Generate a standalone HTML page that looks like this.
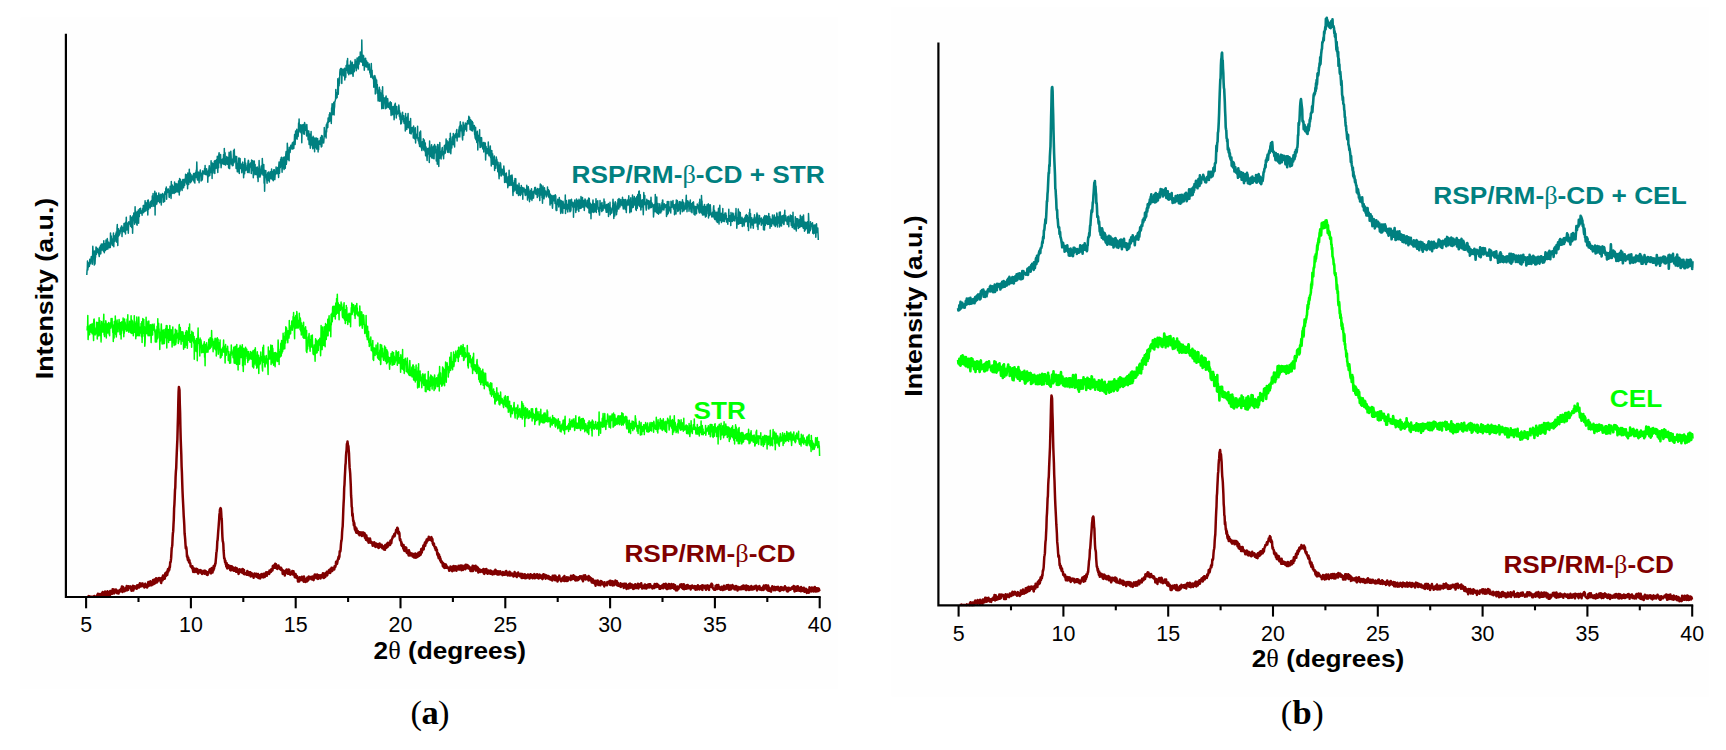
<!DOCTYPE html>
<html lang="en"><head><meta charset="utf-8"><title>XRD patterns</title>
<style>
html,body{margin:0;padding:0;background:#fff;}
body{width:1726px;height:750px;overflow:hidden;}
svg{display:block;}
text{font-family:"Liberation Sans",sans-serif;}
.tk{font-size:21.4px;fill:#000;}
.al{font-size:24.5px;font-weight:bold;fill:#000;}
.cl{font-size:24.6px;font-weight:bold;}
.sym{font-family:"Liberation Serif",serif;font-weight:normal;}
.cap{font-family:"Liberation Serif","DejaVu Serif",serif;font-size:34.5px;fill:#000;}
</style></head><body>
<svg width="1726" height="750" viewBox="0 0 1726 750">
<rect width="1726" height="750" fill="#fff"/>
<rect x="20.3" y="17.3" width="818.1" height="671.6" fill="#fefefe"/>
<rect x="891.3" y="6.7" width="818.1" height="690" fill="#fefefe"/>
<path d="M86.8,275.0 87.0,271.0 87.3,268.4 87.5,260.9 87.8,269.9 88.0,267.5 88.3,262.8 88.5,267.1 88.8,265.7 89.0,265.0 89.3,266.3 89.5,265.2 89.8,259.2 90.0,261.3 90.3,259.5 90.5,263.7 90.8,260.9 91.0,259.1 91.3,256.6 91.5,258.5 91.8,259.3 92.0,257.7 92.3,264.2 92.5,262.6 92.8,246.3 93.0,249.5 93.3,256.5 93.5,255.1 93.8,257.5 94.0,257.3 94.3,265.1 94.5,250.9 94.8,253.8 95.0,263.9 95.3,257.6 95.5,257.4 95.8,252.1 96.0,246.9 96.3,254.5 96.5,254.0 96.8,247.9 97.0,250.0 97.3,252.4 97.5,248.4 97.8,251.8 98.0,252.4 98.3,251.9 98.5,249.4 98.8,253.9 99.0,255.0 99.3,256.5 99.5,247.2 99.8,253.7 100.0,248.2 100.3,253.9 100.5,245.4 100.8,253.7 101.0,249.5 101.3,244.1 101.5,247.9 101.8,249.3 102.0,250.1 102.3,244.6 102.5,243.9 102.8,249.3 103.0,246.3 103.3,249.2 103.5,251.3 103.8,240.8 104.0,248.8 104.3,252.8 104.5,246.1 104.8,243.7 105.0,250.3 105.3,248.0 105.5,250.6 105.8,245.1 106.0,240.0 106.3,245.8 106.5,244.2 106.8,249.2 107.0,246.6 107.3,238.5 107.5,240.2 107.8,249.0 108.0,247.9 108.3,242.0 108.5,244.6 108.8,246.3 109.0,246.2 109.3,247.7 109.5,244.8 109.8,243.1 110.0,242.1 110.3,247.5 110.5,233.1 110.8,241.9 111.0,242.4 111.3,235.9 111.5,243.2 111.8,238.7 112.0,244.9 112.3,240.4 112.5,243.5 112.8,245.6 113.0,241.7 113.3,236.0 113.5,233.0 113.8,246.8 114.0,238.5 114.3,235.7 114.5,239.0 114.8,237.2 115.0,241.4 115.3,237.6 115.5,237.3 115.8,233.8 116.0,238.6 116.3,231.9 116.5,238.9 116.8,242.3 117.0,228.9 117.3,224.6 117.5,237.5 117.8,245.6 118.0,230.0 118.3,228.7 118.5,236.3 118.8,229.9 119.0,231.1 119.3,231.5 119.5,235.0 119.8,230.8 120.0,233.4 120.3,231.2 120.5,228.1 120.8,230.1 121.0,227.2 121.3,231.1 121.5,226.0 121.8,225.9 122.0,236.6 122.3,229.9 122.5,229.6 122.8,231.8 123.0,227.6 123.3,228.2 123.5,230.8 123.8,229.9 124.0,223.5 124.3,231.9 124.5,225.5 124.8,223.3 125.0,223.7 125.3,225.7 125.5,234.1 125.8,221.9 126.0,227.4 126.3,217.3 126.5,226.3 126.8,229.9 127.0,224.8 127.3,222.9 127.5,226.4 127.8,228.2 128.1,227.8 128.3,233.2 128.6,225.4 128.8,221.7 129.1,223.5 129.3,223.5 129.6,224.0 129.8,223.2 130.1,223.9 130.3,215.7 130.6,226.2 130.8,219.8 131.1,217.2 131.3,224.7 131.6,227.4 131.8,223.6 132.1,222.0 132.3,217.0 132.6,233.2 132.8,224.4 133.1,215.4 133.3,216.7 133.6,220.2 133.8,212.9 134.1,220.1 134.3,217.2 134.6,224.2 134.8,222.8 135.1,206.8 135.3,218.4 135.6,211.0 135.8,222.5 136.1,218.2 136.3,219.6 136.6,212.4 136.8,224.6 137.1,225.2 137.3,211.7 137.6,217.7 137.8,212.9 138.1,215.5 138.3,209.9 138.6,223.2 138.8,210.7 139.1,213.4 139.3,216.6 139.6,208.7 139.8,212.9 140.1,211.3 140.3,212.9 140.6,208.2 140.8,213.3 141.1,211.9 141.3,211.2 141.6,212.6 141.8,210.9 142.1,215.2 142.3,210.3 142.6,210.9 142.8,208.4 143.1,208.8 143.3,205.4 143.6,212.8 143.8,205.5 144.1,207.0 144.3,211.5 144.6,211.5 144.8,207.8 145.1,200.7 145.3,210.9 145.6,210.0 145.8,202.6 146.1,210.7 146.3,205.3 146.6,203.3 146.8,208.3 147.1,206.9 147.3,208.4 147.6,200.4 147.8,214.9 148.1,204.3 148.3,200.1 148.6,209.2 148.8,204.8 149.1,207.5 149.3,204.4 149.6,205.4 149.8,206.6 150.1,202.1 150.3,208.0 150.6,202.9 150.8,201.3 151.1,204.9 151.3,206.3 151.6,203.2 151.8,200.3 152.1,206.4 152.3,196.0 152.6,199.0 152.8,203.4 153.1,193.6 153.3,203.0 153.6,202.4 153.8,206.3 154.1,198.3 154.3,199.4 154.6,203.3 154.8,191.2 155.1,214.9 155.3,198.4 155.6,198.0 155.8,204.7 156.1,200.6 156.3,193.0 156.6,203.2 156.8,204.0 157.1,198.2 157.3,198.7 157.6,201.8 157.8,195.7 158.1,201.3 158.3,200.1 158.6,196.2 158.8,192.9 159.1,197.8 159.3,194.8 159.6,202.7 159.8,198.8 160.1,201.4 160.3,198.5 160.6,198.9 160.8,194.2 161.1,200.3 161.3,204.9 161.6,195.7 161.8,194.4 162.1,196.1 162.3,194.5 162.6,193.4 162.8,196.9 163.1,194.9 163.3,202.2 163.6,195.9 163.8,197.1 164.1,199.7 164.3,194.1 164.6,201.4 164.8,192.4 165.1,191.5 165.3,193.3 165.6,194.2 165.8,188.5 166.1,194.2 166.3,187.1 166.6,199.3 166.8,193.6 167.1,191.1 167.3,189.8 167.6,191.9 167.8,192.4 168.1,188.8 168.3,189.2 168.6,192.2 168.8,190.6 169.1,196.7 169.3,197.4 169.6,192.5 169.8,194.3 170.1,186.3 170.3,194.7 170.6,191.7 170.8,193.7 171.1,198.4 171.3,181.5 171.6,192.3 171.8,186.3 172.1,193.4 172.3,185.1 172.6,188.4 172.8,191.3 173.1,192.9 173.3,190.4 173.6,186.5 173.8,187.4 174.1,193.4 174.3,191.2 174.6,182.0 174.8,192.7 175.1,190.7 175.3,192.5 175.6,187.1 175.8,191.9 176.1,183.6 176.3,190.4 176.6,185.7 176.8,190.5 177.1,191.8 177.3,184.1 177.6,186.9 177.8,187.1 178.1,191.9 178.3,189.6 178.6,181.1 178.8,188.2 179.1,189.2 179.3,195.0 179.6,178.4 179.8,183.2 180.1,191.0 180.3,179.3 180.6,179.8 180.8,187.0 181.1,188.9 181.3,181.5 181.6,186.5 181.8,184.5 182.1,190.4 182.3,183.7 182.6,187.8 182.8,179.4 183.1,182.4 183.3,182.6 183.6,187.7 183.8,185.1 184.1,179.2 184.3,185.2 184.6,185.4 184.8,181.5 185.1,180.7 185.3,180.8 185.6,174.2 185.8,182.1 186.1,182.2 186.3,180.8 186.6,184.0 186.8,174.7 187.1,178.1 187.3,178.3 187.6,188.7 187.8,173.1 188.1,182.2 188.3,183.7 188.6,181.1 188.8,184.4 189.1,174.8 189.3,169.2 189.6,182.1 189.8,173.5 190.1,177.1 190.3,173.2 190.6,182.7 190.8,181.7 191.1,174.7 191.3,181.5 191.6,178.0 191.8,176.7 192.1,177.4 192.3,176.2 192.6,179.5 192.8,178.1 193.1,175.1 193.3,180.7 193.6,173.6 193.8,177.4 194.1,177.8 194.3,182.2 194.6,173.5 194.8,183.1 195.1,176.2 195.3,174.5 195.6,172.3 195.8,177.6 196.1,175.1 196.3,170.0 196.6,169.8 196.8,161.9 197.1,171.5 197.3,179.0 197.6,180.1 197.8,177.9 198.1,175.6 198.3,172.1 198.6,174.1 198.8,177.6 199.1,182.8 199.3,177.5 199.6,172.3 199.8,173.6 200.1,171.3 200.3,169.9 200.6,172.4 200.8,174.0 201.1,181.0 201.3,173.2 201.6,178.8 201.8,180.5 202.1,173.1 202.3,179.7 202.6,175.8 202.8,170.8 203.1,173.7 203.3,172.6 203.6,171.4 203.8,171.5 204.1,172.9 204.3,174.1 204.6,168.4 204.8,172.1 205.1,165.5 205.3,173.1 205.6,174.6 205.8,172.6 206.1,173.1 206.3,174.3 206.6,168.8 206.8,170.6 207.1,173.7 207.3,175.8 207.6,173.1 207.8,182.3 208.1,170.9 208.3,175.5 208.6,176.5 208.8,170.4 209.1,167.4 209.3,165.7 209.6,171.4 209.8,175.4 210.1,171.7 210.3,171.1 210.6,168.6 210.8,172.5 211.1,160.8 211.3,170.8 211.6,169.8 211.8,163.6 212.1,178.6 212.3,163.0 212.6,164.1 212.8,163.4 213.1,173.1 213.3,164.2 213.6,170.6 213.8,170.0 214.1,168.3 214.3,161.3 214.6,164.0 214.8,173.5 215.1,160.4 215.3,162.1 215.6,164.7 215.8,168.5 216.1,165.8 216.3,167.6 216.6,159.5 216.8,167.9 217.1,166.0 217.3,156.3 217.6,169.5 217.8,172.5 218.1,159.0 218.3,162.3 218.6,167.8 218.8,155.1 219.1,152.7 219.3,155.4 219.6,158.3 219.8,158.1 220.1,162.9 220.3,161.3 220.6,154.6 220.8,162.2 221.1,167.7 221.3,164.6 221.6,163.6 221.8,159.4 222.1,163.4 222.3,160.9 222.6,162.3 222.8,158.7 223.1,163.9 223.3,161.1 223.6,154.4 223.8,159.7 224.1,164.4 224.3,148.4 224.6,156.8 224.8,155.9 225.1,152.8 225.3,163.4 225.6,165.0 225.8,162.8 226.1,160.5 226.3,159.3 226.6,160.6 226.8,156.5 227.1,163.6 227.3,164.3 227.6,163.9 227.8,157.7 228.1,160.4 228.3,159.4 228.6,167.9 228.8,161.1 229.1,152.3 229.3,162.2 229.6,168.6 229.8,163.6 230.1,164.5 230.3,161.0 230.6,152.5 230.8,151.3 231.1,155.8 231.3,160.7 231.6,162.7 231.8,164.4 232.1,160.1 232.3,165.8 232.6,160.5 232.8,158.8 233.1,165.6 233.3,158.1 233.6,150.4 233.8,157.7 234.1,162.7 234.3,149.2 234.6,161.0 234.8,161.2 235.1,156.6 235.3,156.4 235.6,160.9 235.8,160.6 236.1,168.5 236.3,164.7 236.6,156.4 236.8,159.6 237.1,166.4 237.3,171.7 237.6,165.3 237.8,165.0 238.1,171.8 238.3,163.8 238.6,162.6 238.8,158.0 239.1,162.0 239.3,173.6 239.6,158.3 239.8,164.5 240.1,158.5 240.3,165.2 240.6,168.6 240.8,163.8 241.1,168.1 241.3,168.2 241.6,167.1 241.8,172.7 242.1,168.7 242.3,164.2 242.6,162.7 242.8,162.1 243.1,167.9 243.3,164.5 243.6,177.8 243.8,174.0 244.1,166.7 244.3,164.9 244.6,173.7 244.8,158.4 245.1,164.7 245.3,170.8 245.6,162.9 245.8,164.9 246.1,165.6 246.3,170.0 246.6,167.9 246.8,169.1 247.1,170.0 247.3,167.7 247.6,172.5 247.8,164.6 248.1,161.7 248.3,160.3 248.6,161.1 248.8,165.8 249.1,172.7 249.3,169.1 249.6,165.9 249.8,164.0 250.1,166.4 250.3,167.0 250.6,166.5 250.8,162.8 251.1,167.0 251.3,173.6 251.6,159.9 251.8,168.4 252.1,160.4 252.3,170.4 252.6,165.5 252.8,160.8 253.1,170.3 253.3,177.8 253.6,170.5 253.8,175.2 254.1,170.0 254.3,161.1 254.6,172.6 254.8,168.8 255.1,164.4 255.3,174.2 255.6,172.1 255.8,168.7 256.1,174.8 256.3,167.5 256.6,174.1 256.8,167.4 257.1,173.8 257.3,166.9 257.6,178.1 257.8,172.9 258.1,181.6 258.3,168.5 258.6,170.0 258.8,175.8 259.1,160.5 259.3,167.8 259.6,176.9 259.8,174.6 260.1,176.9 260.3,171.4 260.6,175.3 260.8,169.8 261.1,167.2 261.3,165.9 261.6,170.9 261.8,171.1 262.1,174.0 262.3,158.4 262.6,165.2 262.8,171.6 263.1,175.2 263.3,171.6 263.6,170.5 263.8,164.5 264.1,183.2 264.3,169.9 264.6,191.2 264.8,181.6 265.1,176.2 265.3,172.7 265.6,175.8 265.8,170.4 266.1,176.6 266.3,175.6 266.6,178.0 266.8,179.9 267.1,183.3 267.3,174.3 267.6,180.5 267.8,172.7 268.1,172.4 268.3,173.6 268.6,172.1 268.8,180.6 269.1,180.4 269.3,182.0 269.6,176.4 269.8,177.8 270.1,174.1 270.3,171.7 270.6,178.5 270.8,177.8 271.1,171.8 271.3,179.0 271.6,169.0 271.8,175.6 272.1,173.6 272.3,173.9 272.6,171.4 272.8,180.0 273.1,178.2 273.3,180.7 273.6,176.0 273.8,169.7 274.1,173.4 274.3,169.7 274.6,176.6 274.8,179.6 275.1,175.5 275.3,171.3 275.6,172.0 275.8,174.2 276.1,166.9 276.3,173.5 276.6,173.4 276.8,169.9 277.1,170.2 277.3,172.4 277.6,167.8 277.8,167.5 278.1,174.1 278.3,171.4 278.6,177.4 278.8,165.6 279.1,161.9 279.3,173.3 279.6,173.1 279.8,165.5 280.1,162.0 280.3,167.8 280.6,159.4 280.8,166.0 281.1,157.7 281.3,165.8 281.6,157.3 281.8,165.1 282.1,172.3 282.3,164.2 282.6,168.3 282.8,161.9 283.1,160.4 283.3,157.4 283.6,167.9 283.8,162.8 284.1,169.6 284.3,157.1 284.6,160.8 284.8,162.5 285.1,166.9 285.3,168.2 285.6,157.1 285.8,154.6 286.1,151.5 286.3,164.3 286.6,161.5 286.8,154.8 287.1,156.8 287.3,143.3 287.6,148.7 287.8,159.6 288.1,156.8 288.3,159.0 288.6,149.8 288.8,156.1 289.1,160.7 289.3,147.3 289.6,152.1 289.8,149.6 290.1,152.4 290.3,150.3 290.6,149.1 290.8,145.3 291.1,148.5 291.3,145.3 291.6,146.7 291.8,146.4 292.1,148.9 292.3,143.0 292.6,143.5 292.8,148.9 293.1,142.7 293.3,141.9 293.6,146.1 293.8,148.5 294.1,141.6 294.3,141.5 294.6,134.6 294.8,141.4 295.1,144.5 295.3,140.7 295.6,131.0 295.8,138.3 296.1,132.5 296.3,134.8 296.6,135.6 296.8,129.2 297.1,139.3 297.3,132.5 297.6,135.5 297.8,134.1 298.1,136.4 298.3,134.2 298.6,123.0 298.8,128.9 299.1,119.0 299.3,125.7 299.6,130.3 299.8,130.8 300.1,132.1 300.3,124.8 300.6,127.7 300.8,126.8 301.1,131.8 301.3,133.2 301.6,124.9 301.8,142.8 302.1,126.6 302.3,125.1 302.6,129.4 302.8,130.2 303.1,129.4 303.3,124.4 303.6,133.7 303.8,127.8 304.1,134.3 304.3,133.9 304.6,122.6 304.8,124.1 305.1,124.2 305.3,129.8 305.6,129.2 305.8,130.3 306.1,125.9 306.3,131.5 306.6,135.9 306.8,124.4 307.1,129.5 307.3,131.8 307.6,130.6 307.8,130.8 308.1,139.8 308.3,138.3 308.6,137.1 308.8,130.9 309.1,144.5 309.3,137.2 309.6,133.9 309.8,135.8 310.1,135.9 310.3,148.2 310.6,140.4 310.8,140.5 311.1,131.6 311.3,144.7 311.6,137.5 311.8,137.7 312.1,145.7 312.3,143.2 312.6,147.3 312.8,148.7 313.1,136.3 313.3,143.4 313.6,137.2 313.8,143.7 314.1,147.9 314.3,138.1 314.6,151.7 314.8,138.5 315.1,138.9 315.3,143.4 315.6,147.4 315.8,138.0 316.1,144.0 316.3,138.1 316.6,149.1 316.8,144.6 317.1,142.1 317.3,148.4 317.6,138.4 317.8,142.3 318.1,151.9 318.3,141.0 318.6,149.8 318.8,144.8 319.1,140.9 319.3,142.9 319.6,144.3 319.8,142.2 320.1,140.4 320.3,140.6 320.6,137.6 320.8,144.4 321.1,145.5 321.3,146.9 321.6,135.6 321.8,146.5 322.1,142.5 322.3,136.0 322.6,142.0 322.8,142.4 323.1,142.6 323.3,142.8 323.6,143.0 323.8,141.9 324.1,137.1 324.3,127.5 324.6,132.3 324.8,136.2 325.1,131.7 325.3,135.7 325.6,135.3 325.8,131.1 326.1,138.0 326.3,124.8 326.6,132.1 326.8,125.1 327.1,122.9 327.3,128.0 327.6,121.9 327.8,127.5 328.1,118.0 328.3,122.4 328.6,117.9 328.8,119.8 329.1,118.5 329.3,114.6 329.6,121.5 329.8,112.7 330.1,113.1 330.3,120.4 330.6,120.1 330.8,118.1 331.1,116.0 331.3,123.6 331.6,107.9 331.8,109.2 332.1,103.7 332.3,114.8 332.6,111.5 332.8,114.3 333.1,112.9 333.3,107.0 333.6,103.7 333.8,102.2 334.1,115.1 334.3,109.0 334.6,106.6 334.8,101.7 335.1,101.5 335.3,100.0 335.6,99.2 335.8,89.4 336.1,98.4 336.3,96.0 336.6,97.7 336.8,96.1 337.1,97.6 337.3,92.5 337.6,94.6 337.8,78.8 338.1,83.6 338.3,94.3 338.6,80.2 338.8,82.9 339.1,85.7 339.3,77.6 339.6,83.2 339.8,72.7 340.1,69.5 340.3,70.9 340.6,68.6 340.8,74.7 341.1,72.7 341.3,74.9 341.6,68.5 341.8,83.6 342.1,72.1 342.3,72.2 342.6,74.2 342.8,71.1 343.1,69.3 343.3,72.3 343.6,75.8 343.8,74.6 344.1,75.7 344.3,69.2 344.6,68.2 344.8,80.1 345.1,70.4 345.3,73.4 345.6,74.5 345.8,77.4 346.1,65.4 346.3,69.1 346.6,69.3 346.8,69.8 347.1,60.7 347.3,70.6 347.6,58.5 347.8,72.2 348.1,73.2 348.3,73.4 348.6,65.6 348.8,74.8 349.1,66.9 349.3,65.3 349.6,66.3 349.8,66.8 350.1,71.1 350.3,73.8 350.6,61.1 350.8,67.7 351.1,73.8 351.3,70.6 351.6,71.8 351.8,63.0 352.1,73.3 352.3,62.3 352.6,69.6 352.8,74.4 353.1,76.3 353.3,70.1 353.6,71.4 353.8,64.7 354.1,65.0 354.3,71.7 354.6,66.4 354.8,65.5 355.1,59.6 355.3,66.0 355.6,67.8 355.8,61.2 356.1,62.1 356.3,70.7 356.6,64.4 356.8,62.0 357.1,58.0 357.3,59.9 357.6,61.2 357.8,67.8 358.1,59.0 358.3,69.0 358.6,57.0 358.8,59.2 359.1,64.1 359.3,59.2 359.6,56.4 359.8,59.2 360.1,61.5 360.3,52.0 360.6,58.2 360.8,58.7 361.1,57.3 361.3,62.1 361.6,56.4 361.8,40.0 362.1,59.0 362.3,62.0 362.6,57.9 362.8,65.5 363.1,55.2 363.3,64.8 363.6,55.7 363.8,58.9 364.1,61.4 364.3,70.3 364.6,64.2 364.8,58.9 365.1,66.6 365.3,60.4 365.6,58.3 365.8,64.0 366.1,62.8 366.3,66.9 366.6,60.9 366.8,65.3 367.1,66.9 367.3,65.8 367.6,64.9 367.8,62.5 368.1,69.9 368.3,67.1 368.6,69.1 368.8,66.0 369.1,68.0 369.3,64.0 369.6,69.3 369.8,72.7 370.1,70.3 370.3,74.1 370.6,72.3 370.8,77.3 371.1,71.1 371.3,63.5 371.6,74.9 371.8,73.0 372.1,70.2 372.3,77.8 372.6,76.9 372.8,78.4 373.1,75.9 373.3,78.9 373.6,80.0 373.8,87.3 374.1,77.6 374.3,81.3 374.6,83.8 374.8,75.6 375.1,77.0 375.3,94.0 375.6,77.9 375.8,88.7 376.1,83.4 376.3,84.5 376.6,80.0 376.8,85.3 377.1,93.3 377.3,84.6 377.6,93.7 377.8,93.0 378.1,100.9 378.3,90.6 378.6,98.5 378.8,97.4 379.1,92.7 379.3,87.2 379.6,101.3 379.8,89.3 380.1,93.5 380.3,99.7 380.6,101.1 380.8,93.0 381.1,96.9 381.3,96.3 381.6,102.8 381.8,108.8 382.1,90.5 382.3,102.6 382.6,86.7 382.8,99.4 383.1,94.9 383.3,108.5 383.6,101.0 383.8,97.4 384.1,98.7 384.3,98.6 384.6,102.2 384.8,98.2 385.1,104.8 385.3,108.8 385.6,105.5 385.8,97.5 386.1,96.0 386.3,100.0 386.6,108.0 386.8,102.3 387.1,101.1 387.3,104.8 387.6,98.4 387.8,99.8 388.1,107.1 388.3,103.9 388.6,107.4 388.8,107.0 389.1,103.3 389.3,103.1 389.6,104.3 389.8,109.1 390.1,106.9 390.3,101.7 390.6,105.8 390.8,110.0 391.1,115.5 391.3,102.7 391.6,109.2 391.8,106.8 392.1,111.7 392.3,110.2 392.6,114.8 392.8,110.9 393.1,106.5 393.3,106.7 393.6,110.9 393.8,109.8 394.1,119.8 394.3,116.8 394.6,104.8 394.8,111.5 395.1,104.4 395.3,103.2 395.6,113.7 395.8,113.0 396.1,106.4 396.3,118.1 396.6,107.0 396.8,106.4 397.1,114.4 397.3,112.8 397.6,111.3 397.8,111.9 398.1,113.4 398.3,112.1 398.6,112.2 398.8,105.0 399.1,107.6 399.3,116.2 399.6,110.8 399.8,116.4 400.1,119.6 400.3,113.1 400.6,116.1 400.8,124.0 401.1,118.3 401.3,123.5 401.6,122.5 401.8,119.4 402.1,115.9 402.3,113.1 402.6,112.2 402.8,119.3 403.1,119.5 403.3,117.1 403.6,121.8 403.8,115.8 404.1,123.5 404.3,119.2 404.6,119.1 404.8,119.6 405.1,119.4 405.3,130.9 405.6,113.5 405.8,121.5 406.1,126.4 406.3,124.5 406.6,120.4 406.8,129.5 407.1,117.7 407.3,117.0 407.6,125.4 407.8,117.0 408.1,113.4 408.3,127.7 408.6,127.5 408.8,127.7 409.1,122.8 409.3,126.0 409.6,121.4 409.8,133.3 410.1,129.6 410.3,129.7 410.6,118.4 410.8,130.6 411.1,133.9 411.3,133.0 411.6,131.5 411.8,128.5 412.1,127.4 412.3,131.8 412.6,131.2 412.8,131.0 413.1,129.0 413.3,137.9 413.6,126.0 413.8,131.3 414.1,129.3 414.3,136.7 414.6,138.8 414.8,138.3 415.1,136.6 415.3,127.8 415.6,143.1 415.8,136.8 416.1,134.5 416.3,135.5 416.6,134.3 416.8,138.0 417.1,137.9 417.3,135.4 417.6,126.3 417.8,137.5 418.1,140.1 418.3,140.7 418.6,138.1 418.8,141.1 419.1,144.0 419.3,137.9 419.6,146.5 419.8,132.2 420.1,135.5 420.3,137.4 420.6,131.1 420.8,137.6 421.1,147.6 421.3,147.9 421.6,143.3 421.8,150.6 422.1,144.6 422.3,141.7 422.6,145.3 422.8,144.0 423.1,148.1 423.3,138.8 423.6,150.0 423.8,144.1 424.1,150.1 424.3,140.1 424.6,145.3 424.8,147.8 425.1,151.7 425.3,142.9 425.6,155.7 425.8,150.9 426.1,146.9 426.3,154.7 426.6,150.2 426.8,155.1 427.1,160.4 427.3,153.9 427.6,148.6 427.8,149.3 428.1,153.9 428.3,150.3 428.6,148.2 428.8,149.1 429.1,155.0 429.3,162.4 429.6,141.1 429.8,155.7 430.1,151.8 430.3,156.1 430.6,156.5 430.8,153.0 431.1,148.4 431.3,146.8 431.6,144.7 431.8,158.1 432.1,151.9 432.3,150.5 432.6,151.6 432.8,147.0 433.1,154.1 433.3,158.5 433.6,157.7 433.8,146.1 434.1,158.7 434.3,149.5 434.6,144.6 434.8,147.5 435.1,148.6 435.3,152.7 435.6,148.3 435.8,146.3 436.1,151.6 436.3,161.0 436.6,149.7 436.8,154.7 437.1,153.1 437.3,164.2 437.6,144.6 437.8,157.4 438.1,147.2 438.3,150.2 438.6,152.3 438.8,166.4 439.1,149.4 439.3,144.6 439.6,158.2 439.8,142.5 440.1,151.6 440.3,152.5 440.6,153.0 440.8,151.8 441.1,159.0 441.3,154.1 441.6,156.0 441.8,150.5 442.1,149.0 442.3,147.5 442.6,154.5 442.8,151.6 443.1,154.1 443.3,153.9 443.6,158.7 443.8,152.1 444.1,154.3 444.3,145.7 444.6,146.1 444.8,149.2 445.1,145.1 445.3,153.1 445.6,144.2 445.8,150.0 446.1,138.9 446.3,144.5 446.6,147.5 446.8,147.6 447.1,140.8 447.3,148.7 447.6,152.2 447.8,150.5 448.1,144.6 448.3,144.7 448.6,141.9 448.8,149.4 449.1,152.6 449.3,143.9 449.6,138.6 449.8,149.1 450.1,148.4 450.3,133.3 450.6,145.4 450.8,153.8 451.1,147.8 451.3,146.3 451.6,145.4 451.8,148.0 452.1,139.1 452.3,136.9 452.6,144.4 452.8,139.4 453.1,143.2 453.3,133.5 453.6,144.7 453.8,144.7 454.1,140.9 454.3,141.1 454.6,147.0 454.8,134.9 455.1,135.3 455.3,134.1 455.6,136.6 455.8,133.6 456.1,137.7 456.3,134.3 456.6,130.4 456.8,129.6 457.1,141.0 457.3,135.1 457.6,133.9 457.8,134.6 458.1,133.7 458.3,136.9 458.6,135.6 458.8,130.2 459.1,128.8 459.3,127.2 459.6,126.1 459.8,137.1 460.1,126.8 460.3,121.7 460.6,128.1 460.8,126.2 461.1,130.7 461.3,125.2 461.6,131.0 461.8,130.0 462.1,133.5 462.3,137.2 462.6,139.9 462.8,133.2 463.1,122.2 463.3,125.2 463.6,127.7 463.8,135.3 464.1,129.1 464.3,131.2 464.6,125.0 464.8,128.1 465.1,128.4 465.3,123.1 465.6,128.2 465.8,129.3 466.1,123.8 466.3,128.6 466.6,131.1 466.8,124.2 467.1,123.7 467.3,122.2 467.6,120.7 467.8,123.9 468.1,121.3 468.3,121.7 468.6,119.6 468.8,116.2 469.1,118.7 469.3,124.1 469.6,117.5 469.8,122.5 470.1,129.6 470.3,127.5 470.6,119.7 470.8,125.5 471.1,120.3 471.3,130.4 471.6,121.2 471.8,124.4 472.1,130.5 472.3,121.4 472.6,131.1 472.8,122.5 473.1,127.6 473.3,125.9 473.6,127.4 473.8,129.1 474.1,128.8 474.3,125.4 474.6,134.1 474.8,134.2 475.1,137.3 475.3,138.4 475.6,127.3 475.8,139.2 476.1,139.9 476.3,132.7 476.6,140.0 476.8,142.4 477.1,134.3 477.3,131.2 477.6,136.0 477.8,150.0 478.1,139.4 478.3,137.2 478.6,138.1 478.8,135.3 479.1,138.2 479.3,140.8 479.6,129.7 479.8,142.7 480.1,147.6 480.3,141.0 480.6,140.6 480.8,147.3 481.1,137.5 481.3,137.9 481.6,137.7 481.8,143.3 482.1,146.1 482.3,144.3 482.6,147.4 482.8,149.0 483.1,147.9 483.3,142.6 483.6,145.3 483.8,152.1 484.1,142.6 484.3,146.3 484.6,145.9 484.8,147.3 485.1,143.8 485.3,142.9 485.6,160.0 485.8,153.4 486.1,146.6 486.3,149.8 486.6,153.3 486.8,149.2 487.1,153.7 487.3,148.7 487.6,150.1 487.8,151.6 488.1,150.4 488.3,142.1 488.6,153.1 488.8,154.5 489.1,155.7 489.3,149.7 489.6,155.8 489.8,155.6 490.1,147.5 490.3,145.9 490.6,157.8 490.8,152.0 491.1,160.8 491.3,166.0 491.6,154.7 491.8,150.4 492.1,157.8 492.3,161.2 492.6,153.7 492.8,164.3 493.1,163.6 493.3,162.6 493.6,157.8 493.8,164.4 494.1,164.5 494.3,156.0 494.6,170.5 494.8,160.6 495.1,163.8 495.3,160.4 495.6,164.6 495.8,168.3 496.1,160.2 496.3,156.9 496.6,162.5 496.8,159.2 497.1,161.9 497.3,165.0 497.6,165.6 497.8,171.8 498.1,162.2 498.3,168.4 498.6,165.1 498.8,173.5 499.1,178.8 499.3,169.6 499.6,175.9 499.8,166.7 500.1,162.5 500.3,164.2 500.6,163.2 500.8,166.2 501.1,169.6 501.3,175.9 501.6,174.3 501.8,173.6 502.1,170.1 502.3,169.2 502.6,172.7 502.8,173.5 503.1,174.3 503.3,175.1 503.6,173.3 503.8,165.9 504.1,169.6 504.3,171.2 504.6,182.4 504.8,173.5 505.1,178.6 505.3,182.3 505.6,177.8 505.8,175.0 506.1,175.7 506.3,172.9 506.6,178.9 506.8,182.7 507.1,180.6 507.3,181.8 507.6,181.9 507.8,187.7 508.1,176.7 508.3,180.4 508.6,183.0 508.8,185.7 509.1,170.2 509.3,178.6 509.6,180.3 509.8,177.0 510.1,185.4 510.3,183.0 510.6,180.6 510.8,175.5 511.1,177.1 511.3,178.9 511.6,185.3 511.8,178.4 512.0,174.9 512.3,177.8 512.5,181.8 512.8,191.8 513.0,195.5 513.3,182.9 513.5,189.3 513.8,191.5 514.0,191.2 514.3,185.3 514.5,180.4 514.8,184.1 515.0,178.4 515.3,187.6 515.5,190.1 515.8,178.8 516.0,186.9 516.3,188.5 516.5,192.8 516.8,193.5 517.0,191.2 517.3,185.0 517.5,186.6 517.8,193.5 518.0,185.9 518.3,188.5 518.5,195.6 518.8,189.6 519.0,183.3 519.3,188.1 519.5,192.3 519.8,188.9 520.0,194.8 520.3,195.5 520.5,187.4 520.8,188.1 521.0,190.0 521.3,185.4 521.5,192.4 521.8,190.1 522.0,194.4 522.3,188.6 522.5,187.5 522.8,199.3 523.0,187.8 523.3,189.1 523.5,188.6 523.8,190.6 524.0,188.0 524.3,191.9 524.5,189.1 524.8,190.5 525.0,193.9 525.3,195.4 525.5,194.5 525.8,189.4 526.0,194.3 526.3,192.1 526.5,192.2 526.8,185.3 527.0,195.6 527.3,192.1 527.5,200.1 527.8,195.5 528.0,188.0 528.3,186.8 528.5,197.7 528.8,189.0 529.0,195.7 529.3,191.4 529.5,201.7 529.8,193.0 530.0,199.2 530.3,198.4 530.5,190.6 530.8,191.2 531.0,198.9 531.3,192.5 531.5,188.8 531.8,197.7 532.0,200.4 532.3,192.3 532.5,198.4 532.8,191.7 533.0,198.2 533.3,191.3 533.5,198.1 533.8,194.6 534.0,191.5 534.3,193.3 534.5,189.9 534.8,187.4 535.0,187.6 535.3,191.9 535.5,187.6 535.8,194.0 536.0,194.4 536.3,194.1 536.5,189.9 536.8,192.2 537.0,191.9 537.3,197.6 537.5,188.5 537.8,190.3 538.0,190.9 538.3,191.3 538.5,193.0 538.8,189.1 539.0,196.2 539.3,189.1 539.5,195.8 539.8,200.6 540.0,190.8 540.3,184.0 540.5,195.1 540.8,193.9 541.0,194.2 541.3,184.9 541.5,195.2 541.8,187.3 542.0,197.7 542.3,196.5 542.5,203.2 542.8,190.7 543.0,185.9 543.3,197.1 543.5,196.4 543.8,191.2 544.0,198.8 544.3,196.1 544.5,187.7 544.8,191.9 545.0,191.6 545.3,193.2 545.5,194.7 545.8,191.1 546.0,193.4 546.3,197.0 546.5,194.3 546.8,193.6 547.0,193.7 547.3,194.8 547.5,187.1 547.8,193.8 548.0,191.4 548.3,196.4 548.5,189.8 548.8,196.5 549.0,197.6 549.3,191.0 549.5,198.0 549.8,193.9 550.0,205.1 550.3,199.7 550.5,194.3 550.8,198.9 551.0,198.0 551.3,203.5 551.5,200.0 551.8,200.9 552.0,195.6 552.3,206.5 552.5,208.2 552.8,202.1 553.0,199.3 553.3,200.3 553.5,195.7 553.8,200.8 554.0,195.4 554.3,200.5 554.5,198.8 554.8,197.1 555.0,203.4 555.3,194.7 555.5,201.1 555.8,195.8 556.0,209.5 556.3,210.4 556.5,205.7 556.8,210.4 557.0,205.0 557.3,205.0 557.5,201.0 557.8,199.2 558.0,203.8 558.3,201.1 558.5,201.8 558.8,207.0 559.0,203.5 559.3,197.5 559.5,203.4 559.8,201.3 560.0,203.5 560.3,200.2 560.5,210.2 560.8,213.4 561.0,200.6 561.3,208.3 561.5,208.2 561.8,201.2 562.0,206.4 562.3,212.1 562.5,209.8 562.8,213.2 563.0,201.3 563.3,203.2 563.5,207.8 563.8,208.1 564.0,206.8 564.3,205.0 564.5,205.0 564.8,204.1 565.0,208.7 565.3,194.9 565.5,213.6 565.8,204.5 566.0,200.6 566.3,209.1 566.5,200.6 566.8,208.3 567.0,204.9 567.3,209.1 567.5,209.9 567.8,212.0 568.0,204.3 568.3,205.1 568.5,206.2 568.8,200.1 569.0,208.7 569.3,206.6 569.5,200.2 569.8,211.1 570.0,211.7 570.3,200.1 570.5,208.1 570.8,210.9 571.0,209.1 571.3,201.2 571.5,199.3 571.8,204.7 572.0,203.0 572.3,205.0 572.5,204.5 572.8,207.1 573.0,202.3 573.3,203.9 573.5,217.3 573.8,203.9 574.0,207.5 574.3,205.5 574.5,205.1 574.8,200.1 575.0,206.2 575.3,203.7 575.5,207.3 575.8,212.5 576.0,204.4 576.3,206.8 576.5,199.1 576.8,203.9 577.0,210.0 577.3,203.0 577.5,200.5 577.8,204.1 578.0,202.3 578.3,202.0 578.5,201.4 578.8,211.5 579.0,199.2 579.3,201.2 579.5,200.5 579.8,208.2 580.0,201.7 580.3,208.5 580.5,203.6 580.8,202.8 581.0,196.6 581.3,208.1 581.5,205.3 581.8,204.7 582.0,202.5 582.3,201.2 582.5,197.6 582.8,207.2 583.0,204.3 583.3,201.6 583.5,200.5 583.8,203.8 584.0,203.0 584.3,210.5 584.5,206.8 584.8,201.0 585.0,198.9 585.3,202.7 585.5,199.8 585.8,204.2 586.0,205.7 586.3,206.7 586.5,205.9 586.8,203.3 587.0,206.8 587.3,200.5 587.5,204.1 587.8,208.0 588.0,205.8 588.3,199.2 588.5,199.8 588.8,197.9 589.0,212.7 589.3,198.4 589.5,204.5 589.8,213.1 590.0,209.9 590.3,211.1 590.5,203.3 590.8,208.7 591.0,218.7 591.3,205.6 591.5,207.6 591.8,204.5 592.0,205.9 592.3,207.6 592.5,212.1 592.8,202.3 593.0,200.1 593.3,206.4 593.5,207.2 593.8,212.5 594.0,209.6 594.3,203.8 594.5,209.0 594.8,211.4 595.0,207.9 595.3,205.2 595.5,209.6 595.8,205.2 596.0,198.8 596.3,212.5 596.5,201.3 596.8,205.4 597.0,205.5 597.3,205.5 597.5,205.7 597.8,200.8 598.0,209.3 598.3,207.2 598.5,207.2 598.8,211.7 599.0,211.8 599.3,212.9 599.5,215.1 599.8,209.1 600.0,200.6 600.3,208.2 600.5,207.3 600.8,207.6 601.0,204.8 601.3,203.5 601.5,210.8 601.8,211.6 602.0,202.6 602.3,209.8 602.5,206.8 602.8,205.8 603.0,210.5 603.3,207.3 603.5,205.2 603.8,207.8 604.0,199.0 604.3,205.1 604.5,205.8 604.8,201.7 605.0,208.4 605.3,208.8 605.5,205.1 605.8,207.0 606.0,210.6 606.3,212.3 606.5,204.5 606.8,209.2 607.0,212.2 607.3,207.6 607.5,204.5 607.8,204.5 608.0,206.4 608.3,203.4 608.5,216.5 608.8,205.3 609.0,209.4 609.3,208.6 609.5,210.5 609.8,206.1 610.0,202.2 610.3,214.8 610.5,207.5 610.8,208.3 611.0,208.6 611.3,213.2 611.5,211.1 611.8,212.8 612.0,211.2 612.3,208.3 612.5,208.7 612.8,204.4 613.0,199.2 613.3,206.5 613.5,202.8 613.8,218.5 614.0,214.0 614.3,212.3 614.5,204.8 614.8,216.0 615.0,204.8 615.3,201.8 615.5,203.6 615.8,202.7 616.0,207.4 616.3,207.5 616.5,214.8 616.8,210.8 617.0,211.7 617.3,208.2 617.5,205.7 617.8,203.3 618.0,199.6 618.3,202.3 618.5,204.3 618.8,209.1 619.0,198.5 619.3,199.8 619.5,206.5 619.8,201.0 620.0,206.9 620.3,203.6 620.5,202.0 620.8,199.4 621.0,204.7 621.3,201.9 621.5,202.3 621.8,202.1 622.0,205.6 622.3,205.4 622.5,197.3 622.8,203.9 623.0,206.2 623.3,208.9 623.5,207.8 623.8,205.2 624.0,199.4 624.3,200.9 624.5,208.1 624.8,201.1 625.0,208.5 625.3,209.5 625.5,199.5 625.8,205.9 626.0,203.5 626.3,212.6 626.5,207.5 626.8,201.7 627.0,205.6 627.3,199.9 627.5,200.9 627.8,204.6 628.0,202.2 628.3,205.0 628.5,199.8 628.8,195.7 629.0,202.0 629.3,199.7 629.5,200.5 629.8,212.7 630.0,208.5 630.3,202.7 630.5,201.5 630.8,197.8 631.0,204.9 631.3,211.7 631.5,202.1 631.8,203.9 632.0,204.4 632.3,207.8 632.5,195.1 632.8,203.9 633.0,204.9 633.3,207.2 633.5,204.8 633.8,198.4 634.0,200.6 634.3,196.5 634.5,203.9 634.8,203.8 635.0,205.2 635.3,198.8 635.5,198.1 635.8,209.5 636.0,203.7 636.3,210.4 636.5,204.8 636.8,196.6 637.0,206.3 637.3,208.2 637.5,200.9 637.8,194.6 638.0,205.7 638.3,202.2 638.5,204.0 638.8,191.3 639.0,204.8 639.3,191.0 639.5,199.1 639.8,206.6 640.0,194.9 640.3,194.8 640.5,200.8 640.8,209.9 641.0,209.7 641.3,200.2 641.5,207.1 641.8,205.3 642.0,204.0 642.3,204.4 642.5,199.8 642.8,206.4 643.0,207.6 643.3,214.7 643.5,207.1 643.8,192.6 644.0,198.0 644.3,204.7 644.5,203.6 644.8,195.4 645.0,204.5 645.3,202.0 645.5,203.4 645.8,203.2 646.0,207.7 646.3,210.1 646.5,206.9 646.8,199.2 647.0,200.4 647.3,201.3 647.5,204.0 647.8,202.5 648.0,202.9 648.3,200.5 648.5,208.7 648.8,208.3 649.0,208.9 649.3,204.5 649.5,206.9 649.8,201.1 650.0,200.8 650.3,202.9 650.5,207.8 650.8,204.7 651.0,197.2 651.3,205.9 651.5,207.4 651.8,206.4 652.0,202.9 652.3,206.1 652.5,204.1 652.8,204.6 653.0,205.7 653.3,209.3 653.5,217.0 653.8,212.9 654.0,209.0 654.3,204.6 654.5,205.1 654.8,205.3 655.0,211.4 655.3,194.6 655.5,207.7 655.8,198.0 656.0,206.6 656.3,212.3 656.5,202.8 656.8,196.9 657.0,212.3 657.3,213.2 657.5,208.9 657.8,212.2 658.0,203.4 658.3,211.9 658.5,214.2 658.8,209.7 659.0,208.2 659.3,212.5 659.5,211.9 659.8,203.8 660.0,212.9 660.3,210.3 660.5,207.8 660.8,212.8 661.0,211.2 661.3,210.4 661.5,205.1 661.8,210.9 662.0,202.5 662.3,206.7 662.5,200.1 662.8,200.0 663.0,209.3 663.3,207.1 663.5,207.8 663.8,210.0 664.0,209.0 664.3,203.7 664.5,207.8 664.8,207.3 665.0,205.3 665.3,207.1 665.5,206.0 665.8,204.8 666.0,206.2 666.3,208.7 666.5,216.5 666.8,204.2 667.0,209.9 667.3,201.4 667.5,214.6 667.8,206.3 668.0,208.3 668.3,213.2 668.5,212.0 668.8,201.4 669.0,210.2 669.3,206.8 669.5,210.4 669.8,208.4 670.0,211.0 670.3,209.0 670.5,207.2 670.8,212.9 671.0,201.2 671.3,205.9 671.5,203.7 671.8,207.2 672.0,204.5 672.3,207.1 672.5,201.8 672.8,205.7 673.0,200.6 673.3,207.5 673.5,209.0 673.8,205.1 674.0,204.8 674.3,204.8 674.5,214.8 674.8,208.4 675.0,209.2 675.3,206.2 675.5,205.3 675.8,203.7 676.0,214.0 676.3,200.1 676.5,208.6 676.8,207.2 677.0,206.2 677.3,200.5 677.5,201.9 677.8,211.4 678.0,204.2 678.3,210.9 678.5,210.0 678.8,209.6 679.0,208.5 679.3,201.8 679.5,204.9 679.8,209.9 680.0,201.5 680.3,214.1 680.5,204.5 680.8,206.6 681.0,202.4 681.3,208.4 681.5,203.6 681.8,205.7 682.0,201.8 682.3,211.8 682.5,199.7 682.8,208.6 683.0,207.7 683.3,208.5 683.5,202.2 683.8,211.0 684.0,210.7 684.3,207.3 684.5,207.9 684.8,205.9 685.0,209.3 685.3,203.0 685.5,208.9 685.8,208.3 686.0,200.5 686.3,195.3 686.5,206.1 686.8,205.9 687.0,211.8 687.3,206.8 687.5,204.5 687.8,200.8 688.0,206.3 688.3,204.2 688.5,202.0 688.8,206.2 689.0,211.3 689.3,207.2 689.5,202.3 689.8,208.3 690.0,202.2 690.3,200.1 690.5,209.1 690.8,204.6 691.0,211.8 691.3,208.4 691.5,203.7 691.8,208.1 692.0,212.8 692.3,206.4 692.5,202.7 692.8,204.5 693.0,203.9 693.3,202.4 693.5,201.9 693.8,209.4 694.0,214.2 694.3,206.1 694.5,211.1 694.8,211.7 695.0,215.1 695.3,207.1 695.5,206.4 695.8,209.8 696.0,208.5 696.3,209.4 696.5,213.7 696.8,206.4 697.0,209.2 697.3,204.1 697.5,207.7 697.8,205.5 698.0,205.2 698.3,207.6 698.5,206.7 698.8,210.3 699.0,212.2 699.3,202.3 699.5,213.1 699.8,199.3 700.0,210.0 700.3,212.0 700.5,206.2 700.8,208.1 701.0,205.8 701.3,213.0 701.5,195.6 701.8,205.1 702.0,201.0 702.3,210.2 702.5,215.0 702.8,214.6 703.0,212.4 703.3,210.7 703.5,206.4 703.8,215.0 704.0,212.5 704.3,206.2 704.5,204.4 704.8,207.2 705.0,214.7 705.3,215.4 705.5,217.1 705.8,206.8 706.0,208.7 706.3,216.2 706.5,211.3 706.8,213.7 707.0,204.8 707.3,209.0 707.5,210.5 707.8,209.2 708.0,209.0 708.3,203.8 708.5,217.9 708.8,211.6 709.0,204.7 709.3,215.7 709.5,211.4 709.8,214.3 710.0,210.5 710.3,204.8 710.5,208.2 710.8,213.0 711.0,214.9 711.3,213.8 711.5,214.5 711.8,217.0 712.0,213.1 712.3,216.3 712.5,216.8 712.8,213.4 713.0,211.8 713.3,210.4 713.5,207.2 713.8,205.7 714.0,218.1 714.3,212.5 714.5,210.3 714.8,219.5 715.0,217.0 715.3,213.1 715.5,217.3 715.8,212.2 716.0,214.6 716.3,221.0 716.5,217.8 716.8,212.2 717.0,216.4 717.3,222.4 717.5,213.1 717.8,211.9 718.0,221.9 718.3,212.6 718.5,208.3 718.8,214.7 719.0,224.1 719.3,217.0 719.5,218.6 719.8,205.2 720.0,212.3 720.3,220.0 720.5,213.2 720.8,220.7 721.0,217.2 721.3,216.9 721.5,222.6 721.8,213.3 722.0,213.5 722.3,216.1 722.5,216.7 722.8,208.6 723.0,221.2 723.3,217.0 723.5,215.4 723.8,218.9 724.0,214.6 724.3,221.6 724.5,216.8 724.8,219.7 725.0,212.9 725.3,215.6 725.5,218.5 725.8,212.9 726.0,214.2 726.3,215.2 726.5,222.0 726.8,220.5 727.0,221.2 727.3,218.7 727.5,221.4 727.8,224.2 728.0,218.4 728.3,219.6 728.5,220.3 728.8,209.3 729.0,217.5 729.3,219.8 729.5,221.3 729.8,216.7 730.0,216.1 730.3,215.5 730.5,217.5 730.8,225.6 731.0,212.6 731.3,218.1 731.5,217.8 731.8,218.1 732.0,216.3 732.3,221.4 732.5,214.1 732.8,213.0 733.0,220.8 733.3,213.7 733.5,220.4 733.8,219.0 734.0,216.0 734.3,217.5 734.5,218.6 734.8,221.0 735.0,216.4 735.3,218.2 735.5,213.0 735.8,218.0 736.0,208.5 736.3,219.1 736.5,217.4 736.8,228.3 737.0,224.9 737.3,218.8 737.5,223.5 737.8,220.7 738.0,214.6 738.3,209.1 738.5,224.3 738.8,221.3 739.0,211.2 739.3,222.4 739.5,223.6 739.8,216.8 740.0,223.2 740.3,212.4 740.5,218.9 740.8,220.0 741.0,223.3 741.3,221.7 741.5,220.9 741.8,222.4 742.0,217.2 742.3,226.4 742.5,218.6 742.8,223.5 743.0,220.1 743.3,219.1 743.5,222.7 743.8,222.2 744.0,226.0 744.3,224.9 744.5,217.9 744.8,222.5 745.0,220.8 745.3,217.0 745.5,215.7 745.8,221.5 746.0,218.2 746.3,214.5 746.5,220.1 746.8,221.5 747.0,221.0 747.3,215.4 747.5,218.1 747.8,226.5 748.0,217.3 748.3,219.3 748.5,230.6 748.8,222.2 749.0,218.6 749.3,212.4 749.5,222.1 749.8,209.3 750.0,220.7 750.3,217.1 750.5,213.6 750.8,228.0 751.0,220.4 751.3,224.8 751.5,224.1 751.8,217.8 752.0,221.3 752.3,219.4 752.5,225.1 752.8,222.8 753.0,219.5 753.3,228.2 753.5,223.3 753.8,223.0 754.0,217.7 754.3,222.8 754.5,214.8 754.8,223.1 755.0,217.1 755.3,222.0 755.5,220.0 755.8,222.2 756.0,222.8 756.3,221.0 756.5,221.0 756.8,214.9 757.0,213.1 757.3,226.7 757.5,223.8 757.8,215.0 758.0,229.5 758.3,218.3 758.5,223.6 758.8,223.2 759.0,220.3 759.3,224.0 759.5,215.5 759.8,221.3 760.0,220.3 760.3,221.8 760.5,220.3 760.8,218.7 761.0,218.3 761.3,225.3 761.5,217.9 761.8,223.1 762.0,223.0 762.3,221.1 762.5,223.4 762.8,223.9 763.0,219.3 763.3,223.0 763.5,229.7 763.8,217.0 764.0,220.3 764.3,218.3 764.5,230.1 764.8,215.5 765.0,221.6 765.3,225.6 765.5,217.8 765.8,221.0 766.0,218.5 766.3,215.8 766.5,221.3 766.8,223.7 767.0,219.9 767.3,222.3 767.5,224.5 767.8,216.2 768.0,216.2 768.3,224.2 768.5,218.8 768.8,213.4 769.0,218.1 769.3,224.2 769.5,222.8 769.8,216.7 770.0,228.3 770.3,223.1 770.5,221.1 770.8,219.1 771.0,223.2 771.3,219.7 771.5,226.2 771.8,222.7 772.0,223.9 772.3,220.0 772.5,214.9 772.8,223.5 773.0,216.9 773.3,220.7 773.5,221.1 773.8,217.8 774.0,224.9 774.3,215.0 774.5,223.7 774.8,218.5 775.0,225.2 775.3,226.5 775.5,217.3 775.8,217.8 776.0,225.0 776.3,221.7 776.5,222.3 776.8,213.0 777.0,213.8 777.3,223.1 777.5,226.9 777.8,217.7 778.0,217.0 778.3,221.6 778.5,222.7 778.8,223.1 779.0,218.8 779.3,212.3 779.5,226.9 779.8,218.5 780.0,226.0 780.3,212.1 780.5,222.1 780.8,218.4 781.0,215.9 781.3,224.6 781.5,226.0 781.8,218.0 782.0,223.2 782.3,215.8 782.5,217.8 782.8,219.4 783.0,220.8 783.3,223.1 783.5,215.2 783.8,224.5 784.0,224.5 784.3,219.4 784.5,215.3 784.8,210.2 785.0,220.1 785.3,217.3 785.5,220.8 785.8,215.8 786.0,220.3 786.3,220.1 786.5,220.4 786.8,221.6 787.0,221.6 787.3,224.5 787.5,217.1 787.8,223.5 788.0,221.2 788.3,218.7 788.5,216.3 788.8,226.8 789.0,221.7 789.3,218.5 789.5,221.1 789.8,220.8 790.0,218.6 790.3,215.0 790.5,221.6 790.8,220.3 791.0,221.3 791.3,225.4 791.5,215.7 791.8,217.2 792.0,222.1 792.3,227.4 792.5,224.1 792.8,224.7 793.0,212.3 793.3,223.9 793.5,223.6 793.8,224.8 794.0,228.7 794.3,224.3 794.5,226.4 794.8,229.1 795.0,223.4 795.3,216.8 795.5,222.7 795.8,225.3 796.0,224.9 796.3,230.9 796.5,222.0 796.8,218.6 797.0,220.3 797.3,225.9 797.5,219.8 797.8,218.8 798.0,219.8 798.3,228.5 798.5,224.5 798.8,222.1 799.0,227.2 799.3,226.6 799.5,219.6 799.8,227.4 800.0,225.0 800.3,215.2 800.5,219.0 800.8,225.2 801.0,226.2 801.3,223.0 801.5,220.0 801.8,225.4 802.0,216.6 802.3,226.8 802.5,223.9 802.8,224.5 803.0,221.9 803.3,228.2 803.5,214.9 803.8,221.1 804.0,227.3 804.3,221.9 804.5,231.2 804.8,226.9 805.0,221.9 805.3,229.9 805.5,224.9 805.8,227.8 806.0,222.8 806.3,222.9 806.5,228.5 806.8,226.0 807.0,222.4 807.3,221.9 807.5,228.5 807.8,233.3 808.0,222.3 808.3,228.8 808.5,213.6 808.8,220.1 809.0,229.0 809.3,232.9 809.5,226.5 809.8,228.6 810.0,227.4 810.3,230.7 810.5,221.8 810.8,229.2 811.0,224.7 811.3,225.2 811.5,226.6 811.8,225.8 812.0,223.5 812.3,225.7 812.5,222.8 812.8,233.2 813.0,229.9 813.3,225.3 813.5,233.8 813.8,232.6 814.0,229.3 814.3,225.0 814.5,228.4 814.8,229.8 815.0,233.3 815.3,226.7 815.5,225.1 815.8,237.3 816.0,233.5 816.3,229.0 816.5,223.8 816.8,229.8 817.0,232.5 817.3,231.1 817.5,231.4 817.8,228.1 818.0,232.8 818.3,240.0" fill="none" stroke="#008080" stroke-width="1.5" stroke-linejoin="round"/>
<path d="M87.1,330.5 87.3,326.4 87.6,327.0 87.8,315.4 88.1,339.6 88.3,335.8 88.6,327.4 88.8,333.7 89.1,330.8 89.3,326.1 89.6,334.8 89.8,327.4 90.1,327.3 90.3,324.6 90.6,331.7 90.8,328.5 91.1,332.2 91.3,325.6 91.6,329.8 91.8,324.0 92.1,333.8 92.3,330.1 92.6,330.9 92.8,331.3 93.1,323.2 93.3,333.4 93.6,340.6 93.8,319.6 94.1,319.0 94.3,320.3 94.6,333.6 94.8,329.6 95.1,335.0 95.3,332.9 95.6,330.0 95.8,330.4 96.1,327.8 96.3,333.7 96.6,322.3 96.8,326.3 97.1,330.0 97.3,338.9 97.6,324.3 97.8,322.5 98.1,325.4 98.3,334.1 98.6,327.2 98.8,336.1 99.1,317.8 99.3,334.9 99.6,334.4 99.8,320.4 100.1,329.3 100.3,335.3 100.6,328.9 100.8,334.1 101.1,341.9 101.3,329.9 101.6,321.6 101.8,323.9 102.1,331.9 102.3,327.1 102.6,327.2 102.8,327.6 103.1,331.9 103.3,322.1 103.6,319.4 103.8,314.2 104.1,334.9 104.3,328.5 104.6,336.6 104.8,328.0 105.1,323.7 105.3,330.7 105.6,327.5 105.8,320.8 106.1,322.9 106.3,337.9 106.6,329.9 106.8,330.2 107.1,326.2 107.3,323.9 107.6,332.9 107.8,327.2 108.1,323.4 108.3,327.0 108.6,322.5 108.8,328.8 109.1,334.1 109.3,325.8 109.6,335.8 109.8,323.8 110.1,328.5 110.3,322.8 110.6,326.3 110.8,327.9 111.1,318.6 111.3,323.5 111.6,323.7 111.8,322.8 112.1,318.6 112.3,326.0 112.6,329.8 112.8,332.7 113.1,331.2 113.3,341.5 113.6,329.3 113.8,324.8 114.1,338.1 114.3,321.4 114.6,332.9 114.8,321.9 115.1,329.4 115.3,316.1 115.6,332.5 115.8,334.6 116.1,321.8 116.3,336.9 116.6,331.6 116.8,327.5 117.1,320.0 117.3,327.0 117.6,326.3 117.8,331.3 118.1,331.8 118.3,323.4 118.6,324.1 118.8,324.1 119.1,319.5 119.3,323.8 119.6,326.6 119.8,331.1 120.1,334.6 120.3,322.5 120.6,330.2 120.8,324.5 121.1,338.9 121.3,326.8 121.6,333.4 121.8,321.7 122.1,322.4 122.3,328.2 122.6,324.8 122.8,329.0 123.1,318.1 123.3,330.8 123.6,321.9 123.8,336.8 124.1,325.3 124.3,333.2 124.6,319.0 124.8,329.4 125.1,321.9 125.3,324.2 125.6,327.1 125.8,325.1 126.1,328.4 126.3,331.2 126.6,330.6 126.8,326.4 127.1,319.1 127.3,322.3 127.6,325.8 127.8,314.8 128.1,331.2 128.3,325.5 128.6,325.4 128.8,332.3 129.1,330.7 129.3,328.1 129.6,321.2 129.8,328.6 130.1,328.8 130.3,321.8 130.6,332.8 130.8,329.8 131.1,315.7 131.3,327.6 131.6,319.7 131.8,333.4 132.1,331.6 132.3,320.7 132.6,322.0 132.8,327.6 133.1,325.7 133.3,335.8 133.6,331.4 133.8,325.6 134.1,330.5 134.3,315.7 134.6,329.1 134.8,332.3 135.1,326.4 135.3,323.5 135.6,330.7 135.8,338.7 136.1,326.5 136.3,321.3 136.6,336.0 136.8,317.1 137.1,330.7 137.3,324.6 137.6,333.3 137.8,323.2 138.1,335.7 138.3,329.9 138.6,318.4 138.8,317.1 139.1,326.6 139.3,335.8 139.6,329.3 139.8,329.0 140.1,327.3 140.3,333.0 140.6,331.0 140.8,330.5 141.1,323.4 141.3,335.8 141.6,336.9 141.8,321.8 142.1,342.4 142.3,333.5 142.6,326.6 142.8,318.6 143.1,333.3 143.3,332.8 143.6,326.3 143.8,319.6 144.1,336.2 144.3,326.5 144.6,327.3 144.8,346.2 145.1,342.2 145.3,335.6 145.6,327.6 145.8,334.0 146.1,317.3 146.3,331.0 146.6,326.2 146.8,323.2 147.1,321.6 147.3,333.7 147.6,331.3 147.8,331.8 148.1,335.8 148.3,326.2 148.6,324.1 148.8,321.1 149.1,329.4 149.3,335.7 149.6,330.6 149.8,335.2 150.1,324.9 150.3,329.0 150.6,327.4 150.8,324.8 151.1,342.6 151.3,336.9 151.6,327.8 151.8,327.9 152.1,332.0 152.3,324.2 152.6,335.0 152.8,325.2 153.1,330.5 153.3,326.9 153.6,330.1 153.8,325.3 154.1,324.0 154.3,327.6 154.6,329.3 154.8,331.6 155.1,333.7 155.3,342.1 155.6,338.1 155.8,332.1 156.1,337.8 156.3,329.8 156.6,342.0 156.8,337.0 157.1,326.2 157.3,338.3 157.6,338.7 157.8,318.8 158.1,329.9 158.3,331.5 158.6,323.3 158.8,328.3 159.1,329.0 159.3,337.4 159.6,336.2 159.8,349.5 160.1,332.4 160.3,341.2 160.6,335.1 160.8,336.3 161.1,328.2 161.3,323.9 161.6,330.5 161.8,339.2 162.1,343.9 162.3,338.4 162.6,337.8 162.8,330.2 163.1,343.8 163.3,342.7 163.6,332.1 163.8,334.9 164.1,329.5 164.3,343.6 164.6,340.1 164.8,334.7 165.1,337.6 165.3,337.8 165.6,333.0 165.8,328.3 166.1,328.1 166.3,325.5 166.6,338.1 166.8,348.1 167.1,325.8 167.3,336.3 167.6,337.9 167.8,330.0 168.1,336.8 168.3,329.4 168.6,342.5 168.8,332.3 169.1,336.3 169.3,340.3 169.6,333.3 169.8,325.6 170.1,332.8 170.3,340.2 170.6,335.4 170.8,337.2 171.1,329.7 171.3,336.7 171.6,340.1 171.8,336.2 172.1,346.9 172.3,334.8 172.6,330.1 172.8,326.9 173.1,342.7 173.3,335.8 173.6,341.9 173.8,338.8 174.1,345.5 174.3,343.5 174.6,334.1 174.8,337.9 175.1,342.5 175.3,329.3 175.6,344.7 175.8,343.4 176.1,342.1 176.3,335.4 176.6,338.3 176.8,330.2 177.1,337.0 177.3,333.3 177.6,337.2 177.8,333.9 178.1,338.4 178.3,343.5 178.6,333.0 178.8,342.1 179.1,325.5 179.3,324.6 179.6,336.3 179.8,337.0 180.1,339.5 180.3,327.6 180.6,336.7 180.8,337.8 181.1,344.3 181.3,336.6 181.6,340.2 181.8,331.7 182.1,336.2 182.3,334.8 182.6,341.3 182.8,331.7 183.1,332.7 183.3,340.7 183.6,349.3 183.8,339.7 184.1,339.3 184.3,335.6 184.6,341.1 184.8,340.8 185.1,347.6 185.3,339.7 185.6,332.4 185.8,334.6 186.1,332.3 186.3,330.8 186.6,345.2 186.8,342.7 187.1,331.0 187.3,348.3 187.6,339.6 187.8,332.8 188.1,340.5 188.3,338.0 188.6,334.0 188.8,327.4 189.1,338.8 189.3,340.3 189.6,324.0 189.8,341.9 190.1,342.3 190.3,336.2 190.6,339.6 190.8,337.5 191.1,334.4 191.3,337.3 191.6,347.2 191.8,331.3 192.1,341.1 192.3,341.0 192.6,336.1 192.8,337.9 193.1,332.6 193.3,336.0 193.6,341.1 193.8,343.2 194.1,336.4 194.3,359.2 194.6,338.8 194.8,343.1 195.1,341.3 195.3,340.6 195.6,350.6 195.8,340.7 196.1,351.4 196.3,350.5 196.6,338.4 196.8,350.5 197.1,341.2 197.3,360.8 197.6,343.2 197.8,340.3 198.1,328.0 198.3,338.9 198.6,343.2 198.8,341.0 199.1,339.9 199.3,343.2 199.6,346.2 199.8,355.9 200.1,338.1 200.3,344.8 200.6,342.7 200.8,339.7 201.1,341.2 201.3,343.4 201.6,352.7 201.8,347.6 202.1,345.8 202.3,352.4 202.6,350.5 202.8,347.6 203.1,351.1 203.3,344.2 203.6,352.4 203.8,351.5 204.1,346.4 204.3,341.7 204.6,357.2 204.8,349.0 205.1,365.7 205.3,344.4 205.6,352.9 205.8,345.4 206.1,349.2 206.3,352.3 206.6,342.8 206.8,346.6 207.1,347.9 207.3,347.5 207.6,350.0 207.8,352.3 208.1,351.0 208.3,347.6 208.6,343.9 208.8,339.3 209.1,341.3 209.3,342.3 209.6,349.1 209.8,343.0 210.1,337.8 210.3,348.3 210.6,340.0 210.8,339.9 211.1,343.1 211.3,346.9 211.6,330.4 211.8,337.7 212.1,345.0 212.3,341.9 212.6,339.0 212.8,340.8 213.1,351.8 213.3,341.3 213.6,348.1 213.8,348.6 214.1,341.6 214.3,346.8 214.6,341.8 214.8,341.0 215.1,338.2 215.3,349.8 215.6,342.7 215.8,342.1 216.1,339.0 216.3,355.9 216.6,350.1 216.8,345.3 217.1,342.3 217.3,337.8 217.6,348.5 217.8,348.7 218.1,339.3 218.3,354.2 218.6,352.2 218.8,342.6 219.1,345.2 219.3,346.1 219.6,349.8 219.8,348.3 220.1,340.0 220.3,358.0 220.6,351.6 220.8,357.2 221.1,357.4 221.3,349.2 221.6,352.6 221.8,355.0 222.1,355.4 222.3,350.2 222.6,347.7 222.8,351.6 223.1,346.9 223.3,348.4 223.6,340.1 223.8,352.3 224.1,346.1 224.3,348.9 224.6,351.9 224.8,348.9 225.1,363.1 225.3,353.6 225.6,344.5 225.8,353.4 226.1,349.4 226.3,355.2 226.6,349.1 226.8,349.1 227.1,350.3 227.3,349.7 227.6,346.2 227.8,349.7 228.1,353.5 228.3,360.5 228.6,352.1 228.8,351.7 229.1,357.3 229.3,357.1 229.6,363.2 229.8,357.5 230.1,354.2 230.3,362.0 230.6,363.1 230.8,351.8 231.1,355.5 231.3,345.1 231.6,352.6 231.8,349.7 232.1,353.6 232.3,352.1 232.6,354.0 232.8,354.4 233.1,357.8 233.3,356.3 233.6,351.9 233.8,347.2 234.1,362.2 234.3,363.2 234.6,352.6 234.8,358.4 235.1,346.5 235.3,346.3 235.6,356.5 235.8,363.6 236.1,349.2 236.3,350.4 236.6,364.4 236.8,344.4 237.1,358.9 237.3,358.0 237.6,354.0 237.8,356.3 238.1,370.1 238.3,348.8 238.6,353.4 238.8,353.8 239.1,351.3 239.3,347.5 239.6,364.3 239.8,356.4 240.1,345.2 240.3,351.2 240.6,357.5 240.8,357.5 241.1,347.0 241.3,354.7 241.6,356.7 241.8,357.4 242.1,357.4 242.3,344.8 242.6,365.7 242.8,356.4 243.1,365.5 243.3,371.5 243.6,354.3 243.8,348.2 244.1,360.1 244.3,354.2 244.6,352.6 244.8,349.3 245.1,364.8 245.3,352.7 245.6,347.2 245.8,352.6 246.1,348.6 246.3,356.1 246.6,352.8 246.8,349.2 247.1,358.6 247.3,351.5 247.6,359.3 247.8,362.4 248.1,353.1 248.3,351.5 248.6,356.4 248.8,360.3 249.1,355.3 249.3,354.3 249.6,355.3 249.8,357.3 250.1,359.1 250.3,351.6 250.6,356.8 250.8,356.1 251.1,352.2 251.3,356.8 251.6,359.2 251.8,356.2 252.1,353.0 252.3,352.1 252.6,366.7 252.8,359.8 253.1,350.6 253.3,352.4 253.6,368.0 253.8,366.1 254.1,358.3 254.3,364.3 254.6,349.4 254.8,358.0 255.1,362.4 255.3,347.7 255.6,354.0 255.8,363.1 256.1,365.2 256.3,355.5 256.6,360.7 256.8,368.3 257.1,357.1 257.3,351.8 257.6,359.2 257.8,357.4 258.1,367.1 258.3,360.7 258.6,355.3 258.8,373.6 259.1,357.2 259.3,362.8 259.6,364.0 259.8,364.6 260.1,361.2 260.3,363.5 260.6,359.8 260.8,352.1 261.1,358.9 261.3,359.1 261.6,359.2 261.8,360.9 262.1,356.6 262.3,367.7 262.6,370.9 262.8,347.6 263.1,360.1 263.3,356.0 263.6,345.2 263.8,362.3 264.1,356.4 264.3,357.8 264.6,356.2 264.8,366.1 265.1,366.9 265.3,361.4 265.6,363.7 265.8,359.0 266.1,360.4 266.3,355.4 266.6,359.7 266.8,358.7 267.1,361.6 267.3,364.1 267.6,361.1 267.8,366.0 268.1,374.5 268.3,347.1 268.6,359.2 268.8,355.8 269.1,356.3 269.3,351.1 269.6,359.1 269.8,357.3 270.1,355.1 270.3,357.1 270.6,355.1 270.8,345.1 271.1,364.6 271.3,356.5 271.6,352.8 271.8,359.9 272.1,354.3 272.3,345.6 272.6,362.9 272.8,348.2 273.1,356.4 273.3,358.3 273.6,365.2 273.8,364.1 274.1,358.1 274.3,352.7 274.6,354.5 274.8,362.9 275.1,366.7 275.3,359.4 275.6,352.4 275.8,361.7 276.1,353.5 276.3,353.1 276.6,353.5 276.8,358.2 277.1,356.2 277.3,360.0 277.6,361.4 277.8,356.7 278.1,340.1 278.3,343.4 278.6,353.7 278.8,352.1 279.1,364.5 279.3,351.7 279.6,352.8 279.8,356.6 280.1,356.9 280.3,349.2 280.6,352.9 280.8,343.3 281.1,344.0 281.3,356.0 281.6,340.5 281.8,353.3 282.1,351.4 282.3,351.5 282.6,351.7 282.8,349.2 283.1,333.2 283.3,339.1 283.6,340.8 283.8,348.9 284.1,336.6 284.3,338.4 284.6,339.8 284.8,348.7 285.1,332.4 285.3,332.3 285.6,342.9 285.8,326.7 286.1,340.1 286.3,335.0 286.6,328.0 286.8,334.0 287.1,330.2 287.3,336.3 287.6,336.9 287.8,342.8 288.1,333.8 288.3,334.0 288.6,330.5 288.8,332.3 289.1,337.9 289.3,320.5 289.6,334.7 289.8,327.4 290.1,330.3 290.3,331.2 290.6,333.7 290.8,329.7 291.1,325.5 291.3,329.0 291.6,326.8 291.8,321.1 292.1,326.9 292.3,330.2 292.6,327.5 292.8,325.2 293.1,316.5 293.3,322.7 293.6,312.4 293.8,326.7 294.1,316.9 294.3,329.3 294.6,338.7 294.8,319.0 295.1,328.6 295.3,323.1 295.6,317.4 295.8,315.6 296.1,323.5 296.3,328.1 296.6,322.1 296.8,311.5 297.1,314.2 297.3,318.9 297.6,328.1 297.8,322.2 298.1,322.7 298.3,328.0 298.6,320.3 298.8,321.3 299.1,321.2 299.3,313.2 299.6,325.9 299.8,326.1 300.1,329.8 300.3,318.0 300.6,320.8 300.8,331.3 301.1,328.4 301.3,335.0 301.6,322.9 301.8,329.6 302.1,325.2 302.3,331.4 302.6,327.5 302.8,333.9 303.1,337.5 303.3,335.8 303.6,322.2 303.8,338.3 304.1,335.9 304.3,327.9 304.6,329.2 304.8,334.7 305.1,338.3 305.3,333.0 305.6,326.8 305.8,338.0 306.1,337.9 306.3,351.2 306.6,330.6 306.8,352.6 307.1,348.7 307.3,341.0 307.6,349.1 307.8,340.8 308.1,346.2 308.3,337.0 308.6,342.1 308.8,336.3 309.1,333.6 309.3,341.3 309.6,339.6 309.8,346.9 310.1,351.2 310.3,343.4 310.6,345.0 310.8,346.0 311.1,335.8 311.3,347.0 311.6,345.8 311.8,345.7 312.1,339.9 312.3,335.1 312.6,344.9 312.8,348.2 313.1,354.0 313.3,352.8 313.6,354.6 313.8,348.5 314.1,352.8 314.3,345.1 314.6,349.8 314.8,351.4 315.1,361.2 315.3,347.4 315.6,338.8 315.8,353.5 316.1,341.3 316.3,345.3 316.6,343.8 316.8,340.3 317.1,352.7 317.3,348.4 317.6,341.5 317.8,345.1 318.1,342.2 318.3,350.4 318.6,342.1 318.8,339.8 319.1,340.3 319.3,341.3 319.6,345.1 319.8,338.2 320.1,339.1 320.3,345.4 320.6,355.8 320.8,347.3 321.1,325.6 321.3,339.1 321.6,339.4 321.8,343.0 322.1,349.6 322.3,344.5 322.6,327.1 322.8,341.2 323.1,339.5 323.3,340.7 323.6,345.4 323.8,331.2 324.1,342.8 324.3,326.8 324.6,335.7 324.8,336.9 325.1,346.8 325.3,329.5 325.6,323.4 325.8,336.0 326.1,327.8 326.3,339.5 326.6,326.3 326.8,324.7 327.1,335.8 327.3,328.8 327.6,333.3 327.8,319.2 328.1,335.7 328.3,322.8 328.6,330.0 328.8,319.3 329.1,315.7 329.3,322.2 329.6,323.9 329.8,331.0 330.1,323.5 330.3,324.9 330.6,323.8 330.8,336.7 331.1,314.2 331.3,325.0 331.6,316.5 331.8,318.1 332.1,312.9 332.3,321.7 332.6,307.7 332.8,306.6 333.1,312.1 333.3,306.3 333.6,315.9 333.8,316.6 334.1,306.8 334.3,314.7 334.6,306.3 334.8,309.3 335.1,309.1 335.3,319.1 335.6,308.4 335.8,303.1 336.1,302.9 336.3,314.3 336.6,298.5 336.8,305.0 337.1,305.5 337.3,294.2 337.6,305.1 337.8,313.3 338.1,309.1 338.3,303.1 338.6,312.0 338.8,311.2 339.1,319.7 339.3,304.7 339.6,306.9 339.8,309.5 340.1,308.8 340.3,310.4 340.6,309.6 340.8,306.7 341.1,302.0 341.3,308.1 341.6,303.8 341.8,306.0 342.1,309.1 342.3,315.2 342.6,317.4 342.8,307.4 343.1,315.0 343.3,318.0 343.6,313.7 343.8,305.3 344.1,302.7 344.3,319.1 344.6,320.0 344.8,316.7 345.1,309.7 345.3,323.5 345.6,322.4 345.8,315.6 346.1,314.8 346.3,305.5 346.6,320.2 346.8,307.4 347.1,319.9 347.3,320.1 347.6,316.6 347.8,324.6 348.1,314.2 348.3,319.1 348.6,320.1 348.8,317.0 349.1,313.2 349.3,322.0 349.6,317.4 349.8,313.9 350.1,313.9 350.3,315.3 350.6,326.7 350.8,314.7 351.1,312.7 351.3,308.0 351.6,306.9 351.8,303.0 352.1,314.4 352.3,313.0 352.6,307.1 352.8,304.5 353.1,310.5 353.3,309.3 353.6,304.7 353.8,310.4 354.1,312.4 354.3,311.3 354.6,315.6 354.8,307.8 355.1,318.6 355.3,305.7 355.6,313.9 355.8,314.6 356.1,309.8 356.3,313.2 356.6,304.5 356.8,303.4 357.1,310.6 357.3,308.0 357.6,315.3 357.8,312.6 358.1,316.0 358.3,314.8 358.6,312.2 358.8,314.3 359.1,312.2 359.3,312.1 359.6,325.9 359.8,306.0 360.1,314.9 360.3,321.8 360.6,319.1 360.8,324.9 361.1,320.8 361.3,311.7 361.6,317.2 361.8,311.9 362.1,325.2 362.3,328.2 362.6,318.6 362.8,324.4 363.1,319.8 363.3,314.8 363.6,320.7 363.8,315.2 364.1,321.3 364.3,326.1 364.6,329.6 364.8,333.4 365.1,325.5 365.3,329.4 365.6,331.2 365.8,332.8 366.1,315.6 366.3,327.5 366.6,336.8 366.8,327.6 367.1,335.7 367.3,339.8 367.6,326.2 367.8,336.1 368.1,339.3 368.3,338.9 368.6,331.6 368.8,342.4 369.1,338.3 369.3,346.4 369.6,345.0 369.8,340.4 370.1,344.9 370.3,340.8 370.6,341.3 370.8,337.0 371.1,344.5 371.3,350.4 371.6,347.2 371.8,346.8 372.1,344.0 372.3,344.9 372.6,351.9 372.8,340.5 373.1,359.6 373.3,348.7 373.6,360.4 373.8,355.9 374.1,347.8 374.3,354.2 374.6,352.0 374.8,353.4 375.1,355.4 375.3,348.6 375.6,348.5 375.8,349.8 376.1,345.1 376.3,351.2 376.6,354.0 376.8,354.4 377.1,354.3 377.3,351.4 377.6,357.9 377.8,343.1 378.1,352.0 378.3,352.6 378.6,359.2 378.8,358.1 379.1,359.0 379.3,355.0 379.6,360.1 379.8,350.0 380.1,355.7 380.3,344.4 380.6,364.6 380.8,364.0 381.1,352.6 381.3,351.4 381.6,345.0 381.8,348.0 382.1,356.8 382.3,355.4 382.6,348.6 382.8,353.8 383.1,353.0 383.3,359.0 383.6,360.3 383.8,355.6 384.1,357.4 384.3,356.8 384.6,346.0 384.8,357.9 385.1,356.7 385.3,361.0 385.6,347.6 385.8,361.2 386.1,353.9 386.3,358.7 386.6,363.7 386.8,349.7 387.1,350.6 387.3,362.7 387.6,351.6 387.8,352.6 388.1,360.8 388.3,356.7 388.6,361.8 388.8,359.4 389.1,357.7 389.3,363.0 389.6,369.3 389.8,357.5 390.1,364.4 390.3,364.0 390.6,358.7 390.8,360.6 391.1,353.4 391.3,355.1 391.6,359.8 391.8,358.2 392.1,365.2 392.3,351.8 392.6,357.1 392.8,355.3 393.1,357.9 393.3,364.8 393.6,352.6 393.8,363.3 394.1,355.9 394.3,357.4 394.6,364.3 394.8,357.7 395.1,362.7 395.3,359.9 395.6,358.5 395.8,357.7 396.1,350.7 396.3,355.9 396.6,360.7 396.8,360.9 397.1,352.3 397.3,365.3 397.6,363.2 397.8,353.7 398.1,355.1 398.3,363.2 398.6,351.7 398.8,357.0 399.1,360.7 399.3,360.4 399.6,360.9 399.8,363.4 400.1,357.4 400.3,359.1 400.6,372.3 400.8,354.7 401.1,359.8 401.3,362.8 401.6,359.1 401.8,368.8 402.1,363.0 402.3,366.7 402.6,349.6 402.8,369.2 403.1,369.2 403.3,359.6 403.6,370.3 403.8,365.2 404.1,368.7 404.3,373.4 404.6,364.8 404.8,359.3 405.1,364.6 405.3,358.3 405.6,360.9 405.8,361.3 406.1,361.8 406.3,371.5 406.6,370.0 406.8,361.4 407.1,372.0 407.3,357.9 407.6,363.3 407.8,366.2 408.1,373.2 408.3,371.1 408.6,370.0 408.8,374.5 409.1,371.8 409.3,375.4 409.6,364.7 409.8,360.4 410.1,367.1 410.3,373.7 410.6,371.1 410.8,375.8 411.1,373.9 411.3,373.2 411.6,375.0 411.8,367.5 412.1,377.0 412.3,366.6 412.6,371.4 412.8,365.0 413.1,375.0 413.3,364.9 413.6,380.1 413.8,366.4 414.1,374.7 414.3,372.9 414.6,369.4 414.8,380.4 415.1,372.1 415.3,381.9 415.6,369.5 415.8,370.8 416.1,365.0 416.3,378.0 416.6,380.0 416.8,376.7 417.1,374.9 417.3,371.3 417.6,388.0 417.8,380.0 418.1,367.2 418.3,375.1 418.6,363.7 418.8,385.0 419.1,387.2 419.3,384.8 419.6,377.3 419.8,374.8 420.1,370.9 420.3,380.8 420.6,374.6 420.8,376.6 421.1,379.4 421.3,377.3 421.6,383.5 421.8,387.7 422.1,380.2 422.3,379.7 422.6,374.2 422.8,373.7 423.1,374.7 423.3,383.3 423.6,381.6 423.8,385.4 424.1,382.8 424.3,382.2 424.6,374.8 424.8,379.3 425.1,374.1 425.3,391.4 425.6,382.9 425.8,379.8 426.1,391.8 426.3,380.0 426.6,384.8 426.8,381.3 427.1,384.0 427.3,380.5 427.6,384.9 427.8,389.6 428.1,376.3 428.3,371.5 428.6,389.5 428.8,383.6 429.1,387.2 429.3,381.4 429.6,390.6 429.8,390.5 430.1,377.1 430.3,386.4 430.6,380.0 430.8,375.0 431.1,381.5 431.3,385.8 431.6,376.1 431.8,376.5 432.1,389.1 432.3,383.1 432.6,384.9 432.8,377.1 433.1,379.5 433.3,383.4 433.6,383.7 433.8,383.4 434.1,390.6 434.3,383.4 434.6,374.9 434.8,378.1 435.1,382.1 435.3,388.7 435.6,378.8 435.8,380.2 436.1,382.0 436.3,378.5 436.6,377.8 436.8,380.7 437.1,386.7 437.3,384.1 437.6,380.2 437.8,383.5 438.1,375.1 438.3,386.3 438.6,385.0 438.8,382.7 439.1,373.0 439.3,391.1 439.6,366.4 439.8,375.9 440.1,376.2 440.3,384.1 440.6,373.1 440.8,381.5 441.1,379.3 441.3,378.4 441.6,383.8 441.8,386.3 442.1,380.9 442.3,377.2 442.6,367.0 442.8,385.1 443.1,375.9 443.3,367.9 443.6,377.4 443.8,383.3 444.1,374.9 444.3,369.4 444.6,385.8 444.8,377.2 445.1,375.4 445.3,378.2 445.6,362.0 445.8,371.8 446.1,370.8 446.3,382.3 446.6,367.9 446.8,367.4 447.1,362.8 447.3,365.1 447.6,367.6 447.8,369.5 448.1,366.7 448.3,377.1 448.6,369.2 448.8,369.5 449.1,372.7 449.3,368.7 449.6,362.7 449.8,357.3 450.1,366.3 450.3,360.2 450.6,370.4 450.8,359.9 451.1,352.4 451.3,365.5 451.6,367.9 451.8,361.3 452.1,362.9 452.3,362.4 452.6,369.7 452.8,362.4 453.1,360.4 453.3,357.3 453.6,351.9 453.8,366.5 454.1,364.9 454.3,354.3 454.6,361.6 454.8,359.8 455.1,361.6 455.3,356.1 455.6,361.0 455.8,351.1 456.1,354.1 456.3,356.0 456.6,356.0 456.8,354.8 457.1,356.6 457.3,357.8 457.6,350.6 457.8,355.1 458.1,351.9 458.3,361.5 458.6,347.2 458.8,352.7 459.1,357.0 459.3,352.0 459.6,351.6 459.8,350.5 460.1,354.4 460.3,347.1 460.6,352.2 460.8,352.0 461.1,345.4 461.3,353.7 461.6,350.0 461.8,353.7 462.1,356.3 462.3,353.8 462.6,346.5 462.8,353.7 463.1,344.6 463.3,348.6 463.6,360.4 463.8,352.5 464.1,360.1 464.3,351.9 464.6,353.0 464.8,347.7 465.1,357.8 465.3,352.5 465.6,356.7 465.8,356.0 466.1,356.7 466.3,356.0 466.6,354.5 466.8,355.0 467.1,352.0 467.3,345.5 467.6,358.2 467.8,366.1 468.1,361.6 468.3,367.9 468.6,359.5 468.8,353.0 469.1,353.2 469.3,361.7 469.6,360.2 469.8,358.1 470.1,362.8 470.3,355.5 470.6,362.4 470.8,359.0 471.1,361.4 471.3,366.6 471.6,360.7 471.8,366.6 472.1,368.2 472.3,358.7 472.6,373.5 472.8,357.1 473.1,362.7 473.3,367.0 473.6,353.2 473.8,369.1 474.1,369.9 474.3,364.4 474.6,366.5 474.8,366.6 475.1,365.0 475.3,371.3 475.6,365.0 475.8,366.9 476.1,369.2 476.3,371.8 476.6,373.4 476.8,361.7 477.1,359.5 477.3,368.7 477.6,369.5 477.8,365.1 478.1,372.0 478.3,373.9 478.6,373.1 478.8,379.4 479.1,367.3 479.3,372.6 479.6,381.9 479.8,376.5 480.1,368.5 480.3,375.1 480.6,380.0 480.8,384.6 481.1,378.4 481.3,381.1 481.6,370.9 481.8,375.3 482.1,382.4 482.3,372.8 482.6,377.3 482.8,369.3 483.1,385.2 483.3,378.1 483.6,381.7 483.8,372.6 484.1,373.9 484.3,388.7 484.6,379.1 484.8,378.6 485.1,383.9 485.3,384.5 485.6,373.3 485.8,378.2 486.1,383.4 486.3,383.6 486.6,385.5 486.8,382.4 487.1,383.5 487.3,386.1 487.6,382.4 487.8,382.1 488.1,383.8 488.3,386.7 488.6,386.4 488.8,385.3 489.1,386.7 489.3,388.0 489.6,390.1 489.8,390.6 490.1,383.5 490.3,394.1 490.6,382.8 490.8,392.9 491.1,387.5 491.3,393.7 491.6,396.2 491.8,383.2 492.1,394.7 492.3,393.5 492.6,390.5 492.8,394.6 493.1,390.9 493.3,393.9 493.6,388.9 493.8,397.5 494.1,397.8 494.3,397.8 494.6,391.8 494.8,403.2 495.1,404.1 495.3,395.1 495.6,393.8 495.8,394.1 496.1,399.3 496.3,401.0 496.6,393.3 496.8,387.8 497.1,399.2 497.3,397.2 497.6,398.3 497.8,400.1 498.1,393.1 498.3,398.5 498.6,397.1 498.8,400.3 499.1,404.3 499.3,399.1 499.6,395.5 499.8,405.0 500.1,402.9 500.3,399.0 500.6,392.1 500.8,396.4 501.1,401.1 501.3,403.1 501.6,398.6 501.8,403.0 502.1,398.5 502.3,399.6 502.6,404.0 502.8,400.7 503.1,402.7 503.3,406.1 503.6,407.5 503.8,400.1 504.1,401.8 504.3,397.2 504.6,397.5 504.8,404.8 505.1,401.4 505.3,395.7 505.6,406.4 505.8,400.6 506.1,403.1 506.3,406.5 506.6,406.7 506.8,404.9 507.1,396.7 507.3,408.0 507.6,403.2 507.8,399.9 508.1,396.6 508.3,412.2 508.6,407.3 508.8,407.4 509.1,409.8 509.3,407.0 509.6,401.2 509.8,410.7 510.1,412.4 510.3,410.5 510.6,415.1 510.8,416.9 511.1,405.4 511.3,407.1 511.6,413.1 511.8,410.2 512.1,410.5 512.3,413.8 512.6,413.1 512.8,408.2 513.1,410.8 513.3,407.4 513.6,409.7 513.8,405.9 514.1,402.4 514.3,408.8 514.6,408.5 514.8,415.0 515.1,418.0 515.3,411.4 515.6,413.4 515.8,408.8 516.1,407.6 516.3,410.4 516.6,410.5 516.8,413.1 517.1,412.3 517.3,419.0 517.6,411.1 517.8,405.0 518.1,412.6 518.3,409.4 518.6,413.1 518.8,417.1 519.1,409.6 519.3,412.1 519.6,414.6 519.8,408.5 520.1,413.5 520.3,414.9 520.6,416.1 520.8,417.3 521.1,415.1 521.3,414.4 521.6,407.0 521.8,401.6 522.1,408.9 522.3,419.0 522.6,413.5 522.8,403.6 523.1,411.3 523.3,414.7 523.6,405.4 523.8,415.6 524.1,408.5 524.3,417.7 524.6,413.5 524.8,426.4 525.1,407.9 525.3,414.7 525.6,407.4 525.8,418.4 526.1,414.2 526.3,417.5 526.6,414.2 526.8,408.9 527.1,411.1 527.3,408.7 527.6,409.6 527.8,414.6 528.1,418.5 528.3,417.6 528.6,418.4 528.8,411.8 529.1,416.3 529.3,410.7 529.6,415.2 529.8,417.8 530.1,413.6 530.3,412.5 530.6,412.7 530.8,417.1 531.1,413.3 531.3,408.8 531.6,413.0 531.8,410.3 532.1,420.9 532.3,414.9 532.6,408.8 532.8,416.0 533.1,417.9 533.3,416.5 533.6,413.6 533.8,415.7 534.1,416.3 534.3,419.3 534.6,416.7 534.8,424.5 535.1,414.4 535.3,421.6 535.6,415.5 535.8,408.5 536.1,410.7 536.3,408.2 536.6,408.6 536.8,420.6 537.1,413.0 537.3,418.2 537.6,412.2 537.8,415.8 538.1,411.7 538.3,419.5 538.6,415.0 538.8,414.3 539.1,415.5 539.3,425.0 539.6,418.1 539.8,423.7 540.1,411.4 540.3,413.9 540.6,417.8 540.8,409.2 541.1,422.1 541.3,418.3 541.6,416.8 541.8,416.1 542.1,416.1 542.3,415.1 542.6,422.8 542.8,420.0 543.1,421.1 543.3,416.3 543.6,414.0 543.8,423.1 544.1,412.9 544.3,415.4 544.6,419.6 544.8,422.4 545.1,412.9 545.3,417.2 545.6,418.5 545.8,417.9 546.1,415.2 546.3,421.4 546.6,416.7 546.8,417.9 547.1,410.1 547.3,418.7 547.6,411.5 547.8,422.1 548.1,421.4 548.3,417.5 548.6,420.3 548.8,420.2 549.1,419.3 549.3,421.4 549.6,419.6 549.8,418.3 550.1,417.2 550.3,427.0 550.6,421.3 550.8,420.6 551.1,423.6 551.3,419.3 551.6,419.5 551.8,423.7 552.1,425.2 552.3,423.9 552.6,415.6 552.8,421.7 553.1,421.5 553.3,423.5 553.6,418.4 553.8,417.8 554.1,421.6 554.3,418.7 554.6,418.1 554.8,422.1 555.1,426.1 555.3,423.2 555.6,427.1 555.8,419.0 556.1,425.8 556.3,423.1 556.6,419.9 556.8,421.8 557.1,420.3 557.3,422.9 557.6,420.9 557.8,428.8 558.1,422.7 558.3,418.8 558.6,423.6 558.8,426.0 559.1,423.4 559.3,428.0 559.6,421.4 559.8,421.7 560.1,431.3 560.3,425.2 560.6,427.4 560.8,427.3 561.1,432.0 561.3,425.8 561.6,425.0 561.8,430.0 562.1,424.0 562.3,426.4 562.6,428.7 562.8,424.6 563.1,420.3 563.3,428.0 563.6,430.4 563.8,427.3 564.1,420.0 564.3,428.9 564.6,434.0 564.8,420.6 565.1,416.2 565.3,425.6 565.6,426.8 565.8,429.5 566.1,429.6 566.3,426.8 566.6,428.5 566.8,427.7 567.1,426.9 567.3,426.2 567.6,425.9 567.8,429.1 568.1,427.9 568.3,424.8 568.6,431.4 568.8,423.6 569.1,425.4 569.3,426.8 569.6,419.1 569.8,426.2 570.1,429.5 570.3,429.3 570.6,421.6 570.8,423.0 571.1,422.0 571.3,425.2 571.6,425.8 571.8,420.0 572.1,427.2 572.3,426.2 572.6,425.6 572.8,423.3 573.1,425.2 573.3,419.1 573.6,426.7 573.8,426.6 574.1,425.3 574.3,421.2 574.6,430.5 574.8,429.9 575.1,418.5 575.3,427.2 575.6,426.1 575.8,415.8 576.1,427.5 576.3,427.9 576.6,428.2 576.8,426.0 577.1,423.0 577.3,423.5 577.6,427.3 577.8,428.5 578.1,423.5 578.3,424.3 578.6,428.0 578.8,417.2 579.1,427.0 579.3,424.4 579.6,417.0 579.8,428.2 580.1,418.9 580.3,428.3 580.6,430.5 580.8,420.6 581.1,420.8 581.3,425.2 581.6,418.7 581.8,428.0 582.1,426.0 582.3,429.0 582.6,418.4 582.8,426.1 583.1,427.0 583.3,418.5 583.6,428.7 583.8,421.9 584.1,426.0 584.3,420.3 584.6,428.3 584.8,431.8 585.1,425.6 585.3,425.5 585.6,430.3 585.8,423.7 586.1,425.5 586.3,428.5 586.6,427.0 586.8,431.3 587.1,429.9 587.3,432.7 587.6,425.4 587.8,429.7 588.1,422.4 588.3,428.9 588.6,432.2 588.8,434.4 589.1,420.8 589.3,424.9 589.6,428.3 589.8,422.3 590.1,427.7 590.3,427.6 590.6,423.8 590.8,423.6 591.1,422.1 591.3,426.8 591.6,430.4 591.8,426.7 592.1,436.1 592.3,420.0 592.6,423.4 592.8,428.2 593.1,421.3 593.3,426.9 593.6,428.7 593.8,426.3 594.1,424.8 594.3,429.2 594.6,427.2 594.8,428.4 595.1,427.7 595.3,423.1 595.6,421.4 595.8,424.2 596.1,426.3 596.3,424.8 596.6,429.1 596.8,426.5 597.1,429.1 597.3,425.8 597.6,422.6 597.8,428.5 598.1,427.1 598.3,421.9 598.6,423.5 598.8,435.5 599.1,412.0 599.3,429.0 599.6,424.8 599.8,424.2 600.1,423.3 600.3,422.3 600.6,433.2 600.8,422.3 601.1,422.7 601.3,426.8 601.6,425.1 601.8,422.8 602.1,422.3 602.3,418.2 602.6,427.3 602.8,419.0 603.1,413.6 603.3,426.7 603.6,425.5 603.8,423.8 604.1,420.3 604.3,426.8 604.6,417.9 604.8,413.6 605.1,422.5 605.3,424.8 605.6,424.0 605.8,429.5 606.1,424.6 606.3,420.4 606.6,420.4 606.8,424.5 607.1,420.8 607.3,420.4 607.6,414.0 607.8,419.6 608.1,415.7 608.3,421.5 608.6,421.1 608.8,423.2 609.1,427.3 609.3,419.7 609.6,425.9 609.8,416.0 610.1,420.9 610.3,424.0 610.6,427.9 610.8,416.1 611.1,419.3 611.3,420.9 611.6,419.9 611.8,416.6 612.1,414.0 612.3,415.6 612.6,420.0 612.8,415.1 613.1,427.2 613.3,425.1 613.6,413.0 613.8,418.4 614.1,425.4 614.3,425.9 614.6,424.6 614.8,414.8 615.1,418.9 615.3,425.3 615.6,420.7 615.8,418.6 616.1,422.3 616.3,424.1 616.6,420.9 616.8,421.3 617.1,424.5 617.3,418.1 617.6,416.8 617.8,423.3 618.1,415.7 618.3,422.2 618.6,417.5 618.8,423.6 619.1,415.7 619.3,424.7 619.6,421.4 619.8,419.1 620.1,417.0 620.3,419.7 620.6,416.7 620.8,415.7 621.1,424.5 621.3,422.7 621.6,425.2 621.8,412.8 622.1,413.0 622.3,414.5 622.6,423.2 622.8,423.9 623.1,413.7 623.3,425.0 623.6,419.5 623.8,416.7 624.1,421.1 624.3,423.0 624.6,420.9 624.8,421.2 625.1,418.8 625.3,416.7 625.6,420.9 625.8,416.2 626.1,425.0 626.3,419.6 626.6,428.1 626.8,417.1 627.1,428.9 627.3,420.2 627.6,420.3 627.8,425.1 628.1,427.6 628.3,424.1 628.6,423.1 628.8,432.4 629.1,426.8 629.3,420.3 629.6,424.1 629.8,431.8 630.1,426.7 630.3,428.7 630.6,433.6 630.8,423.5 631.1,427.4 631.3,423.4 631.6,426.1 631.8,428.3 632.1,421.1 632.3,426.9 632.6,427.0 632.8,430.6 633.1,424.2 633.3,421.6 633.6,428.1 633.8,422.3 634.1,427.4 634.3,428.9 634.6,423.3 634.8,426.3 635.1,422.8 635.3,415.8 635.6,421.2 635.8,418.8 636.1,427.0 636.3,422.8 636.6,426.4 636.8,426.8 637.1,431.1 637.3,425.7 637.6,425.5 637.8,429.1 638.1,433.4 638.3,426.8 638.6,428.5 638.8,426.5 639.1,424.5 639.3,421.3 639.6,427.0 639.8,426.3 640.1,426.4 640.3,435.1 640.6,426.1 640.8,428.7 641.1,422.5 641.3,432.0 641.6,426.3 641.8,434.7 642.1,426.5 642.3,430.5 642.6,431.5 642.8,428.8 643.1,430.9 643.3,427.8 643.6,424.7 643.8,425.0 644.1,428.9 644.3,434.6 644.6,425.8 644.8,429.8 645.1,424.5 645.3,428.7 645.6,422.6 645.8,424.6 646.1,427.7 646.3,424.8 646.6,426.7 646.8,431.6 647.1,427.2 647.3,424.9 647.6,422.9 647.8,425.7 648.1,432.2 648.3,427.4 648.6,427.2 648.8,430.5 649.1,431.0 649.3,431.6 649.6,426.3 649.8,424.1 650.1,422.6 650.3,424.9 650.6,426.1 650.8,430.4 651.1,428.3 651.3,425.3 651.6,430.9 651.8,422.5 652.1,423.3 652.3,422.7 652.6,423.0 652.8,426.2 653.1,423.9 653.3,424.1 653.6,432.2 653.8,421.3 654.1,422.9 654.3,425.9 654.6,428.5 654.8,428.6 655.1,425.7 655.3,425.2 655.6,425.5 655.8,429.4 656.1,422.9 656.3,417.2 656.6,427.0 656.8,421.7 657.1,425.9 657.3,431.5 657.6,426.4 657.8,433.1 658.1,419.7 658.3,426.7 658.6,427.3 658.8,428.9 659.1,422.8 659.3,426.2 659.6,426.0 659.8,425.8 660.1,420.0 660.3,418.6 660.6,428.8 660.8,426.5 661.1,425.2 661.3,427.5 661.6,429.1 661.8,420.3 662.1,427.8 662.3,430.4 662.6,428.5 662.8,426.7 663.1,427.1 663.3,418.7 663.6,422.2 663.8,428.0 664.1,429.7 664.3,425.6 664.6,422.0 664.8,423.1 665.1,426.9 665.3,431.3 665.6,426.4 665.8,421.3 666.1,425.6 666.3,424.8 666.6,432.4 666.8,425.4 667.1,423.1 667.3,422.7 667.6,418.2 667.8,418.8 668.1,421.1 668.3,419.8 668.6,423.7 668.8,423.4 669.1,430.0 669.3,428.9 669.6,423.7 669.8,422.4 670.1,416.0 670.3,424.8 670.6,426.0 670.8,420.5 671.1,422.1 671.3,421.0 671.6,427.9 671.8,426.3 672.1,428.7 672.3,419.5 672.6,434.6 672.8,421.1 673.1,420.5 673.3,425.4 673.6,422.6 673.8,431.9 674.1,423.4 674.3,415.8 674.6,429.0 674.8,430.1 675.1,422.2 675.3,423.7 675.6,424.3 675.8,425.2 676.1,432.6 676.3,430.9 676.6,430.3 676.8,431.2 677.1,426.4 677.3,429.8 677.6,426.2 677.8,423.6 678.1,433.1 678.3,419.8 678.6,426.7 678.8,424.5 679.1,420.4 679.3,420.2 679.6,423.9 679.8,428.7 680.1,423.8 680.3,430.0 680.6,428.3 680.8,430.3 681.1,419.7 681.3,425.5 681.6,424.9 681.8,429.6 682.1,424.5 682.3,425.4 682.6,423.0 682.8,422.9 683.1,423.9 683.3,431.3 683.6,423.5 683.8,418.2 684.1,428.8 684.3,426.0 684.6,429.9 684.8,429.9 685.1,426.6 685.3,426.3 685.6,425.8 685.8,427.9 686.1,425.0 686.3,428.8 686.6,433.4 686.8,425.5 687.1,425.7 687.3,425.7 687.6,430.6 687.8,430.8 688.1,433.9 688.3,431.1 688.6,428.9 688.8,430.2 689.1,423.4 689.3,430.7 689.6,429.2 689.8,436.6 690.1,434.0 690.3,425.5 690.6,426.5 690.8,432.1 691.1,420.8 691.3,425.2 691.6,430.3 691.8,431.3 692.1,429.6 692.3,433.4 692.6,427.9 692.8,429.3 693.1,428.3 693.3,424.8 693.6,429.2 693.8,427.0 694.1,429.4 694.3,419.0 694.6,429.6 694.8,427.1 695.1,426.9 695.3,429.4 695.6,427.5 695.8,432.9 696.1,434.2 696.3,432.8 696.6,433.1 696.8,430.9 697.1,429.6 697.3,424.5 697.6,428.1 697.8,434.2 698.1,432.6 698.3,427.7 698.6,430.1 698.8,433.8 699.1,429.1 699.3,436.0 699.6,426.8 699.8,432.8 700.1,432.5 700.3,430.5 700.6,431.0 700.8,432.0 701.1,421.1 701.3,431.8 701.6,434.4 701.8,431.5 702.1,434.4 702.3,425.5 702.6,429.8 702.8,431.3 703.1,429.1 703.3,434.7 703.6,432.0 703.8,432.9 704.1,433.3 704.3,433.3 704.6,433.2 704.8,432.6 705.1,431.7 705.3,431.6 705.6,425.4 705.8,435.2 706.1,432.8 706.3,430.2 706.6,431.6 706.8,431.6 707.1,429.1 707.3,428.0 707.6,430.7 707.8,428.0 708.1,428.4 708.3,425.8 708.6,429.2 708.8,434.2 709.1,431.1 709.3,430.5 709.6,429.1 709.8,428.6 710.1,424.5 710.3,436.7 710.6,427.5 710.8,424.5 711.1,431.8 711.3,431.3 711.6,428.3 711.8,424.6 712.1,424.9 712.3,436.3 712.6,429.8 712.8,427.7 713.1,437.5 713.3,428.2 713.6,426.7 713.8,432.4 714.1,431.7 714.3,436.3 714.6,424.2 714.8,431.4 715.1,423.7 715.3,432.1 715.6,427.7 715.8,428.5 716.1,427.4 716.3,432.9 716.6,436.6 716.8,429.9 717.1,429.3 717.3,428.3 717.6,432.3 717.8,426.3 718.1,444.0 718.3,429.4 718.6,436.9 718.8,430.8 719.1,424.9 719.3,424.2 719.6,428.6 719.8,427.5 720.1,429.3 720.3,425.8 720.6,439.4 720.8,438.5 721.1,423.2 721.3,432.1 721.6,434.9 721.8,429.0 722.1,429.4 722.3,434.6 722.6,432.5 722.8,425.7 723.1,435.2 723.3,428.6 723.6,437.8 723.8,426.9 724.1,421.8 724.3,431.2 724.6,435.6 724.8,432.9 725.1,431.6 725.3,427.5 725.6,434.7 725.8,424.0 726.1,434.4 726.3,426.7 726.6,429.2 726.8,426.5 727.1,428.1 727.3,437.6 727.6,427.3 727.8,433.3 728.1,429.0 728.3,436.2 728.6,427.0 728.8,432.4 729.1,436.1 729.3,441.5 729.6,428.1 729.8,429.4 730.1,432.8 730.3,438.9 730.6,429.2 730.8,436.5 731.1,430.9 731.3,429.4 731.6,427.4 731.8,434.2 732.1,437.0 732.3,433.5 732.6,425.7 732.8,431.9 733.1,438.0 733.3,437.7 733.6,435.4 733.8,440.2 734.1,429.6 734.3,429.8 734.6,444.1 734.8,437.4 735.1,434.0 735.3,433.0 735.6,424.8 735.8,438.3 736.1,426.9 736.3,427.4 736.6,435.0 736.8,441.1 737.1,433.7 737.3,436.8 737.6,437.3 737.8,437.0 738.1,428.9 738.3,443.8 738.6,431.8 738.8,437.8 739.1,427.6 739.3,442.7 739.6,437.5 739.8,443.7 740.1,433.3 740.3,440.0 740.6,435.3 740.8,435.9 741.1,441.1 741.3,432.6 741.6,439.1 741.8,443.9 742.1,442.2 742.3,440.6 742.6,437.7 742.8,432.6 743.1,442.2 743.3,433.9 743.6,441.4 743.8,435.3 744.1,436.7 744.3,436.7 744.6,439.2 744.8,435.1 745.1,437.6 745.3,434.8 745.6,439.0 745.8,438.1 746.1,438.7 746.3,433.7 746.6,438.4 746.8,437.3 747.1,439.5 747.3,437.4 747.6,433.4 747.8,440.1 748.1,434.6 748.3,438.4 748.6,429.2 748.8,439.4 749.1,443.7 749.3,433.8 749.6,439.8 749.8,436.0 750.1,443.0 750.3,440.2 750.6,432.7 750.8,436.8 751.1,430.7 751.3,436.4 751.6,439.8 751.8,441.0 752.1,437.3 752.3,436.8 752.6,438.4 752.8,435.5 753.1,439.2 753.3,442.3 753.6,438.7 753.8,441.4 754.1,434.9 754.3,436.1 754.6,439.4 754.8,446.1 755.1,442.2 755.3,444.9 755.6,438.4 755.8,443.2 756.1,431.7 756.3,440.4 756.6,430.2 756.8,443.3 757.1,440.3 757.3,441.7 757.6,440.1 757.8,436.6 758.1,435.7 758.3,439.4 758.6,444.5 758.8,441.1 759.1,436.6 759.3,436.5 759.6,436.0 759.8,437.9 760.1,438.4 760.3,436.9 760.6,438.9 760.8,432.7 761.1,445.0 761.3,439.9 761.6,444.9 761.8,440.1 762.1,438.2 762.3,439.3 762.6,439.9 762.8,436.4 763.1,437.5 763.3,446.5 763.6,442.7 763.8,437.0 764.1,441.1 764.3,435.8 764.6,444.6 764.8,435.2 765.1,442.6 765.3,439.2 765.6,439.3 765.8,436.0 766.1,438.1 766.3,436.2 766.6,435.8 766.8,440.9 767.1,449.0 767.3,437.8 767.6,443.1 767.8,439.1 768.1,436.3 768.3,444.4 768.6,441.6 768.8,443.6 769.1,439.6 769.3,439.7 769.6,435.9 769.8,438.1 770.1,445.7 770.3,430.2 770.6,440.7 770.8,444.9 771.1,442.3 771.3,445.1 771.6,438.1 771.8,443.6 772.1,439.4 772.3,439.5 772.6,445.7 772.8,437.3 773.1,429.5 773.3,439.1 773.6,438.7 773.8,435.9 774.1,437.4 774.3,437.1 774.6,432.0 774.8,444.0 775.1,440.1 775.3,449.7 775.6,439.1 775.8,440.7 776.1,433.3 776.3,443.1 776.6,434.9 776.8,441.3 777.1,442.8 777.3,442.2 777.6,435.9 777.8,436.0 778.1,439.1 778.3,443.8 778.6,444.8 778.8,439.1 779.1,438.8 779.3,446.2 779.6,436.9 779.8,442.1 780.1,437.9 780.3,433.6 780.6,434.8 780.8,440.9 781.1,440.0 781.3,441.1 781.6,437.7 781.8,437.1 782.1,440.2 782.3,438.3 782.6,432.7 782.8,437.2 783.1,445.4 783.3,435.8 783.6,440.8 783.8,438.3 784.1,443.2 784.3,435.0 784.6,433.4 784.8,440.0 785.1,435.4 785.3,437.9 785.6,436.7 785.8,441.6 786.1,438.8 786.3,438.2 786.6,433.8 786.8,431.4 787.1,434.1 787.3,440.5 787.6,439.9 787.8,439.4 788.1,435.5 788.3,433.0 788.6,441.4 788.8,437.6 789.1,438.9 789.3,433.1 789.6,434.0 789.8,439.1 790.1,439.5 790.3,432.7 790.6,437.7 790.8,432.0 791.1,441.3 791.3,439.1 791.6,445.4 791.8,442.5 792.1,434.1 792.3,437.5 792.6,434.9 792.8,437.4 793.1,439.9 793.3,436.9 793.6,437.3 793.8,431.9 794.1,439.9 794.3,437.3 794.6,439.8 794.8,441.6 795.1,437.8 795.3,442.8 795.6,435.5 795.8,441.7 796.1,438.0 796.3,436.0 796.6,433.7 796.8,433.0 797.1,436.1 797.3,437.1 797.6,439.0 797.8,438.7 798.1,436.7 798.3,438.6 798.6,431.2 798.8,439.9 799.1,441.9 799.3,442.9 799.6,444.2 799.8,439.9 800.1,439.9 800.3,438.5 800.6,438.6 800.8,441.1 801.1,445.9 801.3,434.3 801.6,439.0 801.8,442.1 802.1,437.3 802.3,442.8 802.6,436.0 802.8,440.0 803.1,435.0 803.3,442.5 803.6,438.5 803.8,444.1 804.1,440.5 804.3,438.0 804.6,440.1 804.8,442.2 805.1,441.8 805.3,440.9 805.6,440.6 805.8,442.0 806.1,445.3 806.3,439.9 806.6,443.8 806.8,437.1 807.1,445.8 807.3,443.7 807.6,441.0 807.8,441.1 808.1,435.9 808.3,442.9 808.6,441.6 808.8,437.2 809.1,434.6 809.3,444.9 809.6,443.4 809.8,443.8 810.1,440.7 810.3,446.2 810.6,442.9 810.8,446.3 811.1,451.5 811.3,435.4 811.6,441.2 811.8,443.2 812.1,440.4 812.3,447.2 812.6,442.0 812.8,449.8 813.1,446.3 813.3,445.1 813.6,443.4 813.8,446.8 814.1,445.5 814.3,449.2 814.6,445.3 814.8,447.6 815.1,445.3 815.3,445.0 815.6,437.8 815.8,443.9 816.1,445.4 816.3,439.4 816.6,438.6 816.8,442.8 817.1,445.1 817.3,437.4 817.6,445.2 817.8,447.7 818.1,443.1 818.3,444.9 818.6,445.8 818.8,441.5 819.1,446.4 819.3,445.8 819.6,456.0" fill="none" stroke="#00ff00" stroke-width="1.5" stroke-linejoin="round"/>
<path d="M87.1,596.8 87.4,596.8 87.7,596.8 88.0,596.8 88.3,596.8 88.6,596.8 88.9,596.1 89.2,596.8 89.5,596.8 89.8,596.8 90.1,596.5 90.4,596.8 90.7,596.8 91.0,596.8 91.3,596.8 91.6,596.7 91.9,596.8 92.2,596.8 92.5,596.8 92.8,596.8 93.1,596.8 93.4,596.8 93.7,596.4 94.0,596.8 94.3,596.0 94.6,596.8 94.9,596.8 95.2,596.8 95.5,596.8 95.8,596.8 96.1,596.8 96.4,596.8 96.7,596.0 97.0,596.8 97.3,594.9 97.6,595.7 97.9,593.8 98.2,596.8 98.5,596.5 98.8,596.8 99.1,596.6 99.4,596.8 99.7,595.9 100.0,594.0 100.3,596.8 100.6,596.8 100.9,595.3 101.2,596.8 101.5,596.5 101.8,595.5 102.1,593.1 102.4,595.3 102.7,592.0 103.0,592.5 103.3,594.7 103.6,594.8 103.9,594.5 104.2,592.3 104.5,594.9 104.8,595.4 105.1,591.6 105.4,592.2 105.7,594.2 106.0,592.5 106.3,594.1 106.6,592.1 106.9,592.5 107.2,595.7 107.5,591.3 107.8,592.0 108.1,594.8 108.4,594.8 108.7,594.4 109.0,593.6 109.3,593.5 109.6,592.1 109.9,595.8 110.2,591.1 110.5,591.5 110.8,591.2 111.1,593.8 111.4,592.3 111.7,592.1 112.0,593.8 112.3,593.3 112.6,589.3 112.9,592.6 113.2,590.3 113.5,591.8 113.8,589.5 114.1,593.4 114.4,589.9 114.7,592.5 115.0,591.0 115.3,591.3 115.6,591.5 115.9,589.4 116.2,590.5 116.5,591.3 116.8,593.0 117.1,591.1 117.4,593.2 117.7,591.3 118.0,590.8 118.3,590.9 118.6,593.5 118.9,591.6 119.2,592.0 119.5,591.5 119.8,590.0 120.1,590.4 120.4,590.1 120.7,591.3 121.0,588.8 121.3,590.6 121.6,590.9 121.9,586.5 122.2,591.4 122.5,592.0 122.8,588.2 123.1,586.9 123.4,589.7 123.7,589.2 124.0,590.5 124.3,591.3 124.6,588.8 124.9,590.6 125.2,590.7 125.5,588.7 125.8,590.6 126.1,587.7 126.4,589.9 126.7,586.1 127.0,588.2 127.3,590.3 127.6,589.7 127.9,588.1 128.2,589.8 128.5,586.2 128.8,587.8 129.1,587.9 129.4,587.3 129.7,587.4 130.0,586.5 130.3,586.8 130.6,586.6 130.9,587.0 131.2,589.2 131.5,590.7 131.8,587.6 132.1,590.3 132.4,587.2 132.7,587.4 133.0,585.8 133.3,590.6 133.6,588.0 133.9,587.6 134.2,586.8 134.5,588.4 134.8,586.2 135.1,587.5 135.4,587.3 135.7,587.3 136.0,588.0 136.3,588.1 136.6,588.8 136.9,587.8 137.2,585.2 137.5,586.7 137.8,586.7 138.1,585.6 138.4,587.4 138.7,586.8 139.0,587.5 139.3,584.4 139.6,586.2 139.9,583.3 140.2,584.3 140.5,584.1 140.8,586.5 141.1,584.0 141.4,584.8 141.7,584.0 142.0,583.5 142.3,585.8 142.6,583.5 142.9,586.2 143.2,585.1 143.5,585.1 143.8,585.1 144.1,585.8 144.4,587.4 144.7,586.7 145.0,584.8 145.3,583.7 145.6,584.7 145.9,585.1 146.2,586.8 146.5,585.4 146.8,585.4 147.1,587.5 147.4,586.1 147.7,585.8 148.0,584.8 148.3,582.1 148.6,586.0 148.9,584.1 149.2,584.8 149.5,582.0 149.8,582.5 150.1,585.3 150.4,581.2 150.7,582.2 151.0,584.9 151.3,584.3 151.6,585.2 151.9,584.8 152.2,583.3 152.5,583.4 152.8,584.5 153.1,579.9 153.4,582.8 153.7,584.1 154.0,581.5 154.3,583.3 154.6,579.4 154.9,583.4 155.2,580.9 155.5,580.8 155.8,581.3 156.1,578.3 156.4,579.9 156.7,582.5 157.0,582.2 157.3,581.9 157.6,579.0 157.9,579.0 158.2,578.4 158.5,578.3 158.8,580.4 159.1,578.1 159.4,579.2 159.7,579.0 160.0,579.2 160.3,578.7 160.6,578.3 160.9,582.3 161.2,583.0 161.5,579.2 161.8,580.1 162.1,577.6 162.4,579.2 162.7,580.2 163.0,575.4 163.3,579.0 163.6,576.3 163.9,575.9 164.2,576.9 164.5,575.7 164.8,578.7 165.1,574.1 165.4,573.2 165.7,573.1 166.0,575.9 166.3,573.5 166.6,572.1 166.9,571.6 167.2,575.0 167.5,573.3 167.8,570.1 168.1,568.9 168.4,571.6 168.7,569.2 169.0,568.2 169.3,569.8 169.6,566.5 169.9,567.3 170.2,562.3 170.5,562.4 170.8,560.9 171.1,558.4 171.4,553.5 171.7,548.3 172.0,546.9 172.3,545.0 172.6,537.8 172.9,533.2 173.2,531.4 173.5,524.6 173.8,519.2 174.1,508.7 174.4,504.7 174.7,498.1 175.0,490.0 175.3,487.6 175.6,476.8 175.9,471.3 176.2,468.2 176.5,459.5 176.8,452.1 177.1,445.4 177.4,439.0 177.7,427.1 178.0,416.9 178.3,403.0 178.6,391.8 178.9,387.0 179.2,388.4 179.5,390.3 179.8,404.1 180.1,412.5 180.4,427.2 180.7,439.1 181.0,447.1 181.3,454.5 181.6,466.2 181.9,472.4 182.2,482.0 182.5,490.7 182.8,497.5 183.1,503.2 183.4,509.1 183.7,515.8 184.0,520.2 184.3,525.3 184.6,533.5 184.9,536.1 185.2,539.7 185.5,544.5 185.8,548.4 186.1,546.8 186.4,548.0 186.7,551.2 187.0,556.8 187.3,555.4 187.6,558.2 187.9,560.0 188.2,557.5 188.5,559.2 188.8,561.5 189.1,562.5 189.4,560.2 189.7,562.8 190.0,563.2 190.3,563.3 190.6,566.5 190.9,566.1 191.2,566.6 191.5,567.3 191.8,566.4 192.1,568.4 192.4,566.3 192.7,567.6 193.0,570.6 193.3,571.9 193.6,570.4 193.9,569.1 194.2,569.8 194.5,568.6 194.8,572.1 195.1,569.0 195.4,570.3 195.7,569.2 196.0,569.9 196.3,568.8 196.6,571.3 196.9,572.0 197.2,570.3 197.5,569.4 197.8,570.4 198.1,573.6 198.4,572.3 198.7,570.4 199.0,572.2 199.3,570.9 199.6,571.3 199.9,570.3 200.2,570.1 200.5,571.7 200.8,572.5 201.1,571.2 201.4,571.7 201.7,570.6 202.0,574.0 202.3,573.0 202.6,572.9 202.9,571.7 203.2,572.9 203.5,573.3 203.8,572.3 204.1,570.8 204.4,573.7 204.7,572.1 205.0,570.8 205.3,573.6 205.6,572.3 205.9,571.2 206.2,571.8 206.5,574.1 206.8,574.7 207.1,572.6 207.4,572.5 207.7,575.0 208.0,572.0 208.3,573.5 208.6,571.8 208.9,571.9 209.2,572.2 209.5,569.8 209.8,569.2 210.1,570.8 210.4,569.0 210.7,570.1 211.0,573.4 211.3,571.6 211.6,569.7 211.9,567.9 212.2,571.1 212.5,572.6 212.8,569.7 213.1,570.5 213.4,570.4 213.7,566.1 214.0,568.9 214.3,566.9 214.6,566.1 214.9,565.9 215.2,563.6 215.5,563.7 215.8,559.9 216.1,556.8 216.4,552.6 216.7,551.2 217.0,548.1 217.3,541.4 217.6,540.1 217.9,536.2 218.2,531.6 218.5,528.0 218.8,524.1 219.1,520.0 219.4,514.9 219.7,512.9 220.0,509.3 220.3,509.3 220.6,508.1 220.9,508.9 221.2,512.7 221.5,518.2 221.8,520.2 222.1,529.3 222.4,536.6 222.7,540.8 223.0,541.9 223.3,543.9 223.6,550.7 223.9,554.5 224.2,558.5 224.5,558.0 224.8,560.2 225.1,562.3 225.4,560.7 225.7,564.2 226.0,563.6 226.3,566.6 226.6,563.1 226.9,566.2 227.2,568.4 227.5,565.8 227.8,565.6 228.1,565.1 228.4,568.1 228.7,566.1 229.0,565.9 229.3,565.7 229.6,568.1 229.9,566.0 230.2,570.0 230.5,570.1 230.8,570.4 231.1,570.0 231.4,567.3 231.7,566.2 232.0,567.5 232.3,568.3 232.6,570.0 232.9,569.1 233.2,567.5 233.5,570.5 233.8,570.7 234.1,570.8 234.4,568.3 234.7,570.0 235.0,569.4 235.3,568.6 235.6,567.6 235.9,570.9 236.2,571.8 236.5,571.1 236.8,568.3 237.1,569.0 237.4,571.3 237.7,572.0 238.0,569.7 238.3,572.8 238.6,573.9 238.9,570.7 239.2,572.3 239.5,569.3 239.8,572.2 240.1,570.5 240.4,571.2 240.7,570.7 241.0,570.7 241.3,569.7 241.6,569.5 241.9,570.6 242.2,572.7 242.5,569.0 242.8,571.4 243.1,569.3 243.4,570.3 243.7,573.9 244.0,570.1 244.3,573.5 244.6,574.2 244.9,574.2 245.2,573.9 245.5,573.8 245.8,573.3 246.1,573.5 246.4,574.4 246.7,573.8 247.0,574.8 247.3,571.0 247.6,573.8 247.9,571.8 248.2,574.4 248.5,574.7 248.8,575.1 249.1,572.8 249.4,572.3 249.7,573.4 250.0,574.4 250.3,572.3 250.6,576.5 250.9,573.7 251.2,576.0 251.5,575.4 251.8,573.3 252.1,573.8 252.4,574.9 252.7,575.1 253.0,576.6 253.3,576.5 253.6,577.7 253.9,575.8 254.2,576.5 254.5,573.6 254.8,576.2 255.1,575.5 255.4,574.6 255.7,576.1 256.0,576.2 256.3,573.7 256.6,576.8 256.9,573.9 257.2,576.0 257.5,575.3 257.8,577.6 258.1,574.0 258.4,578.0 258.7,575.1 259.0,576.6 259.3,576.2 259.6,577.8 259.9,576.1 260.2,578.5 260.5,575.0 260.8,576.7 261.1,574.6 261.4,574.0 261.7,575.5 262.0,575.9 262.3,577.1 262.6,575.0 262.9,574.3 263.2,577.4 263.5,573.7 263.8,576.5 264.1,574.4 264.4,575.1 264.7,577.1 265.0,574.7 265.3,575.7 265.6,572.9 265.9,575.5 266.2,572.2 266.5,575.5 266.8,575.7 267.1,574.3 267.4,573.5 267.7,573.3 268.0,572.2 268.3,572.3 268.6,572.9 268.9,573.4 269.2,574.0 269.5,570.4 269.8,571.7 270.1,571.6 270.4,572.1 270.7,570.6 271.0,571.8 271.3,569.2 271.6,570.5 271.9,569.3 272.2,568.9 272.5,570.5 272.8,566.0 273.1,565.8 273.4,568.0 273.7,567.8 274.0,567.3 274.3,565.5 274.6,564.8 274.9,567.8 275.2,563.8 275.5,566.0 275.8,564.0 276.1,567.8 276.4,565.3 276.7,568.5 277.0,568.3 277.3,568.9 277.6,566.6 277.9,567.8 278.2,568.0 278.5,565.5 278.8,567.4 279.1,568.3 279.4,567.7 279.7,567.7 280.0,569.1 280.3,567.7 280.6,569.5 280.9,567.8 281.2,570.1 281.5,568.4 281.8,570.3 282.1,570.3 282.4,570.0 282.7,574.0 283.0,571.0 283.3,573.7 283.6,570.7 283.9,571.0 284.2,571.4 284.5,572.5 284.8,575.6 285.1,573.0 285.4,573.6 285.7,571.6 286.0,570.3 286.3,571.9 286.6,569.6 286.9,570.7 287.2,573.0 287.5,570.7 287.8,572.8 288.1,573.8 288.4,573.2 288.7,569.4 289.0,572.0 289.3,569.9 289.6,572.2 289.9,574.4 290.2,574.7 290.5,574.5 290.8,573.2 291.1,572.5 291.4,572.4 291.7,572.4 292.0,573.4 292.3,571.0 292.6,574.3 292.9,574.5 293.2,574.3 293.5,571.2 293.8,574.2 294.1,573.5 294.4,574.2 294.7,576.9 295.0,577.1 295.3,576.2 295.6,574.0 295.9,575.2 296.2,577.7 296.5,576.7 296.8,575.9 297.1,576.4 297.4,577.0 297.7,578.1 298.0,581.6 298.3,577.7 298.6,579.0 298.9,580.9 299.2,581.5 299.5,579.5 299.8,577.3 300.1,578.8 300.4,578.3 300.7,577.9 301.0,579.9 301.3,578.4 301.6,579.2 301.9,576.8 302.2,580.2 302.5,577.9 302.8,577.7 303.1,578.2 303.4,578.2 303.7,581.7 304.0,576.6 304.3,579.0 304.6,581.3 304.9,579.1 305.2,581.9 305.5,580.8 305.8,579.1 306.1,579.9 306.4,580.3 306.7,581.6 307.0,578.5 307.3,577.6 307.6,580.9 307.9,578.4 308.2,577.5 308.5,579.9 308.8,576.4 309.1,576.8 309.4,577.2 309.7,578.6 310.0,578.3 310.3,578.2 310.6,577.2 310.9,577.4 311.2,576.8 311.5,579.3 311.8,579.1 312.1,578.0 312.4,579.4 312.7,576.4 313.0,577.2 313.3,579.4 313.6,580.1 313.9,577.9 314.2,577.7 314.5,575.3 314.8,574.5 315.1,574.5 315.4,575.0 315.7,577.0 316.0,577.6 316.3,578.1 316.6,578.3 316.9,577.0 317.2,574.4 317.5,576.1 317.8,577.7 318.1,578.9 318.4,576.8 318.7,575.3 319.0,577.4 319.3,576.8 319.6,576.3 319.9,578.1 320.2,575.2 320.5,578.5 320.8,576.9 321.1,577.2 321.4,576.1 321.7,576.1 322.0,574.9 322.3,577.3 322.6,574.4 322.9,573.4 323.2,574.6 323.5,573.4 323.8,578.0 324.1,575.6 324.4,576.6 324.7,575.1 325.0,576.0 325.3,577.0 325.6,573.0 325.9,573.0 326.2,574.6 326.5,573.4 326.8,571.8 327.1,575.4 327.4,574.9 327.7,572.2 328.0,573.2 328.3,572.1 328.6,572.4 328.9,570.1 329.2,570.0 329.5,570.7 329.8,571.4 330.1,573.0 330.4,572.6 330.7,568.7 331.0,570.6 331.3,570.7 331.6,567.8 331.9,568.2 332.2,571.0 332.5,568.1 332.8,569.0 333.1,569.2 333.4,568.5 333.7,568.7 334.0,567.8 334.3,569.5 334.6,566.2 334.9,566.4 335.2,567.2 335.5,566.3 335.8,564.9 336.1,561.7 336.4,564.2 336.7,563.7 337.0,563.9 337.3,562.5 337.6,560.6 337.9,559.4 338.2,558.9 338.5,557.0 338.8,558.9 339.1,556.0 339.4,557.0 339.7,551.2 340.0,551.2 340.3,551.5 340.6,549.6 340.9,545.1 341.2,541.9 341.5,540.6 341.8,538.6 342.1,532.4 342.4,528.6 342.7,526.1 343.0,518.5 343.3,509.9 343.6,503.2 343.9,498.2 344.2,487.8 344.5,484.7 344.8,477.4 345.1,471.7 345.4,465.4 345.7,463.0 346.0,455.9 346.3,452.1 346.6,450.0 346.9,443.9 347.2,443.9 347.5,441.6 347.8,444.1 348.1,445.8 348.4,446.1 348.7,450.0 349.0,453.4 349.3,461.2 349.6,467.4 349.9,470.2 350.2,473.5 350.5,479.7 350.8,485.9 351.1,495.7 351.4,499.0 351.7,506.7 352.0,507.7 352.3,515.7 352.6,513.6 352.9,516.9 353.2,521.2 353.5,520.5 353.8,525.2 354.1,522.6 354.4,524.1 354.7,528.1 355.0,529.8 355.3,526.9 355.6,531.0 355.9,529.4 356.2,532.7 356.5,528.6 356.8,532.7 357.1,532.6 357.4,530.7 357.7,532.5 358.0,531.3 358.3,532.2 358.6,533.7 358.9,534.4 359.2,532.4 359.5,535.3 359.8,532.6 360.1,532.4 360.4,534.2 360.7,533.5 361.0,534.5 361.3,532.5 361.6,534.4 361.9,535.9 362.2,532.6 362.5,532.6 362.8,533.3 363.1,535.6 363.4,532.5 363.7,533.7 364.0,533.4 364.3,534.5 364.6,533.2 364.9,537.7 365.2,534.4 365.5,535.3 365.8,538.8 366.1,539.8 366.4,535.6 366.7,538.5 367.0,540.4 367.3,539.4 367.6,539.5 367.9,540.3 368.2,538.5 368.5,542.7 368.8,539.2 369.1,539.4 369.4,541.5 369.7,542.5 370.0,538.5 370.3,540.4 370.6,541.1 370.9,542.7 371.2,541.9 371.5,543.0 371.8,542.1 372.1,542.7 372.4,544.1 372.7,545.8 373.0,544.0 373.3,544.7 373.6,545.2 373.9,545.1 374.2,542.2 374.5,543.1 374.8,544.4 375.1,546.6 375.4,543.5 375.7,547.0 376.0,543.4 376.3,545.7 376.6,545.4 376.9,544.3 377.2,544.1 377.5,544.5 377.8,544.7 378.1,547.6 378.4,547.3 378.7,547.9 379.0,544.1 379.3,547.6 379.6,543.4 379.9,546.9 380.2,545.8 380.5,545.7 380.8,546.2 381.1,545.3 381.4,544.8 381.7,544.8 382.0,546.9 382.3,548.3 382.6,548.2 382.9,546.5 383.2,546.6 383.5,546.3 383.8,549.4 384.1,547.7 384.4,547.2 384.7,546.3 385.0,549.8 385.3,544.9 385.6,548.1 385.9,547.3 386.2,545.8 386.5,547.7 386.8,545.0 387.1,543.5 387.4,547.0 387.7,546.7 388.0,542.8 388.3,545.4 388.6,543.6 388.9,544.5 389.2,545.2 389.5,542.6 389.8,542.5 390.1,544.9 390.4,540.8 390.7,541.3 391.0,541.4 391.3,543.2 391.6,540.2 391.9,539.5 392.2,538.5 392.5,538.4 392.8,536.6 393.1,536.8 393.4,536.4 393.7,536.5 394.0,535.1 394.3,534.0 394.6,536.2 394.9,535.1 395.2,533.6 395.5,532.7 395.8,532.7 396.1,530.0 396.4,530.8 396.7,530.8 397.0,528.7 397.3,527.7 397.6,529.4 397.9,528.5 398.2,533.5 398.5,533.0 398.8,531.7 399.1,532.6 399.4,533.2 399.7,537.9 400.0,540.1 400.3,539.1 400.6,540.6 400.9,541.6 401.2,541.6 401.5,545.3 401.8,543.3 402.1,546.0 402.4,544.8 402.7,544.9 403.0,546.2 403.3,548.7 403.6,545.1 403.9,549.3 404.2,550.6 404.5,547.6 404.8,550.9 405.1,547.3 405.4,550.7 405.7,549.5 406.0,547.5 406.3,548.0 406.6,552.4 406.9,552.9 407.2,552.0 407.5,551.2 407.8,550.7 408.1,552.4 408.4,554.3 408.7,555.4 409.0,550.3 409.3,552.7 409.6,555.4 409.9,552.5 410.2,554.0 410.5,555.4 410.8,555.0 411.1,555.2 411.4,553.5 411.7,554.1 412.0,553.6 412.3,555.0 412.6,556.4 412.9,554.8 413.2,556.7 413.5,554.1 413.8,554.6 414.1,557.6 414.4,555.0 414.7,555.4 415.0,556.4 415.3,553.6 415.6,556.5 415.9,557.7 416.2,554.0 416.5,555.5 416.8,554.6 417.1,555.6 417.4,556.0 417.7,556.9 418.0,555.1 418.3,552.8 418.6,552.7 418.9,554.6 419.2,555.9 419.5,552.3 419.8,552.4 420.1,554.3 420.4,553.1 420.7,554.7 421.0,550.8 421.3,548.9 421.6,552.8 421.9,551.9 422.2,549.0 422.5,548.5 422.8,547.8 423.1,547.9 423.4,545.4 423.7,549.4 424.0,546.0 424.3,544.5 424.6,544.9 424.9,542.6 425.2,545.8 425.5,543.6 425.8,541.6 426.1,541.1 426.4,542.9 426.7,539.4 427.0,541.5 427.3,539.0 427.6,538.8 427.9,539.6 428.2,539.8 428.5,540.1 428.8,536.7 429.1,537.3 429.4,537.4 429.7,537.4 430.0,538.6 430.3,538.8 430.6,539.9 430.9,537.9 431.2,538.5 431.5,537.1 431.8,541.0 432.1,538.6 432.4,539.1 432.7,543.3 433.0,543.9 433.3,544.8 433.6,544.5 433.9,543.5 434.2,546.2 434.5,546.7 434.8,546.7 435.1,548.5 435.4,547.5 435.7,550.1 436.0,547.4 436.3,550.6 436.6,550.2 436.9,549.6 437.2,554.1 437.5,554.9 437.8,553.1 438.1,556.2 438.4,556.7 438.7,558.3 439.0,554.4 439.3,557.5 439.6,556.5 439.9,556.7 440.2,560.6 440.5,558.7 440.8,560.6 441.1,562.2 441.4,561.9 441.7,561.8 442.0,561.6 442.3,562.9 442.6,564.2 442.9,566.2 443.2,563.1 443.5,566.0 443.8,567.3 444.1,564.3 444.4,568.0 444.7,564.3 445.0,567.8 445.3,564.9 445.6,565.8 445.9,564.5 446.2,567.7 446.5,565.7 446.8,567.2 447.1,566.7 447.4,567.8 447.7,567.2 448.0,567.8 448.3,568.5 448.6,568.5 448.9,568.6 449.2,570.8 449.5,569.6 449.8,568.8 450.1,569.7 450.4,566.6 450.7,567.7 451.0,568.3 451.3,570.4 451.6,567.4 451.9,570.6 452.2,571.1 452.5,566.8 452.8,568.6 453.1,566.8 453.4,570.0 453.7,566.0 454.0,570.6 454.3,566.3 454.6,566.8 454.9,568.2 455.2,568.7 455.5,568.7 455.8,566.2 456.1,568.2 456.4,570.8 456.7,568.1 457.0,569.5 457.3,567.9 457.6,567.8 457.9,569.2 458.2,566.9 458.5,565.9 458.8,569.4 459.1,569.7 459.4,567.5 459.7,567.0 460.0,569.3 460.3,565.6 460.6,566.8 460.9,568.2 461.2,568.6 461.5,570.2 461.8,565.5 462.1,569.0 462.4,567.3 462.7,567.0 463.0,570.0 463.3,566.7 463.6,568.3 463.9,567.1 464.2,565.8 464.5,566.8 464.8,567.8 465.1,567.4 465.4,569.2 465.7,564.7 466.0,565.2 466.3,567.9 466.6,565.1 466.9,567.9 467.2,565.5 467.5,565.2 467.8,567.0 468.1,565.8 468.4,568.4 468.7,568.3 469.0,566.6 469.3,568.5 469.6,567.1 469.9,567.5 470.2,569.5 470.5,571.0 470.8,570.3 471.1,569.4 471.4,571.1 471.7,567.5 472.0,569.6 472.3,568.0 472.6,565.8 472.9,571.1 473.2,569.0 473.5,565.9 473.8,569.4 474.1,567.5 474.4,567.0 474.7,568.1 475.0,568.2 475.3,569.0 475.6,565.8 475.9,570.6 476.2,570.5 476.5,567.6 476.8,566.7 477.1,568.8 477.4,568.7 477.7,570.2 478.0,567.8 478.3,572.5 478.6,569.8 478.9,571.3 479.2,569.2 479.5,571.1 479.8,569.5 480.1,571.9 480.4,570.6 480.7,571.6 481.0,571.2 481.3,570.4 481.6,570.7 481.9,570.8 482.2,570.0 482.5,572.1 482.8,569.6 483.1,571.5 483.4,570.6 483.7,569.0 484.0,573.6 484.3,573.9 484.6,572.9 484.9,572.9 485.2,569.5 485.5,570.0 485.8,570.8 486.1,572.6 486.4,568.9 486.7,570.9 487.0,573.3 487.3,571.1 487.6,572.9 487.9,573.7 488.2,572.1 488.5,570.5 488.8,570.8 489.1,571.4 489.4,572.9 489.7,573.0 490.0,573.4 490.3,573.6 490.6,570.6 490.9,571.8 491.2,571.5 491.5,571.0 491.8,574.1 492.1,571.4 492.4,574.5 492.7,571.9 493.0,572.2 493.3,573.9 493.6,573.9 493.9,574.0 494.2,571.2 494.5,574.0 494.8,570.4 495.1,572.6 495.4,569.8 495.7,570.5 496.0,571.0 496.3,571.8 496.6,574.0 496.9,572.3 497.2,574.4 497.5,571.9 497.8,571.3 498.1,574.4 498.4,574.5 498.7,571.5 499.0,572.0 499.3,574.2 499.6,573.0 499.9,574.1 500.2,571.3 500.5,572.1 500.8,573.4 501.1,574.1 501.4,573.8 501.7,574.3 502.0,574.3 502.3,574.0 502.6,575.1 502.9,572.1 503.2,572.5 503.5,573.3 503.8,574.7 504.1,574.8 504.4,573.1 504.7,573.5 505.0,573.6 505.3,574.6 505.6,571.4 505.9,574.6 506.2,571.0 506.5,574.2 506.8,573.7 507.1,574.5 507.4,572.6 507.7,575.4 508.0,574.3 508.3,573.0 508.6,574.1 508.9,573.3 509.2,574.8 509.5,571.8 509.8,575.6 510.1,574.5 510.4,572.6 510.7,574.0 511.0,575.0 511.3,574.4 511.6,575.3 511.9,574.9 512.2,574.9 512.5,573.6 512.8,575.4 513.1,575.3 513.4,576.5 513.7,573.7 514.0,573.9 514.3,575.3 514.6,572.1 514.9,574.6 515.2,575.6 515.5,575.0 515.8,574.3 516.1,575.9 516.4,573.6 516.7,577.1 517.0,576.1 517.3,576.4 517.6,573.4 517.9,575.0 518.2,572.6 518.5,573.4 518.8,575.5 519.1,574.3 519.4,575.5 519.7,575.3 520.0,576.3 520.3,575.5 520.6,576.1 520.9,573.7 521.2,575.2 521.5,577.9 521.8,575.1 522.1,574.5 522.4,574.0 522.7,578.0 523.0,574.5 523.3,575.7 523.6,577.2 523.9,577.7 524.2,576.3 524.5,577.1 524.8,574.3 525.1,578.3 525.4,577.8 525.7,577.8 526.0,577.5 526.3,575.6 526.6,578.1 526.9,576.0 527.2,577.3 527.5,575.4 527.8,574.5 528.1,574.6 528.4,574.8 528.7,576.9 529.0,577.7 529.3,578.0 529.6,578.5 529.9,576.5 530.2,574.9 530.5,574.2 530.8,575.1 531.1,577.6 531.4,577.6 531.7,574.9 532.0,577.1 532.3,576.5 532.6,578.2 532.9,576.4 533.2,575.0 533.5,577.8 533.8,575.7 534.1,575.5 534.4,574.1 534.7,578.3 535.0,576.1 535.3,576.2 535.6,578.0 535.9,574.9 536.2,576.0 536.5,576.6 536.8,576.2 537.1,574.3 537.4,577.7 537.7,576.1 538.0,575.2 538.3,576.0 538.6,578.5 538.9,575.2 539.2,574.7 539.5,574.6 539.8,578.0 540.1,576.1 540.4,576.4 540.7,576.5 541.0,575.5 541.3,577.2 541.6,575.7 541.9,577.2 542.2,578.7 542.5,579.1 542.8,578.4 543.1,575.2 543.4,574.2 543.7,576.9 544.0,576.5 544.3,575.4 544.6,574.7 544.9,576.2 545.2,576.1 545.5,578.7 545.8,578.4 546.1,575.4 546.4,577.3 546.7,575.6 547.0,575.9 547.3,576.4 547.6,578.0 547.9,576.3 548.2,578.6 548.5,576.0 548.8,578.6 549.1,576.8 549.4,579.2 549.7,577.1 550.0,578.4 550.3,579.1 550.6,577.3 550.9,577.6 551.2,579.9 551.5,577.9 551.8,579.2 552.1,578.5 552.4,580.5 552.7,575.7 553.0,576.4 553.3,576.8 553.6,578.9 553.9,575.7 554.2,576.5 554.5,575.7 554.8,579.7 555.1,580.3 555.4,575.7 555.7,579.4 556.0,577.7 556.3,576.9 556.6,576.9 556.9,580.1 557.2,578.7 557.5,581.6 557.8,580.7 558.1,578.6 558.4,577.6 558.7,579.3 559.0,576.9 559.3,575.6 559.6,577.3 559.9,578.3 560.2,578.1 560.5,580.2 560.8,579.2 561.1,581.3 561.4,579.7 561.7,578.7 562.0,579.0 562.3,579.3 562.6,580.0 562.9,577.6 563.2,580.5 563.5,580.6 563.8,578.3 564.1,578.3 564.4,576.1 564.7,581.1 565.0,578.0 565.3,578.4 565.6,577.8 565.9,579.1 566.2,580.9 566.5,579.3 566.8,577.3 567.1,579.8 567.4,577.8 567.7,580.9 568.0,579.9 568.3,577.4 568.6,579.3 568.9,579.0 569.2,578.4 569.5,578.1 569.8,579.2 570.1,578.1 570.4,579.6 570.7,580.0 571.0,575.7 571.3,576.3 571.6,576.4 571.9,579.3 572.2,576.2 572.5,577.2 572.8,579.1 573.1,577.2 573.4,575.2 573.7,578.0 574.0,576.8 574.3,577.3 574.6,576.2 574.9,578.9 575.2,580.3 575.5,579.2 575.8,580.5 576.1,577.0 576.4,578.0 576.7,579.6 577.0,578.5 577.3,580.3 577.6,579.5 577.9,580.2 578.2,577.2 578.5,579.8 578.8,578.8 579.1,578.9 579.4,577.6 579.7,578.4 580.0,576.3 580.3,576.5 580.6,576.5 580.9,577.3 581.2,577.1 581.5,576.3 581.8,579.4 582.1,579.4 582.4,579.5 582.7,576.4 583.0,581.2 583.3,579.8 583.6,575.5 583.9,577.7 584.2,576.1 584.5,576.6 584.8,576.8 585.1,575.3 585.4,578.0 585.7,579.5 586.0,578.6 586.3,576.8 586.6,578.1 586.9,577.8 587.2,577.5 587.5,577.2 587.8,577.6 588.1,578.3 588.4,580.4 588.7,576.1 589.0,579.8 589.3,577.0 589.6,578.6 589.9,577.3 590.2,577.5 590.5,580.6 590.8,578.0 591.1,579.4 591.4,579.2 591.7,582.5 592.0,580.0 592.3,581.6 592.6,578.9 592.9,581.5 593.2,580.1 593.5,583.1 593.8,583.1 594.1,580.8 594.4,583.2 594.7,582.0 595.0,583.9 595.3,584.3 595.6,585.8 595.9,580.7 596.2,583.0 596.5,581.6 596.8,581.1 597.1,583.8 597.4,583.5 597.7,580.5 598.0,583.3 598.3,585.1 598.6,583.7 598.9,581.9 599.2,582.9 599.5,584.5 599.8,584.0 600.1,584.2 600.4,585.3 600.7,580.9 601.0,582.4 601.3,581.3 601.6,583.7 601.9,581.8 602.2,582.6 602.5,582.5 602.8,584.4 603.1,582.7 603.4,584.2 603.7,584.2 604.0,583.0 604.3,586.5 604.6,582.3 604.9,585.3 605.2,583.9 605.5,584.4 605.8,584.3 606.1,584.7 606.4,584.5 606.7,584.9 607.0,585.3 607.3,582.0 607.6,583.6 607.9,582.2 608.2,582.8 608.5,583.3 608.8,582.8 609.1,582.8 609.4,581.1 609.7,583.1 610.0,584.8 610.3,584.9 610.6,580.8 610.9,581.6 611.2,582.3 611.5,581.9 611.8,582.2 612.1,583.3 612.4,585.4 612.7,581.2 613.0,582.2 613.3,583.8 613.6,583.6 613.9,585.2 614.2,583.9 614.5,581.7 614.8,584.2 615.1,584.2 615.4,580.5 615.7,581.3 616.0,582.8 616.3,582.4 616.6,584.9 616.9,581.3 617.2,585.5 617.5,583.9 617.8,582.7 618.1,585.7 618.4,584.9 618.7,585.7 619.0,585.8 619.3,586.0 619.6,585.7 619.9,585.4 620.2,586.2 620.5,583.3 620.8,586.9 621.1,586.7 621.4,585.8 621.7,584.5 622.0,585.1 622.3,585.6 622.6,584.1 622.9,585.1 623.2,584.3 623.5,586.7 623.8,587.9 624.1,583.7 624.4,587.3 624.7,584.9 625.0,583.9 625.3,585.4 625.6,587.0 625.9,583.7 626.2,586.4 626.5,588.9 626.8,588.2 627.1,584.9 627.4,586.2 627.7,585.8 628.0,587.2 628.3,585.5 628.6,588.5 628.9,586.5 629.2,583.9 629.5,585.2 629.8,584.4 630.1,583.6 630.4,585.1 630.7,587.7 631.0,587.1 631.3,587.5 631.6,584.6 631.9,587.4 632.2,587.7 632.5,587.7 632.8,585.1 633.1,588.9 633.4,588.3 633.7,588.0 634.0,588.7 634.3,585.4 634.6,585.5 634.9,586.1 635.2,584.2 635.5,588.0 635.8,585.9 636.1,588.0 636.4,587.0 636.7,585.9 637.0,587.9 637.3,585.2 637.6,585.4 637.9,583.8 638.2,584.6 638.5,588.5 638.8,584.7 639.1,587.1 639.4,584.4 639.7,586.8 640.0,584.5 640.3,585.8 640.6,586.1 640.9,585.1 641.2,583.2 641.5,586.8 641.8,586.6 642.1,588.5 642.4,585.8 642.7,587.4 643.0,585.8 643.3,587.1 643.6,587.9 643.9,585.8 644.2,588.3 644.5,587.1 644.8,584.6 645.1,584.6 645.4,584.8 645.7,586.0 646.0,587.6 646.3,588.5 646.6,585.6 646.9,585.6 647.2,586.3 647.5,587.2 647.8,587.5 648.1,584.6 648.4,586.6 648.7,586.1 649.0,586.0 649.3,584.3 649.6,587.4 649.9,586.1 650.2,584.2 650.5,586.4 650.8,586.1 651.1,586.9 651.4,586.0 651.7,586.5 652.0,586.6 652.3,588.4 652.6,587.7 652.9,586.4 653.2,587.9 653.5,586.3 653.8,585.5 654.1,586.3 654.4,588.1 654.7,583.9 655.0,585.7 655.3,585.0 655.6,584.5 655.9,584.8 656.2,586.9 656.5,583.9 656.8,587.1 657.1,584.1 657.4,585.9 657.7,584.4 658.0,585.9 658.3,586.0 658.6,587.0 658.9,586.7 659.2,585.6 659.5,588.8 659.8,586.5 660.1,586.5 660.4,588.8 660.7,586.7 661.0,588.1 661.3,586.1 661.6,587.7 661.9,585.6 662.2,586.7 662.5,586.4 662.8,586.2 663.1,588.3 663.4,584.5 663.7,584.1 664.0,586.6 664.3,585.3 664.6,586.6 664.9,585.5 665.2,584.3 665.5,588.0 665.8,583.7 666.1,584.4 666.4,584.5 666.7,588.8 667.0,589.1 667.3,585.0 667.6,588.4 667.9,586.1 668.2,586.6 668.5,587.8 668.8,584.1 669.1,588.4 669.4,588.3 669.7,588.0 670.0,584.8 670.3,588.3 670.6,588.4 670.9,588.2 671.2,587.0 671.5,584.0 671.8,587.6 672.1,585.1 672.4,587.8 672.7,585.3 673.0,584.7 673.3,584.8 673.6,584.3 673.9,584.7 674.2,589.0 674.5,587.3 674.8,587.0 675.1,585.3 675.4,587.7 675.7,587.0 676.0,590.4 676.3,588.6 676.6,589.0 676.9,588.6 677.2,590.3 677.5,586.4 677.8,588.8 678.1,587.2 678.4,589.1 678.7,588.3 679.0,586.9 679.3,587.0 679.6,586.7 679.9,585.7 680.2,584.8 680.5,584.5 680.8,587.1 681.1,585.4 681.4,585.0 681.7,584.4 682.0,588.0 682.3,584.6 682.6,587.6 682.9,588.7 683.2,585.7 683.5,586.9 683.8,584.2 684.1,589.3 684.4,585.2 684.7,587.3 685.0,587.5 685.3,588.7 685.6,586.2 685.9,587.0 686.2,588.8 686.5,588.2 686.8,585.3 687.1,587.4 687.4,588.4 687.7,585.1 688.0,587.9 688.3,587.8 688.6,588.1 688.9,587.0 689.2,586.1 689.5,587.0 689.8,586.5 690.1,587.9 690.4,587.8 690.7,589.4 691.0,586.1 691.3,586.2 691.6,586.1 691.9,586.5 692.2,585.5 692.5,585.9 692.8,585.9 693.1,588.0 693.4,587.0 693.7,586.5 694.0,588.3 694.3,587.7 694.6,587.2 694.9,586.1 695.2,588.1 695.5,589.7 695.8,586.8 696.1,586.3 696.4,589.1 696.7,589.2 697.0,589.5 697.3,588.4 697.6,586.4 697.9,585.3 698.2,589.0 698.5,588.5 698.8,586.9 699.1,586.8 699.4,589.4 699.7,588.8 700.0,588.5 700.3,586.2 700.6,588.3 700.9,588.4 701.2,586.3 701.5,588.5 701.8,585.6 702.1,589.6 702.4,589.9 702.7,585.3 703.0,585.7 703.3,587.0 703.6,585.7 703.9,587.4 704.2,586.6 704.5,587.0 704.8,586.1 705.1,588.3 705.4,588.4 705.7,585.7 706.0,589.8 706.3,585.9 706.6,586.6 706.9,588.5 707.2,585.6 707.5,586.7 707.8,585.4 708.1,586.3 708.4,587.2 708.7,586.4 709.0,589.9 709.3,586.2 709.6,586.8 709.9,586.4 710.2,586.6 710.5,585.3 710.8,585.0 711.1,586.8 711.4,583.8 711.7,583.7 712.0,587.1 712.3,584.7 712.6,587.0 712.9,588.4 713.2,588.5 713.5,588.8 713.8,588.5 714.1,589.6 714.4,588.7 714.7,589.0 715.0,589.0 715.3,589.8 715.6,585.9 715.9,585.7 716.2,587.5 716.5,585.5 716.8,585.0 717.1,585.5 717.4,588.9 717.7,588.7 718.0,587.0 718.3,584.9 718.6,587.8 718.9,586.7 719.2,586.7 719.5,588.9 719.8,588.3 720.1,588.0 720.4,587.8 720.7,589.7 721.0,587.9 721.3,588.1 721.6,586.8 721.9,587.9 722.2,589.3 722.5,588.9 722.8,590.1 723.1,588.5 723.4,588.9 723.7,586.8 724.0,585.7 724.3,589.5 724.6,587.8 724.9,587.6 725.2,588.4 725.5,589.2 725.8,588.2 726.1,588.8 726.4,586.8 726.7,585.2 727.0,588.6 727.3,586.5 727.6,587.6 727.9,586.5 728.2,584.9 728.5,587.9 728.8,589.3 729.1,589.7 729.4,587.6 729.7,586.8 730.0,588.4 730.3,585.5 730.6,586.6 730.9,589.5 731.2,585.9 731.5,588.2 731.8,585.9 732.1,586.1 732.4,585.0 732.7,588.3 733.0,585.8 733.3,585.8 733.6,586.0 733.9,587.6 734.2,588.4 734.5,589.3 734.8,587.6 735.1,589.6 735.4,587.8 735.7,589.0 736.0,586.0 736.3,588.4 736.6,586.9 736.9,588.7 737.2,587.9 737.5,590.6 737.8,586.7 738.1,588.0 738.4,588.3 738.7,587.6 739.0,588.8 739.3,588.4 739.6,589.3 739.9,587.3 740.2,587.8 740.5,588.4 740.8,588.2 741.1,587.3 741.4,589.2 741.7,586.4 742.0,586.2 742.3,586.5 742.6,586.0 742.9,586.9 743.2,589.1 743.5,585.6 743.8,587.6 744.1,585.8 744.4,587.1 744.7,586.2 745.0,586.6 745.3,588.7 745.6,589.7 745.9,588.4 746.2,585.6 746.5,590.1 746.8,588.6 747.1,586.0 747.4,586.1 747.7,586.8 748.0,586.2 748.3,588.9 748.6,588.9 748.9,590.0 749.2,589.9 749.5,587.0 749.8,588.1 750.1,586.8 750.4,588.4 750.7,589.4 751.0,587.8 751.3,586.1 751.6,586.7 751.9,589.5 752.2,587.7 752.5,588.8 752.8,589.5 753.1,587.3 753.4,586.7 753.7,588.9 754.0,587.2 754.3,588.9 754.6,586.7 754.9,587.0 755.2,586.0 755.5,588.1 755.8,588.3 756.1,585.7 756.4,588.4 756.7,587.6 757.0,590.4 757.3,587.0 757.6,588.8 757.9,587.6 758.2,586.7 758.5,588.2 758.8,588.6 759.1,586.4 759.4,586.0 759.7,589.6 760.0,587.4 760.3,588.8 760.6,587.6 760.9,589.3 761.2,589.8 761.5,588.3 761.8,590.0 762.1,587.9 762.4,589.5 762.7,589.5 763.0,587.7 763.3,586.5 763.6,590.0 763.9,585.5 764.2,588.2 764.5,586.5 764.8,588.4 765.1,587.4 765.4,587.1 765.7,587.3 766.0,585.2 766.3,586.7 766.6,589.4 766.9,585.9 767.2,587.4 767.5,587.3 767.8,590.4 768.1,585.4 768.4,587.1 768.7,590.7 769.0,587.5 769.3,589.6 769.6,590.5 769.9,590.7 770.2,591.0 770.5,590.0 770.8,588.7 771.1,591.7 771.4,588.5 771.7,587.6 772.0,589.2 772.3,586.3 772.6,587.7 772.9,587.0 773.2,589.1 773.5,587.8 773.8,590.2 774.1,587.2 774.4,586.9 774.7,589.6 775.0,589.5 775.3,590.2 775.6,590.0 775.9,589.5 776.2,588.5 776.5,587.1 776.8,589.2 777.1,589.0 777.4,588.1 777.7,587.0 778.0,586.8 778.3,590.1 778.6,587.7 778.9,588.5 779.2,589.4 779.5,588.2 779.8,591.0 780.1,589.3 780.4,587.8 780.7,587.2 781.0,587.0 781.3,589.0 781.6,590.0 781.9,589.3 782.2,588.4 782.5,588.4 782.8,587.6 783.1,588.4 783.4,590.0 783.7,590.1 784.0,589.4 784.3,589.2 784.6,587.3 784.9,586.3 785.2,588.5 785.5,587.0 785.8,588.3 786.1,589.2 786.4,589.6 786.7,590.6 787.0,590.8 787.3,591.4 787.6,588.1 787.9,588.9 788.2,591.3 788.5,590.3 788.8,587.8 789.1,589.6 789.4,588.9 789.7,589.6 790.0,589.8 790.3,589.8 790.6,589.8 790.9,588.3 791.2,588.8 791.5,587.9 791.8,588.5 792.1,587.2 792.4,587.7 792.7,588.6 793.0,587.9 793.3,589.0 793.6,586.1 793.9,588.0 794.2,587.4 794.5,591.4 794.8,586.7 795.1,591.2 795.4,587.0 795.7,590.2 796.0,590.2 796.3,586.7 796.6,590.7 796.9,588.6 797.2,589.6 797.5,589.9 797.8,586.2 798.1,589.0 798.4,590.5 798.7,587.6 799.0,590.2 799.3,590.8 799.6,590.5 799.9,590.6 800.2,587.5 800.5,589.4 800.8,591.3 801.1,587.1 801.4,588.3 801.7,589.4 802.0,590.9 802.3,588.5 802.6,588.3 802.9,588.7 803.2,590.3 803.5,589.5 803.8,587.8 804.1,591.6 804.4,591.4 804.7,591.8 805.0,590.8 805.3,589.6 805.6,590.4 805.9,588.7 806.2,589.1 806.5,591.0 806.8,592.9 807.1,592.0 807.4,590.7 807.7,590.1 808.0,590.9 808.3,592.0 808.6,592.7 808.9,590.6 809.2,592.5 809.5,587.3 809.8,588.2 810.1,590.7 810.4,590.5 810.7,588.5 811.0,591.1 811.3,590.5 811.6,591.4 811.9,587.4 812.2,588.6 812.5,590.4 812.8,589.4 813.1,588.7 813.4,588.8 813.7,591.5 814.0,587.4 814.3,589.1 814.6,589.9 814.9,587.1 815.2,587.9 815.5,591.4 815.8,589.9 816.1,591.5 816.4,588.2 816.7,589.4 817.0,589.1 817.3,591.3 817.6,590.4 817.9,588.2 818.2,590.5 818.5,589.8 818.8,588.8 819.1,589.6 819.4,591.2 819.7,591.4" fill="none" stroke="#800000" stroke-width="2.5" stroke-linejoin="round"/>
<path d="M958.1,308.1 958.4,310.5 958.7,309.7 959.0,310.1 959.3,305.3 959.6,310.0 959.9,306.8 960.2,306.1 960.5,301.8 960.8,307.0 961.1,308.4 961.4,306.2 961.7,305.7 962.0,305.6 962.3,302.9 962.6,307.0 962.9,305.1 963.2,306.2 963.5,307.5 963.8,304.8 964.1,304.5 964.4,304.3 964.7,307.7 965.0,305.7 965.3,303.6 965.6,302.5 965.9,300.8 966.2,304.8 966.5,302.7 966.8,298.6 967.1,301.5 967.4,304.2 967.7,300.0 968.0,303.3 968.3,300.7 968.6,298.5 968.9,298.8 969.2,303.5 969.5,303.9 969.8,301.1 970.1,301.0 970.4,297.8 970.7,303.8 971.0,299.2 971.3,303.6 971.6,301.9 971.9,302.7 972.2,301.3 972.5,303.3 972.8,299.4 973.1,302.4 973.4,299.5 973.7,302.3 974.0,301.8 974.3,298.7 974.6,303.1 974.9,298.2 975.2,297.1 975.5,301.5 975.8,300.9 976.1,297.9 976.4,296.3 976.7,299.2 977.0,295.6 977.3,300.0 977.6,295.9 977.9,295.8 978.2,294.4 978.5,295.7 978.8,295.2 979.1,296.1 979.4,298.0 979.7,296.5 980.0,299.4 980.3,293.6 980.6,298.6 980.9,291.2 981.2,293.6 981.5,290.8 981.8,292.1 982.1,290.1 982.4,294.2 982.7,292.2 983.0,292.6 983.3,289.5 983.6,296.8 983.9,295.3 984.2,295.4 984.5,292.9 984.8,291.8 985.1,297.0 985.4,295.1 985.7,295.7 986.0,295.5 986.3,296.3 986.6,296.3 986.9,291.5 987.2,293.8 987.5,291.1 987.8,290.1 988.1,289.3 988.4,291.3 988.7,289.4 989.0,289.0 989.3,290.4 989.6,290.3 989.9,286.7 990.2,291.5 990.5,285.8 990.8,287.3 991.1,291.3 991.4,287.1 991.7,287.3 992.0,291.3 992.3,286.2 992.6,288.6 992.9,289.2 993.2,292.1 993.5,287.2 993.8,288.7 994.1,288.2 994.4,286.5 994.7,284.6 995.0,291.9 995.3,290.5 995.6,289.5 995.9,287.9 996.2,289.2 996.5,286.6 996.8,290.2 997.1,283.9 997.4,285.5 997.7,285.0 998.0,284.0 998.3,285.1 998.6,284.6 998.9,286.5 999.2,284.0 999.5,287.0 999.8,286.4 1000.1,286.7 1000.4,289.5 1000.7,288.0 1001.0,286.8 1001.3,283.2 1001.6,287.8 1001.9,287.4 1002.2,281.9 1002.5,287.1 1002.8,287.2 1003.1,283.8 1003.4,285.3 1003.7,281.1 1004.0,285.6 1004.3,286.6 1004.6,282.9 1004.9,286.8 1005.2,282.5 1005.5,286.0 1005.8,284.2 1006.1,281.7 1006.4,285.4 1006.7,285.5 1007.0,284.6 1007.3,280.1 1007.6,279.5 1007.9,279.5 1008.2,278.7 1008.5,278.4 1008.8,284.3 1009.1,279.2 1009.4,276.8 1009.7,283.4 1010.0,280.4 1010.3,280.1 1010.6,280.0 1010.9,283.1 1011.2,278.4 1011.5,281.0 1011.8,282.6 1012.1,280.0 1012.4,277.1 1012.7,279.8 1013.0,277.7 1013.3,280.2 1013.6,283.5 1013.9,283.2 1014.2,277.0 1014.5,277.6 1014.8,278.3 1015.1,276.6 1015.4,276.2 1015.7,280.7 1016.0,280.7 1016.3,277.7 1016.6,274.4 1016.9,277.0 1017.2,280.2 1017.5,274.7 1017.8,278.4 1018.1,273.8 1018.4,278.2 1018.7,275.6 1019.0,278.5 1019.3,276.0 1019.6,273.2 1019.9,277.4 1020.2,279.1 1020.5,276.7 1020.8,276.9 1021.1,274.1 1021.4,279.3 1021.7,273.5 1022.0,275.2 1022.3,271.1 1022.6,278.7 1022.9,277.9 1023.2,271.4 1023.5,271.1 1023.8,273.0 1024.1,273.9 1024.4,273.4 1024.7,272.9 1025.0,273.9 1025.3,273.2 1025.6,274.5 1025.9,274.7 1026.2,273.8 1026.5,274.5 1026.8,274.1 1027.1,272.4 1027.4,268.9 1027.7,268.7 1028.0,274.9 1028.3,272.6 1028.6,268.9 1028.9,268.7 1029.2,267.4 1029.5,269.6 1029.8,267.8 1030.1,270.0 1030.4,269.8 1030.7,271.7 1031.0,265.6 1031.3,265.0 1031.6,266.1 1031.9,265.8 1032.2,263.7 1032.5,268.5 1032.8,264.5 1033.1,268.2 1033.4,267.0 1033.7,269.9 1034.0,262.2 1034.3,264.2 1034.6,263.1 1034.9,268.1 1035.2,263.8 1035.5,264.1 1035.8,259.6 1036.1,258.1 1036.4,264.2 1036.7,261.6 1037.0,255.7 1037.3,261.2 1037.6,257.6 1037.9,261.4 1038.2,256.6 1038.5,255.7 1038.8,253.6 1039.1,252.2 1039.4,251.0 1039.7,252.6 1040.0,250.1 1040.3,253.2 1040.6,248.3 1040.9,248.3 1041.2,248.1 1041.5,247.1 1041.8,246.2 1042.1,243.0 1042.4,241.4 1042.7,242.9 1043.0,237.9 1043.3,236.5 1043.6,238.4 1043.9,230.6 1044.2,230.6 1044.5,228.6 1044.8,224.3 1045.1,223.4 1045.4,219.4 1045.7,223.3 1046.0,219.4 1046.3,214.1 1046.6,207.7 1046.9,201.1 1047.2,201.4 1047.5,193.9 1047.8,191.2 1048.1,184.1 1048.4,177.6 1048.7,172.5 1049.0,173.1 1049.3,165.1 1049.6,166.1 1049.9,156.2 1050.2,150.8 1050.5,146.3 1050.8,131.7 1051.1,117.8 1051.4,105.7 1051.7,90.6 1052.0,87.2 1052.3,87.1 1052.6,91.3 1052.9,106.0 1053.2,115.9 1053.5,130.5 1053.8,142.4 1054.1,153.3 1054.4,161.3 1054.7,168.0 1055.0,175.4 1055.3,188.5 1055.6,189.7 1055.9,195.7 1056.2,199.8 1056.5,208.3 1056.8,210.2 1057.1,209.9 1057.4,218.2 1057.7,218.8 1058.0,222.9 1058.3,226.9 1058.6,226.6 1058.9,228.5 1059.2,227.3 1059.5,233.9 1059.8,232.5 1060.1,231.9 1060.4,236.8 1060.7,237.4 1061.0,238.7 1061.3,240.1 1061.6,242.3 1061.9,243.9 1062.2,247.3 1062.5,242.8 1062.8,244.4 1063.1,242.8 1063.4,246.0 1063.7,245.2 1064.0,247.9 1064.3,245.8 1064.6,251.7 1064.9,249.9 1065.2,249.0 1065.5,251.0 1065.8,248.7 1066.1,249.3 1066.4,245.8 1066.7,250.5 1067.0,247.2 1067.3,245.4 1067.6,249.9 1067.9,248.7 1068.2,252.5 1068.5,249.6 1068.8,255.5 1069.1,251.7 1069.4,255.5 1069.7,255.7 1070.0,251.6 1070.3,248.9 1070.6,248.5 1070.9,254.5 1071.2,255.4 1071.5,251.4 1071.8,252.7 1072.1,250.1 1072.4,249.9 1072.7,252.1 1073.0,256.1 1073.3,252.0 1073.6,247.9 1073.9,252.9 1074.2,250.9 1074.5,247.9 1074.8,248.3 1075.1,248.5 1075.4,249.6 1075.7,250.6 1076.0,250.8 1076.3,251.8 1076.6,250.4 1076.9,253.9 1077.2,249.0 1077.5,249.7 1077.8,251.9 1078.1,251.0 1078.4,250.7 1078.7,252.8 1079.0,251.4 1079.3,252.4 1079.6,248.5 1079.9,250.6 1080.2,245.2 1080.5,251.4 1080.8,251.5 1081.1,245.7 1081.4,250.2 1081.7,251.2 1082.0,251.5 1082.3,247.9 1082.6,253.6 1082.9,247.2 1083.2,245.2 1083.5,246.4 1083.8,249.2 1084.1,245.9 1084.4,249.8 1084.7,243.2 1085.0,249.5 1085.3,245.5 1085.6,245.5 1085.9,248.2 1086.2,246.0 1086.5,250.0 1086.8,251.2 1087.1,250.5 1087.4,245.7 1087.7,245.4 1088.0,240.1 1088.3,237.2 1088.6,237.5 1088.9,236.8 1089.2,233.0 1089.5,235.8 1089.8,230.1 1090.1,225.6 1090.4,225.6 1090.7,220.5 1091.0,216.9 1091.3,213.6 1091.6,210.3 1091.9,212.4 1092.2,211.6 1092.5,207.1 1092.8,202.2 1093.1,202.8 1093.4,196.2 1093.7,192.3 1094.0,187.6 1094.3,182.9 1094.6,184.2 1094.9,181.0 1095.2,187.8 1095.5,186.2 1095.8,192.1 1096.1,194.5 1096.4,203.8 1096.7,203.0 1097.0,208.9 1097.3,216.9 1097.6,215.5 1097.9,216.6 1098.2,216.9 1098.5,222.8 1098.8,224.0 1099.1,221.6 1099.4,225.8 1099.7,231.5 1100.0,227.9 1100.3,231.9 1100.6,234.8 1100.9,231.8 1101.2,229.3 1101.5,230.9 1101.8,237.6 1102.1,228.4 1102.4,229.8 1102.7,235.0 1103.0,231.9 1103.3,239.2 1103.6,233.8 1103.9,237.8 1104.2,233.9 1104.5,233.0 1104.8,233.3 1105.1,240.7 1105.4,235.0 1105.7,242.4 1106.0,242.6 1106.3,237.0 1106.6,237.9 1106.9,243.6 1107.2,244.8 1107.5,240.4 1107.8,240.9 1108.1,236.6 1108.4,240.0 1108.7,241.7 1109.0,235.8 1109.3,243.5 1109.6,236.9 1109.9,244.1 1110.2,237.1 1110.5,236.6 1110.8,241.9 1111.1,243.9 1111.4,244.6 1111.7,239.4 1112.0,238.8 1112.3,238.6 1112.6,239.0 1112.9,240.2 1113.2,241.2 1113.5,247.5 1113.8,245.1 1114.1,246.6 1114.4,241.2 1114.7,242.0 1115.0,238.2 1115.3,238.9 1115.6,238.2 1115.9,240.7 1116.2,244.5 1116.5,241.6 1116.8,247.3 1117.1,241.2 1117.4,240.6 1117.7,243.4 1118.0,247.4 1118.3,247.8 1118.6,242.9 1118.9,243.8 1119.2,245.9 1119.5,242.7 1119.8,246.1 1120.1,240.0 1120.4,239.9 1120.7,240.7 1121.0,239.6 1121.3,246.3 1121.6,244.1 1121.9,249.2 1122.2,242.7 1122.5,241.3 1122.8,242.4 1123.1,239.7 1123.4,244.1 1123.7,246.4 1124.0,238.9 1124.3,243.3 1124.6,246.1 1124.9,243.1 1125.2,245.2 1125.5,247.2 1125.8,243.5 1126.1,243.4 1126.4,245.6 1126.7,245.4 1127.0,250.0 1127.3,243.8 1127.6,246.1 1127.9,247.4 1128.2,244.0 1128.5,249.0 1128.8,244.8 1129.1,247.2 1129.4,247.5 1129.7,243.1 1130.0,239.9 1130.3,241.2 1130.6,243.7 1130.9,242.8 1131.2,237.4 1131.5,237.4 1131.8,237.2 1132.1,237.5 1132.4,239.8 1132.7,235.3 1133.0,239.4 1133.3,241.2 1133.6,240.6 1133.9,240.1 1134.2,241.5 1134.5,239.7 1134.8,245.3 1135.1,239.1 1135.4,237.1 1135.7,236.9 1136.0,236.4 1136.3,237.9 1136.6,239.1 1136.9,239.4 1137.2,237.3 1137.5,234.9 1137.8,233.4 1138.1,237.4 1138.4,239.6 1138.7,235.4 1139.0,231.9 1139.3,236.8 1139.6,233.5 1139.9,230.6 1140.2,227.2 1140.5,227.1 1140.8,230.6 1141.1,229.0 1141.4,225.5 1141.7,225.1 1142.0,225.0 1142.3,226.0 1142.6,221.8 1142.9,219.8 1143.2,222.4 1143.5,221.3 1143.8,218.2 1144.1,219.5 1144.4,219.1 1144.7,220.0 1145.0,212.7 1145.3,217.8 1145.6,217.5 1145.9,215.6 1146.2,216.5 1146.5,211.4 1146.8,208.7 1147.1,207.9 1147.4,211.4 1147.7,204.3 1148.0,204.7 1148.3,207.7 1148.6,205.8 1148.9,204.2 1149.2,202.6 1149.5,204.6 1149.8,199.6 1150.1,202.9 1150.4,203.8 1150.7,196.8 1151.0,200.4 1151.3,194.4 1151.6,198.0 1151.9,201.8 1152.2,202.0 1152.5,201.9 1152.8,201.9 1153.1,200.4 1153.4,196.6 1153.7,200.0 1154.0,199.7 1154.3,194.7 1154.6,197.6 1154.9,202.4 1155.2,194.0 1155.5,202.1 1155.8,193.1 1156.1,198.7 1156.4,201.7 1156.7,196.3 1157.0,198.2 1157.3,194.2 1157.6,199.8 1157.9,200.4 1158.2,195.9 1158.5,196.8 1158.8,196.7 1159.1,194.2 1159.4,196.3 1159.7,192.3 1160.0,197.4 1160.3,194.8 1160.6,189.0 1160.9,192.1 1161.2,192.4 1161.5,189.9 1161.8,192.6 1162.1,189.5 1162.4,192.3 1162.7,191.9 1163.0,196.5 1163.3,194.7 1163.6,194.7 1163.9,195.1 1164.2,194.8 1164.5,189.9 1164.8,189.4 1165.1,191.6 1165.4,193.0 1165.7,188.4 1166.0,193.8 1166.3,197.9 1166.6,192.7 1166.9,193.0 1167.2,191.4 1167.5,198.3 1167.8,191.4 1168.1,199.3 1168.4,197.7 1168.7,194.7 1169.0,199.7 1169.3,197.0 1169.6,194.4 1169.9,195.1 1170.2,198.2 1170.5,197.3 1170.8,194.2 1171.1,198.6 1171.4,196.8 1171.7,193.1 1172.0,200.1 1172.3,199.6 1172.6,202.9 1172.9,201.2 1173.2,198.4 1173.5,199.8 1173.8,198.9 1174.1,202.5 1174.4,200.2 1174.7,199.2 1175.0,199.9 1175.3,202.1 1175.6,196.0 1175.9,201.3 1176.2,200.5 1176.5,201.0 1176.8,201.0 1177.1,198.6 1177.4,199.5 1177.7,195.4 1178.0,197.6 1178.3,199.8 1178.6,198.7 1178.9,203.2 1179.2,199.9 1179.5,199.9 1179.8,203.1 1180.1,195.1 1180.4,203.8 1180.7,201.2 1181.0,196.1 1181.3,197.5 1181.6,202.4 1181.9,194.7 1182.2,199.4 1182.5,199.4 1182.8,197.5 1183.1,196.0 1183.4,200.6 1183.7,201.4 1184.0,197.6 1184.3,196.6 1184.6,194.4 1184.9,193.9 1185.2,197.6 1185.5,199.3 1185.8,194.7 1186.1,192.8 1186.4,193.3 1186.7,201.2 1187.0,200.3 1187.3,199.0 1187.6,195.2 1187.9,194.3 1188.2,194.0 1188.5,198.3 1188.8,194.0 1189.1,189.4 1189.4,198.8 1189.7,191.6 1190.0,190.9 1190.3,190.5 1190.6,193.6 1190.9,195.5 1191.2,191.2 1191.5,188.7 1191.8,195.1 1192.1,188.6 1192.4,192.2 1192.7,194.9 1193.0,187.5 1193.3,187.3 1193.6,192.3 1193.9,186.2 1194.2,190.1 1194.5,184.1 1194.8,184.4 1195.1,186.5 1195.4,186.8 1195.7,182.8 1196.0,180.8 1196.3,182.8 1196.6,186.9 1196.9,187.5 1197.2,182.9 1197.5,188.3 1197.8,183.9 1198.1,182.4 1198.4,179.1 1198.7,180.7 1199.0,185.0 1199.3,185.2 1199.6,185.8 1199.9,175.4 1200.2,182.6 1200.5,182.1 1200.8,178.6 1201.1,183.2 1201.4,178.3 1201.7,177.5 1202.0,177.6 1202.3,177.2 1202.6,178.7 1202.9,179.1 1203.2,174.8 1203.5,176.3 1203.8,176.4 1204.1,177.6 1204.4,180.0 1204.7,178.2 1205.0,181.5 1205.3,182.1 1205.6,181.0 1205.9,179.5 1206.2,182.4 1206.5,179.6 1206.8,179.5 1207.1,177.1 1207.4,177.6 1207.7,176.5 1208.0,177.8 1208.3,177.5 1208.6,171.7 1208.9,180.0 1209.2,172.1 1209.5,177.7 1209.8,176.5 1210.1,171.8 1210.4,175.9 1210.7,175.8 1211.0,175.0 1211.3,177.2 1211.6,171.9 1211.9,174.4 1212.2,173.8 1212.5,176.2 1212.8,175.1 1213.1,173.6 1213.4,168.0 1213.7,171.3 1214.0,171.5 1214.3,167.0 1214.6,171.0 1214.9,163.8 1215.2,163.0 1215.5,163.4 1215.8,162.4 1216.1,154.4 1216.4,145.7 1216.7,151.4 1217.0,146.2 1217.3,142.5 1217.6,141.8 1217.9,132.6 1218.2,131.8 1218.5,127.4 1218.8,121.2 1219.1,113.6 1219.4,103.0 1219.7,94.3 1220.0,86.8 1220.3,79.6 1220.6,78.3 1220.9,66.1 1221.2,59.7 1221.5,58.0 1221.8,53.3 1222.1,52.7 1222.4,60.5 1222.7,60.4 1223.0,68.5 1223.3,72.8 1223.6,82.3 1223.9,88.0 1224.2,89.0 1224.5,95.6 1224.8,102.0 1225.1,111.0 1225.4,116.9 1225.7,127.1 1226.0,129.3 1226.3,130.4 1226.6,138.3 1226.9,138.2 1227.2,141.6 1227.5,139.6 1227.8,149.4 1228.1,147.3 1228.4,148.4 1228.7,152.3 1229.0,149.5 1229.3,151.8 1229.6,156.5 1229.9,153.3 1230.2,157.4 1230.5,159.1 1230.8,158.9 1231.1,160.5 1231.4,157.6 1231.7,165.8 1232.0,164.5 1232.3,161.5 1232.6,164.7 1232.9,167.4 1233.2,162.0 1233.5,164.0 1233.8,162.9 1234.1,164.4 1234.4,171.4 1234.7,170.0 1235.0,167.2 1235.3,167.0 1235.6,168.9 1235.9,172.3 1236.2,172.0 1236.5,172.9 1236.8,172.8 1237.1,173.2 1237.4,174.1 1237.7,174.3 1238.0,177.8 1238.3,168.3 1238.6,176.3 1238.9,173.5 1239.2,170.8 1239.5,175.1 1239.8,174.2 1240.1,176.6 1240.4,176.2 1240.7,175.8 1241.0,175.4 1241.3,172.4 1241.6,179.8 1241.9,175.5 1242.2,177.5 1242.5,175.3 1242.8,174.4 1243.1,173.1 1243.4,178.2 1243.7,180.6 1244.0,183.2 1244.3,179.6 1244.6,180.1 1244.9,180.5 1245.2,174.4 1245.5,180.6 1245.8,177.1 1246.1,180.2 1246.4,175.5 1246.7,179.0 1247.0,172.9 1247.3,179.1 1247.6,174.6 1247.9,183.2 1248.2,179.2 1248.5,179.7 1248.8,183.4 1249.1,181.7 1249.4,183.9 1249.7,183.4 1250.0,178.6 1250.3,184.0 1250.6,177.8 1250.9,179.5 1251.2,182.8 1251.5,179.9 1251.8,178.7 1252.1,180.3 1252.4,176.5 1252.7,182.8 1253.0,181.0 1253.3,178.9 1253.6,180.2 1253.9,178.4 1254.2,178.4 1254.5,180.4 1254.8,180.9 1255.1,179.2 1255.4,179.5 1255.7,181.4 1256.0,175.1 1256.3,182.4 1256.6,175.8 1256.9,182.7 1257.2,179.7 1257.5,175.0 1257.8,177.2 1258.1,178.3 1258.4,176.3 1258.7,174.0 1259.0,179.7 1259.3,181.6 1259.6,180.0 1259.9,178.3 1260.2,182.9 1260.5,176.9 1260.8,183.6 1261.1,184.2 1261.4,183.6 1261.7,180.5 1262.0,179.7 1262.3,179.8 1262.6,180.9 1262.9,179.2 1263.2,176.7 1263.5,172.8 1263.8,171.6 1264.1,171.8 1264.4,169.0 1264.7,168.5 1265.0,168.0 1265.3,164.7 1265.6,167.1 1265.9,160.4 1266.2,161.7 1266.5,161.9 1266.8,158.0 1267.1,160.1 1267.4,156.0 1267.7,154.6 1268.0,159.9 1268.3,156.3 1268.6,154.2 1268.9,152.7 1269.2,151.5 1269.5,150.4 1269.8,152.8 1270.1,149.5 1270.4,146.0 1270.7,146.3 1271.0,143.0 1271.3,150.8 1271.6,146.8 1271.9,146.7 1272.2,142.0 1272.5,145.5 1272.8,151.3 1273.1,152.1 1273.4,151.7 1273.7,151.5 1274.0,152.2 1274.3,155.8 1274.6,154.2 1274.9,155.9 1275.2,157.8 1275.5,160.1 1275.8,153.1 1276.1,158.2 1276.4,158.8 1276.7,159.1 1277.0,159.6 1277.3,159.0 1277.6,161.1 1277.9,154.3 1278.2,157.3 1278.5,161.8 1278.8,161.8 1279.1,162.3 1279.4,163.2 1279.7,156.5 1280.0,163.1 1280.3,156.7 1280.6,158.0 1280.9,154.9 1281.2,162.2 1281.5,157.0 1281.8,162.2 1282.1,155.2 1282.4,156.5 1282.7,158.8 1283.0,157.9 1283.3,160.0 1283.6,159.9 1283.9,155.7 1284.2,158.0 1284.5,157.3 1284.8,159.6 1285.1,159.1 1285.4,164.2 1285.7,160.5 1286.0,164.4 1286.3,156.3 1286.6,161.6 1286.9,160.9 1287.2,167.3 1287.5,159.6 1287.8,156.4 1288.1,162.6 1288.4,158.9 1288.7,160.4 1289.0,163.3 1289.3,159.6 1289.6,157.4 1289.9,162.3 1290.2,166.4 1290.5,162.4 1290.8,164.3 1291.1,160.3 1291.4,159.4 1291.7,165.6 1292.0,165.0 1292.3,161.0 1292.6,161.2 1292.9,157.7 1293.2,161.5 1293.5,155.4 1293.8,157.5 1294.1,159.1 1294.4,159.4 1294.7,157.9 1295.0,152.0 1295.3,156.7 1295.6,153.3 1295.9,149.9 1296.2,151.3 1296.5,152.6 1296.8,151.1 1297.1,147.5 1297.4,147.5 1297.7,143.3 1298.0,135.0 1298.3,135.3 1298.6,123.0 1298.9,125.0 1299.2,122.6 1299.5,119.7 1299.8,113.1 1300.1,106.5 1300.4,102.8 1300.7,100.3 1301.0,99.1 1301.3,102.0 1301.6,104.6 1301.9,107.2 1302.2,109.7 1302.5,121.2 1302.8,120.5 1303.1,122.2 1303.4,121.5 1303.7,129.1 1304.0,128.1 1304.3,126.3 1304.6,124.8 1304.9,130.3 1305.2,131.2 1305.5,127.6 1305.8,128.3 1306.1,131.7 1306.4,127.5 1306.7,132.2 1307.0,133.3 1307.3,127.3 1307.6,133.9 1307.9,126.3 1308.2,131.2 1308.5,124.4 1308.8,130.0 1309.1,124.8 1309.4,126.7 1309.7,119.8 1310.0,121.8 1310.3,117.8 1310.6,119.0 1310.9,113.5 1311.2,113.2 1311.5,112.1 1311.8,112.6 1312.1,106.2 1312.4,112.0 1312.7,107.3 1313.0,104.1 1313.3,100.4 1313.6,95.6 1313.9,94.0 1314.2,95.6 1314.5,92.7 1314.8,94.1 1315.1,92.7 1315.4,87.9 1315.7,90.9 1316.0,83.3 1316.3,88.6 1316.6,80.0 1316.9,84.8 1317.2,81.6 1317.5,73.7 1317.8,73.2 1318.1,75.8 1318.4,74.5 1318.7,71.7 1319.0,67.3 1319.3,67.0 1319.6,63.2 1319.9,65.2 1320.2,57.3 1320.5,63.8 1320.8,58.8 1321.1,54.3 1321.4,51.9 1321.7,49.2 1322.0,48.8 1322.3,42.4 1322.6,42.8 1322.9,41.3 1323.2,40.4 1323.5,37.6 1323.8,40.4 1324.1,31.9 1324.4,33.9 1324.7,30.8 1325.0,29.9 1325.3,27.0 1325.6,29.5 1325.9,18.9 1326.2,21.1 1326.5,25.2 1326.8,17.8 1327.1,24.0 1327.4,20.0 1327.7,24.7 1328.0,21.5 1328.3,22.6 1328.6,26.4 1328.9,22.8 1329.2,25.1 1329.5,26.7 1329.8,27.6 1330.1,23.7 1330.4,26.2 1330.7,28.1 1331.0,24.8 1331.3,21.0 1331.6,20.9 1331.9,23.8 1332.2,24.0 1332.5,19.4 1332.8,26.7 1333.1,26.6 1333.4,26.0 1333.7,26.9 1334.0,28.0 1334.3,33.1 1334.6,31.0 1334.9,36.4 1335.2,37.1 1335.5,33.8 1335.8,40.0 1336.1,43.7 1336.4,49.6 1336.7,42.1 1337.0,51.4 1337.3,47.4 1337.6,53.4 1337.9,56.5 1338.2,52.0 1338.5,66.0 1338.8,58.9 1339.1,66.4 1339.4,64.4 1339.7,72.4 1340.0,74.1 1340.3,71.7 1340.6,75.5 1340.9,79.6 1341.2,85.0 1341.5,80.9 1341.8,85.7 1342.1,94.7 1342.4,95.8 1342.7,99.9 1343.0,97.3 1343.3,103.8 1343.6,104.2 1343.9,104.5 1344.2,109.8 1344.5,110.8 1344.8,117.1 1345.1,116.8 1345.4,122.2 1345.7,125.9 1346.0,125.7 1346.3,130.2 1346.6,131.8 1346.9,135.0 1347.2,138.9 1347.5,135.0 1347.8,139.9 1348.1,134.7 1348.4,144.6 1348.7,144.9 1349.0,146.6 1349.3,150.0 1349.6,148.6 1349.9,151.0 1350.2,153.1 1350.5,156.3 1350.8,162.0 1351.1,156.1 1351.4,161.7 1351.7,164.2 1352.0,166.3 1352.3,166.8 1352.6,170.3 1352.9,167.5 1353.2,175.9 1353.5,171.7 1353.8,177.5 1354.1,175.3 1354.4,176.3 1354.7,178.9 1355.0,182.0 1355.3,179.7 1355.6,182.3 1355.9,183.9 1356.2,185.7 1356.5,185.5 1356.8,192.3 1357.1,188.2 1357.4,191.7 1357.7,193.5 1358.0,189.2 1358.3,191.7 1358.6,192.7 1358.9,197.6 1359.2,194.7 1359.5,198.9 1359.8,198.8 1360.1,201.5 1360.4,199.3 1360.7,200.2 1361.0,197.7 1361.3,199.9 1361.6,200.3 1361.9,202.6 1362.2,197.4 1362.5,202.1 1362.8,206.5 1363.1,206.6 1363.4,204.7 1363.7,204.2 1364.0,210.4 1364.3,206.9 1364.6,206.1 1364.9,208.0 1365.2,207.1 1365.5,212.2 1365.8,213.0 1366.1,209.4 1366.4,215.5 1366.7,213.2 1367.0,213.5 1367.3,209.2 1367.6,208.0 1367.9,212.2 1368.2,215.6 1368.5,212.5 1368.8,212.7 1369.1,214.6 1369.4,214.3 1369.7,220.6 1370.0,218.4 1370.3,217.6 1370.6,214.4 1370.9,219.7 1371.2,216.2 1371.5,221.3 1371.8,216.2 1372.1,222.1 1372.4,226.1 1372.7,225.4 1373.0,221.4 1373.3,223.0 1373.6,219.4 1373.9,219.2 1374.2,225.7 1374.5,223.5 1374.8,228.4 1375.1,226.6 1375.4,226.7 1375.7,221.8 1376.0,226.4 1376.3,220.3 1376.6,222.6 1376.9,224.3 1377.2,224.9 1377.5,222.2 1377.8,226.3 1378.1,221.8 1378.4,224.1 1378.7,223.5 1379.0,227.1 1379.3,223.2 1379.6,227.2 1379.9,231.4 1380.2,227.4 1380.5,229.4 1380.8,228.7 1381.1,232.5 1381.4,225.5 1381.7,224.6 1382.0,232.5 1382.3,229.1 1382.6,231.7 1382.9,228.5 1383.2,224.6 1383.5,226.4 1383.8,228.4 1384.1,226.0 1384.4,227.2 1384.7,224.5 1385.0,224.4 1385.3,230.8 1385.6,226.1 1385.9,230.4 1386.2,230.9 1386.5,229.8 1386.8,230.7 1387.1,232.4 1387.4,229.1 1387.7,233.1 1388.0,232.1 1388.3,234.4 1388.6,235.8 1388.9,229.4 1389.2,228.7 1389.5,234.4 1389.8,230.0 1390.1,233.5 1390.4,233.7 1390.7,228.8 1391.0,234.8 1391.3,235.4 1391.6,239.3 1391.9,235.9 1392.2,235.7 1392.5,236.0 1392.8,235.4 1393.1,230.8 1393.4,231.6 1393.7,232.4 1394.0,236.8 1394.3,231.4 1394.6,228.0 1394.9,236.5 1395.2,234.6 1395.5,240.0 1395.8,239.2 1396.1,239.9 1396.4,237.6 1396.7,238.7 1397.0,237.2 1397.3,231.6 1397.6,232.2 1397.9,238.9 1398.2,235.2 1398.5,239.2 1398.8,235.0 1399.1,238.8 1399.4,231.3 1399.7,237.9 1400.0,233.7 1400.3,238.6 1400.6,239.6 1400.9,237.2 1401.2,236.3 1401.5,234.6 1401.8,240.1 1402.1,235.5 1402.4,241.7 1402.7,241.0 1403.0,235.3 1403.3,240.3 1403.6,242.2 1403.9,236.8 1404.2,235.4 1404.5,238.1 1404.8,238.9 1405.1,238.5 1405.4,242.3 1405.7,238.7 1406.0,243.3 1406.3,240.5 1406.6,242.6 1406.9,236.4 1407.2,238.6 1407.5,243.0 1407.8,243.0 1408.1,239.3 1408.4,245.1 1408.7,237.4 1409.0,241.9 1409.3,243.9 1409.6,241.6 1409.9,240.1 1410.2,239.7 1410.5,241.5 1410.8,237.7 1411.1,241.9 1411.4,243.1 1411.7,244.5 1412.0,243.1 1412.3,243.3 1412.6,242.1 1412.9,244.5 1413.2,244.7 1413.5,246.4 1413.8,240.2 1414.1,242.3 1414.4,246.2 1414.7,244.4 1415.0,245.6 1415.3,246.3 1415.6,245.9 1415.9,243.4 1416.2,240.8 1416.5,240.2 1416.8,240.5 1417.1,248.8 1417.4,246.8 1417.7,241.5 1418.0,245.2 1418.3,242.4 1418.6,245.1 1418.9,244.7 1419.2,250.3 1419.5,247.2 1419.8,242.0 1420.1,244.5 1420.4,246.5 1420.7,242.9 1421.0,241.9 1421.3,244.9 1421.6,247.1 1421.9,244.5 1422.2,250.2 1422.5,242.6 1422.8,251.8 1423.1,246.3 1423.4,245.1 1423.7,245.6 1424.0,249.1 1424.3,244.2 1424.6,247.9 1424.9,247.0 1425.2,245.9 1425.5,246.4 1425.8,246.0 1426.1,245.6 1426.4,249.8 1426.7,250.1 1427.0,245.4 1427.3,249.3 1427.6,247.4 1427.9,244.1 1428.2,246.7 1428.5,241.8 1428.8,241.3 1429.1,241.8 1429.4,246.2 1429.7,246.0 1430.0,249.4 1430.3,249.3 1430.6,246.3 1430.9,243.0 1431.2,248.0 1431.5,241.7 1431.8,244.5 1432.1,251.1 1432.4,244.6 1432.7,248.9 1433.0,245.3 1433.3,248.4 1433.6,245.7 1433.9,241.9 1434.2,248.2 1434.5,247.4 1434.8,243.5 1435.1,244.7 1435.4,244.1 1435.7,243.5 1436.0,247.3 1436.3,247.5 1436.6,247.7 1436.9,244.6 1437.2,244.2 1437.5,247.0 1437.8,244.5 1438.1,243.9 1438.4,241.3 1438.7,239.6 1439.0,241.7 1439.3,239.8 1439.6,244.8 1439.9,245.7 1440.2,242.1 1440.5,246.6 1440.8,241.2 1441.1,244.1 1441.4,243.9 1441.7,247.7 1442.0,242.0 1442.3,247.9 1442.6,243.6 1442.9,240.7 1443.2,243.2 1443.5,243.6 1443.8,243.7 1444.1,244.1 1444.4,243.2 1444.7,243.1 1445.0,242.2 1445.3,239.4 1445.6,240.7 1445.9,239.7 1446.2,246.3 1446.5,241.7 1446.8,238.4 1447.1,236.9 1447.4,242.8 1447.7,238.1 1448.0,241.0 1448.3,245.2 1448.6,238.1 1448.9,239.6 1449.2,240.6 1449.5,242.1 1449.8,240.3 1450.1,243.5 1450.4,241.7 1450.7,239.5 1451.0,245.5 1451.3,237.6 1451.6,238.2 1451.9,245.0 1452.2,246.0 1452.5,243.2 1452.8,238.9 1453.1,244.4 1453.4,238.8 1453.7,245.2 1454.0,239.5 1454.3,240.8 1454.6,244.1 1454.9,241.6 1455.2,242.2 1455.5,243.9 1455.8,240.0 1456.1,243.5 1456.4,239.1 1456.7,238.1 1457.0,246.5 1457.3,239.7 1457.6,245.0 1457.9,239.7 1458.2,244.1 1458.5,246.8 1458.8,249.3 1459.1,244.3 1459.4,241.4 1459.7,247.4 1460.0,240.2 1460.3,240.6 1460.6,243.6 1460.9,246.1 1461.2,240.9 1461.5,238.9 1461.8,248.2 1462.1,248.0 1462.4,245.3 1462.7,244.7 1463.0,244.9 1463.3,240.7 1463.6,249.5 1463.9,242.4 1464.2,246.8 1464.5,245.7 1464.8,249.8 1465.1,247.1 1465.4,249.7 1465.7,245.5 1466.0,247.8 1466.3,245.7 1466.6,247.0 1466.9,243.9 1467.2,243.0 1467.5,243.6 1467.8,250.6 1468.1,250.0 1468.4,247.2 1468.7,251.9 1469.0,246.7 1469.3,249.0 1469.6,248.2 1469.9,255.6 1470.2,253.8 1470.5,249.1 1470.8,252.7 1471.1,251.0 1471.4,254.0 1471.7,251.2 1472.0,254.0 1472.3,250.2 1472.6,250.8 1472.9,252.0 1473.2,251.8 1473.5,251.5 1473.8,254.0 1474.1,253.5 1474.4,248.7 1474.7,251.6 1475.0,254.8 1475.3,253.1 1475.6,259.7 1475.9,254.6 1476.2,253.7 1476.5,254.1 1476.8,249.8 1477.1,253.3 1477.4,253.1 1477.7,252.5 1478.0,253.0 1478.3,253.0 1478.6,251.6 1478.9,250.4 1479.2,256.2 1479.5,256.4 1479.8,255.5 1480.1,247.3 1480.4,252.7 1480.7,257.2 1481.0,255.8 1481.3,252.6 1481.6,250.6 1481.9,252.4 1482.2,248.4 1482.5,251.0 1482.8,253.3 1483.1,248.0 1483.4,251.9 1483.7,254.5 1484.0,250.0 1484.3,252.7 1484.6,253.4 1484.9,248.2 1485.2,250.8 1485.5,253.1 1485.8,252.3 1486.1,253.7 1486.4,252.8 1486.7,254.7 1487.0,255.7 1487.3,255.3 1487.6,254.2 1487.9,252.8 1488.2,252.7 1488.5,252.4 1488.8,253.9 1489.1,255.9 1489.4,249.6 1489.7,253.1 1490.0,255.7 1490.3,251.9 1490.6,260.0 1490.9,250.5 1491.2,251.1 1491.5,252.8 1491.8,254.9 1492.1,255.3 1492.4,253.6 1492.7,254.6 1493.0,254.5 1493.3,254.8 1493.6,255.1 1493.9,252.4 1494.2,256.7 1494.5,252.0 1494.8,257.5 1495.1,255.2 1495.4,253.9 1495.7,255.9 1496.0,256.0 1496.3,251.4 1496.6,255.9 1496.9,258.2 1497.2,258.1 1497.5,255.7 1497.8,258.4 1498.1,262.8 1498.4,256.6 1498.7,261.0 1499.0,260.8 1499.3,259.6 1499.6,254.8 1499.9,253.3 1500.2,261.9 1500.5,252.2 1500.8,253.9 1501.1,253.6 1501.4,259.0 1501.7,256.5 1502.0,259.0 1502.3,261.6 1502.6,259.9 1502.9,256.2 1503.2,260.2 1503.5,262.1 1503.8,260.1 1504.1,257.4 1504.4,257.5 1504.7,261.5 1505.0,261.5 1505.3,257.4 1505.6,256.8 1505.9,257.0 1506.2,257.5 1506.5,262.2 1506.8,260.2 1507.1,256.4 1507.4,258.8 1507.7,256.7 1508.0,257.0 1508.3,257.2 1508.6,258.9 1508.9,259.6 1509.2,261.5 1509.5,253.8 1509.8,262.5 1510.1,257.3 1510.4,258.3 1510.7,258.6 1511.0,253.7 1511.3,263.6 1511.6,260.5 1511.9,256.5 1512.2,259.0 1512.5,262.0 1512.8,256.9 1513.1,254.2 1513.4,259.3 1513.7,254.5 1514.0,256.9 1514.3,255.5 1514.6,257.5 1514.9,258.5 1515.2,258.1 1515.5,257.3 1515.8,261.9 1516.1,255.5 1516.4,256.8 1516.7,260.8 1517.0,258.9 1517.3,259.7 1517.6,260.4 1517.9,261.9 1518.2,256.7 1518.5,255.6 1518.8,259.5 1519.1,258.4 1519.4,262.1 1519.7,262.5 1520.0,262.3 1520.3,263.8 1520.6,258.1 1520.9,255.6 1521.2,262.9 1521.5,264.4 1521.8,256.8 1522.1,256.8 1522.4,260.5 1522.7,261.6 1523.0,262.2 1523.3,254.7 1523.6,258.6 1523.9,259.3 1524.2,258.5 1524.5,259.7 1524.8,258.9 1525.1,257.2 1525.4,257.6 1525.7,258.8 1526.0,259.8 1526.3,265.5 1526.6,259.1 1526.9,264.4 1527.2,263.1 1527.5,257.2 1527.8,262.1 1528.1,262.0 1528.4,258.8 1528.7,263.8 1529.0,259.3 1529.3,263.7 1529.6,254.7 1529.9,261.5 1530.2,260.0 1530.5,259.0 1530.8,258.6 1531.1,256.7 1531.4,263.9 1531.7,262.5 1532.0,259.7 1532.3,257.6 1532.6,257.3 1532.9,258.5 1533.2,255.8 1533.5,261.8 1533.8,262.6 1534.1,262.3 1534.4,258.6 1534.7,257.1 1535.0,263.0 1535.3,264.4 1535.6,260.1 1535.9,258.2 1536.2,262.5 1536.5,264.1 1536.8,259.3 1537.1,259.0 1537.4,257.0 1537.7,262.9 1538.0,260.6 1538.3,262.6 1538.6,256.8 1538.9,262.0 1539.2,262.0 1539.5,263.6 1539.8,260.7 1540.1,262.2 1540.4,261.3 1540.7,258.6 1541.0,256.4 1541.3,256.4 1541.6,258.7 1541.9,261.0 1542.2,261.6 1542.5,259.6 1542.8,262.6 1543.1,260.7 1543.4,257.4 1543.7,261.5 1544.0,262.3 1544.3,261.4 1544.6,257.9 1544.9,260.5 1545.2,256.5 1545.5,252.3 1545.8,252.8 1546.1,255.2 1546.4,255.9 1546.7,254.6 1547.0,257.4 1547.3,259.0 1547.6,256.2 1547.9,258.8 1548.2,253.8 1548.5,252.3 1548.8,258.8 1549.1,254.9 1549.4,250.9 1549.7,253.3 1550.0,257.5 1550.3,259.3 1550.6,255.2 1550.9,254.8 1551.2,251.9 1551.5,251.9 1551.8,252.3 1552.1,253.2 1552.4,251.4 1552.7,253.2 1553.0,251.6 1553.3,251.3 1553.6,257.0 1553.9,252.9 1554.2,248.6 1554.5,249.5 1554.8,247.6 1555.1,247.8 1555.4,246.8 1555.7,248.0 1556.0,251.1 1556.3,253.1 1556.6,245.0 1556.9,245.9 1557.2,245.3 1557.5,245.7 1557.8,244.5 1558.1,242.2 1558.4,249.1 1558.7,246.5 1559.0,245.6 1559.3,243.5 1559.6,240.1 1559.9,243.0 1560.2,239.1 1560.5,244.6 1560.8,241.3 1561.1,241.1 1561.4,244.8 1561.7,242.9 1562.0,243.0 1562.3,244.4 1562.6,239.6 1562.9,242.7 1563.2,243.4 1563.5,240.1 1563.8,238.4 1564.1,244.0 1564.4,240.4 1564.7,242.3 1565.0,238.1 1565.3,240.8 1565.6,239.1 1565.9,240.4 1566.2,238.5 1566.5,237.5 1566.8,236.8 1567.1,233.4 1567.4,234.4 1567.7,238.2 1568.0,234.7 1568.3,241.2 1568.6,239.6 1568.9,240.0 1569.2,241.1 1569.5,238.0 1569.8,240.8 1570.1,243.1 1570.4,244.6 1570.7,241.3 1571.0,238.2 1571.3,240.1 1571.6,234.1 1571.9,237.2 1572.2,241.1 1572.5,236.6 1572.8,238.0 1573.1,233.1 1573.4,237.3 1573.7,236.2 1574.0,239.5 1574.3,235.5 1574.6,234.8 1574.9,235.3 1575.2,236.7 1575.5,239.3 1575.8,234.8 1576.1,231.4 1576.4,226.0 1576.7,227.5 1577.0,230.2 1577.3,226.7 1577.6,227.2 1577.9,226.6 1578.2,225.4 1578.5,226.5 1578.8,219.9 1579.1,220.6 1579.4,224.6 1579.7,223.3 1580.0,220.2 1580.3,222.7 1580.6,215.9 1580.9,221.9 1581.2,216.9 1581.5,223.3 1581.8,218.4 1582.1,220.9 1582.4,220.4 1582.7,225.9 1583.0,226.6 1583.3,224.5 1583.6,228.9 1583.9,232.3 1584.2,234.3 1584.5,228.5 1584.8,232.3 1585.1,237.8 1585.4,237.5 1585.7,241.4 1586.0,237.5 1586.3,241.2 1586.6,238.7 1586.9,237.2 1587.2,245.4 1587.5,238.6 1587.8,240.5 1588.1,241.8 1588.4,242.5 1588.7,247.3 1589.0,245.6 1589.3,242.2 1589.6,247.8 1589.9,244.0 1590.2,247.1 1590.5,246.0 1590.8,245.8 1591.1,248.9 1591.4,248.9 1591.7,246.1 1592.0,246.1 1592.3,248.6 1592.6,250.3 1592.9,251.3 1593.2,248.1 1593.5,246.9 1593.8,246.8 1594.1,250.9 1594.4,247.3 1594.7,249.8 1595.0,245.5 1595.3,249.8 1595.6,253.5 1595.9,251.3 1596.2,248.5 1596.5,251.6 1596.8,252.6 1597.1,249.7 1597.4,246.1 1597.7,252.5 1598.0,250.4 1598.3,250.3 1598.6,247.5 1598.9,246.7 1599.2,246.9 1599.5,248.8 1599.8,246.7 1600.1,253.6 1600.4,248.8 1600.7,247.6 1601.0,250.8 1601.3,248.6 1601.6,256.4 1601.9,253.0 1602.2,247.5 1602.5,246.4 1602.8,249.4 1603.1,252.6 1603.4,251.9 1603.7,252.5 1604.0,247.1 1604.3,247.6 1604.6,250.3 1604.9,252.5 1605.2,251.4 1605.5,254.6 1605.8,254.5 1606.1,255.1 1606.4,254.4 1606.7,254.1 1607.0,259.5 1607.3,253.0 1607.6,254.0 1607.9,258.7 1608.2,255.7 1608.5,258.7 1608.8,253.3 1609.1,255.2 1609.4,258.3 1609.7,256.3 1610.0,252.9 1610.3,251.5 1610.6,250.9 1610.9,244.2 1611.2,250.4 1611.5,250.5 1611.8,257.9 1612.1,253.3 1612.4,251.0 1612.7,253.5 1613.0,254.0 1613.3,250.6 1613.6,251.8 1613.9,252.9 1614.2,256.2 1614.5,254.9 1614.8,251.9 1615.1,253.3 1615.4,257.3 1615.7,255.8 1616.0,253.7 1616.3,260.9 1616.6,256.9 1616.9,258.4 1617.2,257.2 1617.5,256.7 1617.8,255.0 1618.1,254.0 1618.4,261.0 1618.7,254.1 1619.0,257.3 1619.3,258.5 1619.6,259.9 1619.9,256.0 1620.2,252.9 1620.5,259.3 1620.8,252.9 1621.1,250.9 1621.4,259.8 1621.7,256.6 1622.0,259.8 1622.3,252.2 1622.6,259.2 1622.9,263.3 1623.2,254.5 1623.5,258.0 1623.8,258.2 1624.1,254.9 1624.4,259.2 1624.7,254.2 1625.0,259.7 1625.3,256.5 1625.6,260.6 1625.9,258.1 1626.2,258.6 1626.5,257.5 1626.8,257.3 1627.1,256.3 1627.4,255.8 1627.7,258.7 1628.0,259.1 1628.3,255.6 1628.6,256.4 1628.9,257.4 1629.2,254.7 1629.5,257.3 1629.8,255.7 1630.1,263.1 1630.4,259.3 1630.7,255.1 1631.0,258.5 1631.3,254.2 1631.6,260.1 1631.9,261.6 1632.2,262.3 1632.5,260.0 1632.8,262.1 1633.1,258.1 1633.4,262.6 1633.7,262.1 1634.0,259.4 1634.3,257.6 1634.6,261.6 1634.9,257.2 1635.2,259.5 1635.5,262.1 1635.8,261.3 1636.1,255.6 1636.4,259.9 1636.7,256.4 1637.0,255.9 1637.3,260.5 1637.6,258.2 1637.9,259.9 1638.2,260.9 1638.5,261.0 1638.8,260.1 1639.1,255.5 1639.4,260.8 1639.7,261.2 1640.0,254.0 1640.3,254.4 1640.6,257.7 1640.9,260.9 1641.2,255.7 1641.5,263.8 1641.8,258.7 1642.1,258.1 1642.4,257.4 1642.7,263.6 1643.0,259.3 1643.3,262.5 1643.6,261.4 1643.9,261.4 1644.2,259.0 1644.5,255.1 1644.8,257.1 1645.1,258.6 1645.4,258.4 1645.7,261.8 1646.0,264.0 1646.3,261.9 1646.6,260.8 1646.9,260.5 1647.2,257.6 1647.5,261.8 1647.8,257.0 1648.1,258.6 1648.4,257.8 1648.7,258.0 1649.0,257.5 1649.3,260.4 1649.6,260.5 1649.9,260.8 1650.2,261.9 1650.5,258.9 1650.8,257.2 1651.1,257.6 1651.4,257.9 1651.7,257.9 1652.0,261.2 1652.3,260.1 1652.6,262.6 1652.9,260.0 1653.2,262.1 1653.5,258.9 1653.8,258.4 1654.1,262.6 1654.4,258.5 1654.7,260.5 1655.0,262.1 1655.3,260.1 1655.6,262.2 1655.9,263.0 1656.2,265.3 1656.5,262.8 1656.8,255.1 1657.1,263.6 1657.4,258.1 1657.7,258.9 1658.0,260.8 1658.3,258.1 1658.6,262.7 1658.9,259.9 1659.2,263.6 1659.5,258.1 1659.8,261.1 1660.1,265.8 1660.4,259.1 1660.7,257.7 1661.0,258.8 1661.3,262.6 1661.6,258.0 1661.9,259.7 1662.2,261.2 1662.5,260.5 1662.8,258.5 1663.1,256.8 1663.4,261.1 1663.7,256.5 1664.0,262.2 1664.3,256.7 1664.6,263.1 1664.9,258.1 1665.2,256.9 1665.5,262.7 1665.8,263.4 1666.1,262.8 1666.4,259.3 1666.7,258.9 1667.0,261.9 1667.3,261.9 1667.6,261.2 1667.9,258.4 1668.2,262.1 1668.5,255.2 1668.8,268.6 1669.1,261.9 1669.4,254.8 1669.7,259.4 1670.0,259.8 1670.3,261.5 1670.6,260.6 1670.9,261.8 1671.2,255.6 1671.5,257.7 1671.8,260.9 1672.1,261.1 1672.4,259.2 1672.7,258.7 1673.0,253.8 1673.3,259.6 1673.6,261.4 1673.9,258.7 1674.2,263.5 1674.5,258.8 1674.8,260.6 1675.1,259.7 1675.4,260.3 1675.7,265.5 1676.0,257.4 1676.3,257.5 1676.6,261.9 1676.9,256.8 1677.2,254.6 1677.5,262.8 1677.8,266.0 1678.1,259.0 1678.4,262.2 1678.7,261.0 1679.0,257.9 1679.3,258.0 1679.6,261.1 1679.9,262.6 1680.2,259.4 1680.5,267.8 1680.8,268.0 1681.1,265.8 1681.4,262.6 1681.7,266.4 1682.0,264.5 1682.3,260.0 1682.6,260.3 1682.9,260.8 1683.2,266.6 1683.5,259.9 1683.8,263.3 1684.1,262.6 1684.4,268.1 1684.7,262.4 1685.0,268.2 1685.3,263.2 1685.6,264.0 1685.9,267.4 1686.2,263.8 1686.5,262.7 1686.8,259.9 1687.1,262.8 1687.4,262.7 1687.7,267.4 1688.0,267.0 1688.3,264.4 1688.6,260.9 1688.9,260.1 1689.2,264.7 1689.5,266.2 1689.8,260.7 1690.1,263.3 1690.4,259.6 1690.7,260.4 1691.0,260.4 1691.3,264.3 1691.6,266.3 1691.9,264.9 1692.2,268.9 1692.5,261.2" fill="none" stroke="#008080" stroke-width="2.6" stroke-linejoin="round"/>
<path d="M958.1,359.9 958.4,363.5 958.7,362.9 959.0,361.6 959.3,358.9 959.6,364.8 959.9,363.9 960.2,360.9 960.5,365.6 960.8,364.7 961.1,356.2 961.4,358.8 961.7,361.4 962.0,364.0 962.3,362.2 962.6,355.3 962.9,363.7 963.2,359.5 963.5,356.6 963.8,358.8 964.1,364.5 964.4,359.5 964.7,361.1 965.0,359.7 965.3,364.5 965.6,366.1 965.9,357.0 966.2,358.3 966.5,365.1 966.8,362.0 967.1,362.3 967.4,364.7 967.7,367.2 968.0,365.3 968.3,367.0 968.6,358.8 968.9,361.8 969.2,363.1 969.5,363.0 969.8,359.0 970.1,368.1 970.4,371.2 970.7,363.8 971.0,365.4 971.3,358.2 971.6,364.7 971.9,361.4 972.2,364.7 972.5,359.1 972.8,366.0 973.1,366.0 973.4,366.2 973.7,365.2 974.0,369.1 974.3,361.8 974.6,366.9 974.9,363.2 975.2,362.8 975.5,371.9 975.8,367.8 976.1,364.2 976.4,361.7 976.7,367.4 977.0,361.2 977.3,368.4 977.6,363.9 977.9,368.8 978.2,365.8 978.5,368.1 978.8,361.7 979.1,364.1 979.4,370.0 979.7,372.0 980.0,366.6 980.3,364.3 980.6,361.6 980.9,360.4 981.2,367.6 981.5,369.2 981.8,366.0 982.1,366.1 982.4,365.7 982.7,365.2 983.0,368.0 983.3,364.8 983.6,365.4 983.9,369.4 984.2,371.4 984.5,364.0 984.8,366.9 985.1,371.1 985.4,366.5 985.7,368.2 986.0,362.6 986.3,369.9 986.6,367.4 986.9,362.1 987.2,370.1 987.5,368.8 987.8,364.6 988.1,364.8 988.4,363.9 988.7,367.3 989.0,361.4 989.3,364.8 989.6,366.7 989.9,367.1 990.2,367.4 990.5,367.5 990.8,366.8 991.1,370.5 991.4,367.6 991.7,367.9 992.0,370.3 992.3,365.6 992.6,371.9 992.9,370.9 993.2,370.2 993.5,365.9 993.8,367.1 994.1,372.1 994.4,361.3 994.7,369.7 995.0,364.9 995.3,365.8 995.6,362.0 995.9,364.8 996.2,366.9 996.5,372.7 996.8,370.0 997.1,370.0 997.4,370.7 997.7,370.6 998.0,364.6 998.3,366.0 998.6,369.9 998.9,367.3 999.2,367.0 999.5,363.3 999.8,367.7 1000.1,368.6 1000.4,369.3 1000.7,371.9 1001.0,375.6 1001.3,371.4 1001.6,367.0 1001.9,371.0 1002.2,376.2 1002.5,367.4 1002.8,377.9 1003.1,365.3 1003.4,367.5 1003.7,368.9 1004.0,364.3 1004.3,376.8 1004.6,368.3 1004.9,375.3 1005.2,369.6 1005.5,369.3 1005.8,371.9 1006.1,370.7 1006.4,375.3 1006.7,373.5 1007.0,369.2 1007.3,370.3 1007.6,367.0 1007.9,367.2 1008.2,364.5 1008.5,367.2 1008.8,371.1 1009.1,369.9 1009.4,369.4 1009.7,375.9 1010.0,367.3 1010.3,368.9 1010.6,370.7 1010.9,374.5 1011.2,375.2 1011.5,372.2 1011.8,371.8 1012.1,368.5 1012.4,378.5 1012.7,379.9 1013.0,371.5 1013.3,368.0 1013.6,380.3 1013.9,375.6 1014.2,372.1 1014.5,367.2 1014.8,371.1 1015.1,371.8 1015.4,374.3 1015.7,369.0 1016.0,371.6 1016.3,373.7 1016.6,377.1 1016.9,375.5 1017.2,372.2 1017.5,375.4 1017.8,378.6 1018.1,370.9 1018.4,367.1 1018.7,374.7 1019.0,369.7 1019.3,373.1 1019.6,370.7 1019.9,380.6 1020.2,375.3 1020.5,375.9 1020.8,373.8 1021.1,376.7 1021.4,378.7 1021.7,375.1 1022.0,378.6 1022.3,372.1 1022.6,372.3 1022.9,377.5 1023.2,377.8 1023.5,376.0 1023.8,379.7 1024.1,378.1 1024.4,370.8 1024.7,381.3 1025.0,383.7 1025.3,378.3 1025.6,383.2 1025.9,373.7 1026.2,372.8 1026.5,373.6 1026.8,377.0 1027.1,371.5 1027.4,381.3 1027.7,378.2 1028.0,380.3 1028.3,379.2 1028.6,373.3 1028.9,377.1 1029.2,376.2 1029.5,379.6 1029.8,378.6 1030.1,373.1 1030.4,375.6 1030.7,373.1 1031.0,383.9 1031.3,379.5 1031.6,380.4 1031.9,374.8 1032.2,380.7 1032.5,383.2 1032.8,375.9 1033.1,377.6 1033.4,381.8 1033.7,378.2 1034.0,377.0 1034.3,374.7 1034.6,379.3 1034.9,380.9 1035.2,376.1 1035.5,377.5 1035.8,384.0 1036.1,382.6 1036.4,382.9 1036.7,380.3 1037.0,376.2 1037.3,383.9 1037.6,375.5 1037.9,384.1 1038.2,378.3 1038.5,379.7 1038.8,378.7 1039.1,384.0 1039.4,377.2 1039.7,374.9 1040.0,380.4 1040.3,378.8 1040.6,379.7 1040.9,382.8 1041.2,376.6 1041.5,384.1 1041.8,384.6 1042.1,373.8 1042.4,379.3 1042.7,380.8 1043.0,380.7 1043.3,375.9 1043.6,376.7 1043.9,384.2 1044.2,374.2 1044.5,375.9 1044.8,378.9 1045.1,374.4 1045.4,377.2 1045.7,380.8 1046.0,380.3 1046.3,379.0 1046.6,376.0 1046.9,383.8 1047.2,376.5 1047.5,376.1 1047.8,383.7 1048.1,372.9 1048.4,380.2 1048.7,375.6 1049.0,380.2 1049.3,384.9 1049.6,385.1 1049.9,380.8 1050.2,386.1 1050.5,381.9 1050.8,386.7 1051.1,381.3 1051.4,380.3 1051.7,380.1 1052.0,374.7 1052.3,382.6 1052.6,379.2 1052.9,376.3 1053.2,383.1 1053.5,371.4 1053.8,376.2 1054.1,381.8 1054.4,380.6 1054.7,374.9 1055.0,375.0 1055.3,375.6 1055.6,376.8 1055.9,374.7 1056.2,376.1 1056.5,375.0 1056.8,384.6 1057.1,383.5 1057.4,379.9 1057.7,378.9 1058.0,385.0 1058.3,381.9 1058.6,375.3 1058.9,378.9 1059.2,384.7 1059.5,381.3 1059.8,378.4 1060.1,383.4 1060.4,382.2 1060.7,374.7 1061.0,372.1 1061.3,382.9 1061.6,376.1 1061.9,381.1 1062.2,379.8 1062.5,376.6 1062.8,383.8 1063.1,385.3 1063.4,383.0 1063.7,383.2 1064.0,381.7 1064.3,385.9 1064.6,378.8 1064.9,378.9 1065.2,386.4 1065.5,383.3 1065.8,378.9 1066.1,384.9 1066.4,378.2 1066.7,378.7 1067.0,384.9 1067.3,386.5 1067.6,381.1 1067.9,385.2 1068.2,378.8 1068.5,382.3 1068.8,382.0 1069.1,378.3 1069.4,382.9 1069.7,387.1 1070.0,380.3 1070.3,378.3 1070.6,384.4 1070.9,378.8 1071.2,378.9 1071.5,386.0 1071.8,384.0 1072.1,386.9 1072.4,378.2 1072.7,381.5 1073.0,375.1 1073.3,375.2 1073.6,384.5 1073.9,382.3 1074.2,378.0 1074.5,378.0 1074.8,387.6 1075.1,379.9 1075.4,380.3 1075.7,374.8 1076.0,384.1 1076.3,385.1 1076.6,385.2 1076.9,387.1 1077.2,386.7 1077.5,385.2 1077.8,383.7 1078.1,389.5 1078.4,380.4 1078.7,383.5 1079.0,391.7 1079.3,382.9 1079.6,388.0 1079.9,382.9 1080.2,380.3 1080.5,381.0 1080.8,384.7 1081.1,388.8 1081.4,383.5 1081.7,383.3 1082.0,384.9 1082.3,380.1 1082.6,386.2 1082.9,388.6 1083.2,383.4 1083.5,377.3 1083.8,381.3 1084.1,382.3 1084.4,379.9 1084.7,384.3 1085.0,383.7 1085.3,379.4 1085.6,381.3 1085.9,380.8 1086.2,390.0 1086.5,385.3 1086.8,384.2 1087.1,382.2 1087.4,377.8 1087.7,383.6 1088.0,379.2 1088.3,383.2 1088.6,387.7 1088.9,379.0 1089.2,379.3 1089.5,383.7 1089.8,386.2 1090.1,383.3 1090.4,388.9 1090.7,383.6 1091.0,382.8 1091.3,382.8 1091.6,376.4 1091.9,376.6 1092.2,385.6 1092.5,381.0 1092.8,387.4 1093.1,385.1 1093.4,386.3 1093.7,380.9 1094.0,384.4 1094.3,379.6 1094.6,385.0 1094.9,384.1 1095.2,389.6 1095.5,381.5 1095.8,387.2 1096.1,382.0 1096.4,385.3 1096.7,384.6 1097.0,386.9 1097.3,383.5 1097.6,383.9 1097.9,382.1 1098.2,389.7 1098.5,382.6 1098.8,380.2 1099.1,383.7 1099.4,384.5 1099.7,382.4 1100.0,390.7 1100.3,381.7 1100.6,383.6 1100.9,382.8 1101.2,383.5 1101.5,382.4 1101.8,379.9 1102.1,383.3 1102.4,390.7 1102.7,387.8 1103.0,382.4 1103.3,382.5 1103.6,388.8 1103.9,390.4 1104.2,388.4 1104.5,392.2 1104.8,381.7 1105.1,388.9 1105.4,391.2 1105.7,388.6 1106.0,393.8 1106.3,392.7 1106.6,388.3 1106.9,390.4 1107.2,384.7 1107.5,389.1 1107.8,386.5 1108.1,385.1 1108.4,384.1 1108.7,386.6 1109.0,381.7 1109.3,392.6 1109.6,388.8 1109.9,382.8 1110.2,384.4 1110.5,389.8 1110.8,381.9 1111.1,391.8 1111.4,383.5 1111.7,388.9 1112.0,382.6 1112.3,387.3 1112.6,381.6 1112.9,382.4 1113.2,388.7 1113.5,387.4 1113.8,391.1 1114.1,387.0 1114.4,379.3 1114.7,388.6 1115.0,385.5 1115.3,389.1 1115.6,381.5 1115.9,381.4 1116.2,382.2 1116.5,381.1 1116.8,383.7 1117.1,387.8 1117.4,390.7 1117.7,384.8 1118.0,389.6 1118.3,384.1 1118.6,378.7 1118.9,384.0 1119.2,384.6 1119.5,383.6 1119.8,387.2 1120.1,377.2 1120.4,378.2 1120.7,385.7 1121.0,377.8 1121.3,386.0 1121.6,378.3 1121.9,383.6 1122.2,378.7 1122.5,384.7 1122.8,386.5 1123.1,386.8 1123.4,384.7 1123.7,381.9 1124.0,378.7 1124.3,380.7 1124.6,385.6 1124.9,383.3 1125.2,382.5 1125.5,384.2 1125.8,383.8 1126.1,377.5 1126.4,382.5 1126.7,384.5 1127.0,383.8 1127.3,376.3 1127.6,383.3 1127.9,385.1 1128.2,377.6 1128.5,377.2 1128.8,382.6 1129.1,374.9 1129.4,380.8 1129.7,377.1 1130.0,383.6 1130.3,379.1 1130.6,383.4 1130.9,372.5 1131.2,374.0 1131.5,375.6 1131.8,380.8 1132.1,371.6 1132.4,383.0 1132.7,375.6 1133.0,381.3 1133.3,372.1 1133.6,374.2 1133.9,376.4 1134.2,371.9 1134.5,378.0 1134.8,376.5 1135.1,373.0 1135.4,374.9 1135.7,377.6 1136.0,371.8 1136.3,376.6 1136.6,375.6 1136.9,367.5 1137.2,369.0 1137.5,375.0 1137.8,369.4 1138.1,372.9 1138.4,372.8 1138.7,369.6 1139.0,369.8 1139.3,365.0 1139.6,372.9 1139.9,363.8 1140.2,364.9 1140.5,364.1 1140.8,371.4 1141.1,373.4 1141.4,367.9 1141.7,366.5 1142.0,360.3 1142.3,368.9 1142.6,362.0 1142.9,364.6 1143.2,358.4 1143.5,364.6 1143.8,362.9 1144.1,362.4 1144.4,359.8 1144.7,355.3 1145.0,360.9 1145.3,360.9 1145.6,360.8 1145.9,364.6 1146.2,353.8 1146.5,357.6 1146.8,355.3 1147.1,357.6 1147.4,350.2 1147.7,360.9 1148.0,350.7 1148.3,349.6 1148.6,358.3 1148.9,354.5 1149.2,348.9 1149.5,349.8 1149.8,351.4 1150.1,351.0 1150.4,345.8 1150.7,347.2 1151.0,344.8 1151.3,345.4 1151.6,344.0 1151.9,347.4 1152.2,345.1 1152.5,348.1 1152.8,340.3 1153.1,340.4 1153.4,348.3 1153.7,348.6 1154.0,344.3 1154.3,349.5 1154.6,343.5 1154.9,339.0 1155.2,343.9 1155.5,345.2 1155.8,342.1 1156.1,346.4 1156.4,346.3 1156.7,339.5 1157.0,340.5 1157.3,340.1 1157.6,337.7 1157.9,341.2 1158.2,347.1 1158.5,344.1 1158.8,340.9 1159.1,340.2 1159.4,337.8 1159.7,344.1 1160.0,342.6 1160.3,338.3 1160.6,342.5 1160.9,341.2 1161.2,338.8 1161.5,346.2 1161.8,341.0 1162.1,344.7 1162.4,347.0 1162.7,344.2 1163.0,339.7 1163.3,345.2 1163.6,338.5 1163.9,343.3 1164.2,333.6 1164.5,335.2 1164.8,338.3 1165.1,344.0 1165.4,336.5 1165.7,347.4 1166.0,340.0 1166.3,341.3 1166.6,343.4 1166.9,337.4 1167.2,340.9 1167.5,341.8 1167.8,340.8 1168.1,346.2 1168.4,336.7 1168.7,338.6 1169.0,336.5 1169.3,340.5 1169.6,336.4 1169.9,344.2 1170.2,338.7 1170.5,336.0 1170.8,345.1 1171.1,343.4 1171.4,339.6 1171.7,344.3 1172.0,340.4 1172.3,341.4 1172.6,347.4 1172.9,349.0 1173.2,340.0 1173.5,338.3 1173.8,344.8 1174.1,341.7 1174.4,345.3 1174.7,348.4 1175.0,343.8 1175.3,344.6 1175.6,341.5 1175.9,345.1 1176.2,342.0 1176.5,344.4 1176.8,347.1 1177.1,338.6 1177.4,345.7 1177.7,345.4 1178.0,350.1 1178.3,341.2 1178.6,343.0 1178.9,346.7 1179.2,342.2 1179.5,352.7 1179.8,349.5 1180.1,343.9 1180.4,344.9 1180.7,351.8 1181.0,344.2 1181.3,347.8 1181.6,349.1 1181.9,352.6 1182.2,350.9 1182.5,349.0 1182.8,344.7 1183.1,352.4 1183.4,351.7 1183.7,351.4 1184.0,351.1 1184.3,348.2 1184.6,346.5 1184.9,349.9 1185.2,352.7 1185.5,347.9 1185.8,348.6 1186.1,347.1 1186.4,352.8 1186.7,348.7 1187.0,351.3 1187.3,352.1 1187.6,351.0 1187.9,352.0 1188.2,345.7 1188.5,344.2 1188.8,345.2 1189.1,353.1 1189.4,352.1 1189.7,351.9 1190.0,355.5 1190.3,352.9 1190.6,351.6 1190.9,351.9 1191.2,350.3 1191.5,352.1 1191.8,356.5 1192.1,355.9 1192.4,348.7 1192.7,358.1 1193.0,353.1 1193.3,350.4 1193.6,357.4 1193.9,359.0 1194.2,351.4 1194.5,361.1 1194.8,351.0 1195.1,358.0 1195.4,356.3 1195.7,358.4 1196.0,354.8 1196.3,358.3 1196.6,362.8 1196.9,353.6 1197.2,353.7 1197.5,352.1 1197.8,359.9 1198.1,354.1 1198.4,352.4 1198.7,360.5 1199.0,361.9 1199.3,361.7 1199.6,359.6 1199.9,361.3 1200.2,360.8 1200.5,360.2 1200.8,365.4 1201.1,362.2 1201.4,355.8 1201.7,355.6 1202.0,365.0 1202.3,358.5 1202.6,367.9 1202.9,361.2 1203.2,361.5 1203.5,357.8 1203.8,362.9 1204.1,366.7 1204.4,357.9 1204.7,366.5 1205.0,359.6 1205.3,361.1 1205.6,358.4 1205.9,369.6 1206.2,366.2 1206.5,367.0 1206.8,368.5 1207.1,362.3 1207.4,366.2 1207.7,368.1 1208.0,366.7 1208.3,369.6 1208.6,363.9 1208.9,361.9 1209.2,370.9 1209.5,367.1 1209.8,371.7 1210.1,368.7 1210.4,371.1 1210.7,378.5 1211.0,373.3 1211.3,372.1 1211.6,380.0 1211.9,372.9 1212.2,378.4 1212.5,373.6 1212.8,372.6 1213.1,371.9 1213.4,379.5 1213.7,374.3 1214.0,379.9 1214.3,386.0 1214.6,383.0 1214.9,380.3 1215.2,377.4 1215.5,384.2 1215.8,385.3 1216.1,380.6 1216.4,385.1 1216.7,380.6 1217.0,391.2 1217.3,375.0 1217.6,391.7 1217.9,383.8 1218.2,390.9 1218.5,391.9 1218.8,392.0 1219.1,392.0 1219.4,400.5 1219.7,393.0 1220.0,387.1 1220.3,387.1 1220.6,392.6 1220.9,391.8 1221.2,386.7 1221.5,388.9 1221.8,388.9 1222.1,386.9 1222.4,396.8 1222.7,391.0 1223.0,394.0 1223.3,394.5 1223.6,391.9 1223.9,397.2 1224.2,397.4 1224.5,392.7 1224.8,394.8 1225.1,392.6 1225.4,396.3 1225.7,393.2 1226.0,393.7 1226.3,398.1 1226.6,398.7 1226.9,396.9 1227.2,393.2 1227.5,399.7 1227.8,399.7 1228.1,392.7 1228.4,392.1 1228.7,401.5 1229.0,400.7 1229.3,403.3 1229.6,400.0 1229.9,398.6 1230.2,401.2 1230.5,395.0 1230.8,404.0 1231.1,406.6 1231.4,401.6 1231.7,396.7 1232.0,397.4 1232.3,394.5 1232.6,406.2 1232.9,407.5 1233.2,397.4 1233.5,405.2 1233.8,403.6 1234.1,408.5 1234.4,403.5 1234.7,401.0 1235.0,404.7 1235.3,404.4 1235.6,406.3 1235.9,398.4 1236.2,399.9 1236.5,398.6 1236.8,407.3 1237.1,403.5 1237.4,405.2 1237.7,400.3 1238.0,401.4 1238.3,405.4 1238.6,405.8 1238.9,399.9 1239.2,399.8 1239.5,399.4 1239.8,398.6 1240.1,399.2 1240.4,403.3 1240.7,399.6 1241.0,404.9 1241.3,407.9 1241.6,395.6 1241.9,402.7 1242.2,403.2 1242.5,400.1 1242.8,405.8 1243.1,397.2 1243.4,405.7 1243.7,403.7 1244.0,401.7 1244.3,402.1 1244.6,405.2 1244.9,400.7 1245.2,404.5 1245.5,408.9 1245.8,401.6 1246.1,405.8 1246.4,397.8 1246.7,408.4 1247.0,409.3 1247.3,403.5 1247.6,401.3 1247.9,409.5 1248.2,396.4 1248.5,397.7 1248.8,400.1 1249.1,398.5 1249.4,407.4 1249.7,405.8 1250.0,400.4 1250.3,403.3 1250.6,404.8 1250.9,400.2 1251.2,405.1 1251.5,395.1 1251.8,403.4 1252.1,397.7 1252.4,397.8 1252.7,395.4 1253.0,404.0 1253.3,406.3 1253.6,405.2 1253.9,402.7 1254.2,406.9 1254.5,407.8 1254.8,399.3 1255.1,404.3 1255.4,399.1 1255.7,403.2 1256.0,401.6 1256.3,401.4 1256.6,400.2 1256.9,404.8 1257.2,407.2 1257.5,403.4 1257.8,403.0 1258.1,407.1 1258.4,397.4 1258.7,404.3 1259.0,404.8 1259.3,401.1 1259.6,398.9 1259.9,400.6 1260.2,393.0 1260.5,396.0 1260.8,396.3 1261.1,396.0 1261.4,398.1 1261.7,398.5 1262.0,394.4 1262.3,400.2 1262.6,396.6 1262.9,401.0 1263.2,398.9 1263.5,393.6 1263.8,392.3 1264.1,388.7 1264.4,393.2 1264.7,393.6 1265.0,388.3 1265.3,392.2 1265.6,395.5 1265.9,392.2 1266.2,399.0 1266.5,394.4 1266.8,386.1 1267.1,392.5 1267.4,389.9 1267.7,386.9 1268.0,393.2 1268.3,392.5 1268.6,387.7 1268.9,389.6 1269.2,384.9 1269.5,388.1 1269.8,390.5 1270.1,387.1 1270.4,388.2 1270.7,383.8 1271.0,382.6 1271.3,382.6 1271.6,383.2 1271.9,377.6 1272.2,378.6 1272.5,383.5 1272.8,376.6 1273.1,380.0 1273.4,377.0 1273.7,377.8 1274.0,372.6 1274.3,379.3 1274.6,381.7 1274.9,379.2 1275.2,382.1 1275.5,380.6 1275.8,372.9 1276.1,379.3 1276.4,375.5 1276.7,372.1 1277.0,373.5 1277.3,371.7 1277.6,366.4 1277.9,367.3 1278.2,374.3 1278.5,377.1 1278.8,365.9 1279.1,375.1 1279.4,368.5 1279.7,374.0 1280.0,370.1 1280.3,372.5 1280.6,368.3 1280.9,366.3 1281.2,371.1 1281.5,366.1 1281.8,371.7 1282.1,368.9 1282.4,366.7 1282.7,370.9 1283.0,366.2 1283.3,367.1 1283.6,369.1 1283.9,369.0 1284.2,371.6 1284.5,367.9 1284.8,369.9 1285.1,366.4 1285.4,367.8 1285.7,372.4 1286.0,370.0 1286.3,373.6 1286.6,368.3 1286.9,365.8 1287.2,369.3 1287.5,369.8 1287.8,368.1 1288.1,372.1 1288.4,366.9 1288.7,372.9 1289.0,369.7 1289.3,370.6 1289.6,365.0 1289.9,368.6 1290.2,371.4 1290.5,370.5 1290.8,371.4 1291.1,368.6 1291.4,363.6 1291.7,371.1 1292.0,365.0 1292.3,365.4 1292.6,367.3 1292.9,361.5 1293.2,366.6 1293.5,362.7 1293.8,368.3 1294.1,365.0 1294.4,368.5 1294.7,357.2 1295.0,356.2 1295.3,361.5 1295.6,361.1 1295.9,359.0 1296.2,358.4 1296.5,355.7 1296.8,357.1 1297.1,350.3 1297.4,353.3 1297.7,350.9 1298.0,349.3 1298.3,349.6 1298.6,348.9 1298.9,353.4 1299.2,354.4 1299.5,353.5 1299.8,352.7 1300.1,345.3 1300.4,346.3 1300.7,345.7 1301.0,342.5 1301.3,339.0 1301.6,345.7 1301.9,340.3 1302.2,336.7 1302.5,331.1 1302.8,336.8 1303.1,328.7 1303.4,327.5 1303.7,336.4 1304.0,326.0 1304.3,325.9 1304.6,319.5 1304.9,326.2 1305.2,320.3 1305.5,322.8 1305.8,319.4 1306.1,319.5 1306.4,318.1 1306.7,315.6 1307.0,314.9 1307.3,309.2 1307.6,305.0 1307.9,309.0 1308.2,307.6 1308.5,301.4 1308.8,304.1 1309.1,297.7 1309.4,300.4 1309.7,298.8 1310.0,295.5 1310.3,295.1 1310.6,293.8 1310.9,292.2 1311.2,284.2 1311.5,288.1 1311.8,282.0 1312.1,285.4 1312.4,272.8 1312.7,274.2 1313.0,276.2 1313.3,276.3 1313.6,268.7 1313.9,267.3 1314.2,267.5 1314.5,263.5 1314.8,256.5 1315.1,261.6 1315.4,261.2 1315.7,254.4 1316.0,258.9 1316.3,255.7 1316.6,253.9 1316.9,249.8 1317.2,245.2 1317.5,249.7 1317.8,243.1 1318.1,245.0 1318.4,240.1 1318.7,238.3 1319.0,242.3 1319.3,237.3 1319.6,232.8 1319.9,232.9 1320.2,229.4 1320.5,232.7 1320.8,232.9 1321.1,235.4 1321.4,231.0 1321.7,223.3 1322.0,225.6 1322.3,222.8 1322.6,226.9 1322.9,225.8 1323.2,222.9 1323.5,228.1 1323.8,222.4 1324.1,226.2 1324.4,226.7 1324.7,227.0 1325.0,227.6 1325.3,223.5 1325.6,220.5 1325.9,225.6 1326.2,223.6 1326.5,220.2 1326.8,221.9 1327.1,223.6 1327.4,224.9 1327.7,232.9 1328.0,225.2 1328.3,231.5 1328.6,230.3 1328.9,234.6 1329.2,235.2 1329.5,231.9 1329.8,234.8 1330.1,238.6 1330.4,238.4 1330.7,238.9 1331.0,237.6 1331.3,244.8 1331.6,244.4 1331.9,249.4 1332.2,247.8 1332.5,256.4 1332.8,256.9 1333.1,258.3 1333.4,259.7 1333.7,264.3 1334.0,263.6 1334.3,265.4 1334.6,273.3 1334.9,273.9 1335.2,275.3 1335.5,273.0 1335.8,276.0 1336.1,277.4 1336.4,281.8 1336.7,289.2 1337.0,284.7 1337.3,287.7 1337.6,293.4 1337.9,291.3 1338.2,301.6 1338.5,305.2 1338.8,302.2 1339.1,302.0 1339.4,304.9 1339.7,313.5 1340.0,310.8 1340.3,318.0 1340.6,314.2 1340.9,318.0 1341.2,317.6 1341.5,326.0 1341.8,322.5 1342.1,328.9 1342.4,324.1 1342.7,328.6 1343.0,327.8 1343.3,332.3 1343.6,333.6 1343.9,340.9 1344.2,333.9 1344.5,335.6 1344.8,344.8 1345.1,343.7 1345.4,348.4 1345.7,349.9 1346.0,350.7 1346.3,356.6 1346.6,353.6 1346.9,353.3 1347.2,361.7 1347.5,361.8 1347.8,365.8 1348.1,364.0 1348.4,365.2 1348.7,370.0 1349.0,368.5 1349.3,364.3 1349.6,367.4 1349.9,370.8 1350.2,374.3 1350.5,377.0 1350.8,378.3 1351.1,375.5 1351.4,377.0 1351.7,382.0 1352.0,379.7 1352.3,375.1 1352.6,378.5 1352.9,377.0 1353.2,385.6 1353.5,390.6 1353.8,387.9 1354.1,385.6 1354.4,389.5 1354.7,388.5 1355.0,386.9 1355.3,393.4 1355.6,386.7 1355.9,394.7 1356.2,390.9 1356.5,388.5 1356.8,393.8 1357.1,390.4 1357.4,393.8 1357.7,395.1 1358.0,393.8 1358.3,390.4 1358.6,397.6 1358.9,398.0 1359.2,392.1 1359.5,397.7 1359.8,402.8 1360.1,399.5 1360.4,398.3 1360.7,397.7 1361.0,404.6 1361.3,402.0 1361.6,403.7 1361.9,405.8 1362.2,401.3 1362.5,401.4 1362.8,398.4 1363.1,404.1 1363.4,402.1 1363.7,402.3 1364.0,401.5 1364.3,407.0 1364.6,400.9 1364.9,406.3 1365.2,401.4 1365.5,403.2 1365.8,404.7 1366.1,408.5 1366.4,408.7 1366.7,404.4 1367.0,407.5 1367.3,408.2 1367.6,412.3 1367.9,406.5 1368.2,409.2 1368.5,408.2 1368.8,411.9 1369.1,412.9 1369.4,407.8 1369.7,410.7 1370.0,409.6 1370.3,408.5 1370.6,411.3 1370.9,410.0 1371.2,411.9 1371.5,410.9 1371.8,407.0 1372.1,416.0 1372.4,412.1 1372.7,416.8 1373.0,410.5 1373.3,407.8 1373.6,410.0 1373.9,414.7 1374.2,411.6 1374.5,416.8 1374.8,413.7 1375.1,416.1 1375.4,412.7 1375.7,415.5 1376.0,415.2 1376.3,413.2 1376.6,415.9 1376.9,413.9 1377.2,415.6 1377.5,412.4 1377.8,419.8 1378.1,413.2 1378.4,419.4 1378.7,419.6 1379.0,420.4 1379.3,412.7 1379.6,411.6 1379.9,415.3 1380.2,417.3 1380.5,415.7 1380.8,420.0 1381.1,411.3 1381.4,418.8 1381.7,413.1 1382.0,413.9 1382.3,416.4 1382.6,416.3 1382.9,417.4 1383.2,414.0 1383.5,417.6 1383.8,413.8 1384.1,415.7 1384.4,418.7 1384.7,420.9 1385.0,418.2 1385.3,416.5 1385.6,419.0 1385.9,419.3 1386.2,424.6 1386.5,420.4 1386.8,420.5 1387.1,424.7 1387.4,419.5 1387.7,416.6 1388.0,416.8 1388.3,414.5 1388.6,419.7 1388.9,420.1 1389.2,420.7 1389.5,419.3 1389.8,421.3 1390.1,421.0 1390.4,419.1 1390.7,423.1 1391.0,420.1 1391.3,421.5 1391.6,423.4 1391.9,420.2 1392.2,419.6 1392.5,423.8 1392.8,420.9 1393.1,416.0 1393.4,418.0 1393.7,423.4 1394.0,422.1 1394.3,420.5 1394.6,419.9 1394.9,424.7 1395.2,421.3 1395.5,420.9 1395.8,427.2 1396.1,424.3 1396.4,420.5 1396.7,425.6 1397.0,425.5 1397.3,425.1 1397.6,421.3 1397.9,425.7 1398.2,426.3 1398.5,424.3 1398.8,427.0 1399.1,425.2 1399.4,420.7 1399.7,424.9 1400.0,422.6 1400.3,419.9 1400.6,429.3 1400.9,429.6 1401.2,424.1 1401.5,426.9 1401.8,422.3 1402.1,423.6 1402.4,425.0 1402.7,428.1 1403.0,426.2 1403.3,425.0 1403.6,425.5 1403.9,425.5 1404.2,426.5 1404.5,423.9 1404.8,428.7 1405.1,425.2 1405.4,422.2 1405.7,426.0 1406.0,425.6 1406.3,427.0 1406.6,418.2 1406.9,424.0 1407.2,425.5 1407.5,425.3 1407.8,422.6 1408.1,424.2 1408.4,425.8 1408.7,426.2 1409.0,427.2 1409.3,424.2 1409.6,430.4 1409.9,429.6 1410.2,428.7 1410.5,428.7 1410.8,432.0 1411.1,422.5 1411.4,428.8 1411.7,428.8 1412.0,428.9 1412.3,425.9 1412.6,425.8 1412.9,426.7 1413.2,429.7 1413.5,428.3 1413.8,428.9 1414.1,426.1 1414.4,426.8 1414.7,425.3 1415.0,429.5 1415.3,427.9 1415.6,429.0 1415.9,430.7 1416.2,425.5 1416.5,423.2 1416.8,426.3 1417.1,429.1 1417.4,425.9 1417.7,425.5 1418.0,429.9 1418.3,430.9 1418.6,424.4 1418.9,429.5 1419.2,429.7 1419.5,429.0 1419.8,427.2 1420.1,429.1 1420.4,427.7 1420.7,424.2 1421.0,432.8 1421.3,428.6 1421.6,426.9 1421.9,424.8 1422.2,423.9 1422.5,423.6 1422.8,424.4 1423.1,430.9 1423.4,429.8 1423.7,423.8 1424.0,424.3 1424.3,427.1 1424.6,424.2 1424.9,428.7 1425.2,426.3 1425.5,424.3 1425.8,425.0 1426.1,425.5 1426.4,424.1 1426.7,424.3 1427.0,426.6 1427.3,428.6 1427.6,426.7 1427.9,422.9 1428.2,427.4 1428.5,429.8 1428.8,424.3 1429.1,423.2 1429.4,427.7 1429.7,422.8 1430.0,430.2 1430.3,424.1 1430.6,423.5 1430.9,427.5 1431.2,423.4 1431.5,425.3 1431.8,424.0 1432.1,430.1 1432.4,422.7 1432.7,424.3 1433.0,425.7 1433.3,428.8 1433.6,421.7 1433.9,427.7 1434.2,421.7 1434.5,426.3 1434.8,422.7 1435.1,426.1 1435.4,422.3 1435.7,424.0 1436.0,423.0 1436.3,425.0 1436.6,426.6 1436.9,423.9 1437.2,425.8 1437.5,429.0 1437.8,425.2 1438.1,426.4 1438.4,428.6 1438.7,427.4 1439.0,423.3 1439.3,429.6 1439.6,426.7 1439.9,427.0 1440.2,422.9 1440.5,423.3 1440.8,427.6 1441.1,428.5 1441.4,423.4 1441.7,430.0 1442.0,430.4 1442.3,422.8 1442.6,424.5 1442.9,425.1 1443.2,424.2 1443.5,425.7 1443.8,423.0 1444.1,423.4 1444.4,426.1 1444.7,425.2 1445.0,424.0 1445.3,421.7 1445.6,427.2 1445.9,423.3 1446.2,429.8 1446.5,425.8 1446.8,422.3 1447.1,428.6 1447.4,428.1 1447.7,424.9 1448.0,424.1 1448.3,428.9 1448.6,425.4 1448.9,427.1 1449.2,425.1 1449.5,427.7 1449.8,426.5 1450.1,427.0 1450.4,431.1 1450.7,424.1 1451.0,424.3 1451.3,421.3 1451.6,426.5 1451.9,431.8 1452.2,430.0 1452.5,423.7 1452.8,424.3 1453.1,433.3 1453.4,428.2 1453.7,428.8 1454.0,431.9 1454.3,425.1 1454.6,429.4 1454.9,428.6 1455.2,431.3 1455.5,428.1 1455.8,426.0 1456.1,432.2 1456.4,428.5 1456.7,425.6 1457.0,424.1 1457.3,426.8 1457.6,426.2 1457.9,431.6 1458.2,429.2 1458.5,424.0 1458.8,429.0 1459.1,425.0 1459.4,426.7 1459.7,429.2 1460.0,428.9 1460.3,428.9 1460.6,425.0 1460.9,427.9 1461.2,425.6 1461.5,423.3 1461.8,425.1 1462.1,430.7 1462.4,429.1 1462.7,426.6 1463.0,428.7 1463.3,431.5 1463.6,425.8 1463.9,425.6 1464.2,422.7 1464.5,429.8 1464.8,429.1 1465.1,426.8 1465.4,425.7 1465.7,429.1 1466.0,430.3 1466.3,430.1 1466.6,430.3 1466.9,426.1 1467.2,430.4 1467.5,425.4 1467.8,428.5 1468.1,424.7 1468.4,428.3 1468.7,424.3 1469.0,423.8 1469.3,426.9 1469.6,427.9 1469.9,424.7 1470.2,429.9 1470.5,423.0 1470.8,429.8 1471.1,429.5 1471.4,426.2 1471.7,432.8 1472.0,423.9 1472.3,429.2 1472.6,431.9 1472.9,427.7 1473.2,428.5 1473.5,429.9 1473.8,427.6 1474.1,426.7 1474.4,424.7 1474.7,426.0 1475.0,425.7 1475.3,427.9 1475.6,429.3 1475.9,431.1 1476.2,429.1 1476.5,430.5 1476.8,429.3 1477.1,424.7 1477.4,431.4 1477.7,432.7 1478.0,425.2 1478.3,428.2 1478.6,431.2 1478.9,427.8 1479.2,427.6 1479.5,429.4 1479.8,428.6 1480.1,431.5 1480.4,428.7 1480.7,428.8 1481.0,431.8 1481.3,424.3 1481.6,426.7 1481.9,425.4 1482.2,432.0 1482.5,431.4 1482.8,433.2 1483.1,425.2 1483.4,428.4 1483.7,431.5 1484.0,428.5 1484.3,427.0 1484.6,431.3 1484.9,428.4 1485.2,431.3 1485.5,426.4 1485.8,428.6 1486.1,430.9 1486.4,432.0 1486.7,430.1 1487.0,426.6 1487.3,429.9 1487.6,425.2 1487.9,424.8 1488.2,431.7 1488.5,431.2 1488.8,430.9 1489.1,427.2 1489.4,426.1 1489.7,433.9 1490.0,428.8 1490.3,431.1 1490.6,432.9 1490.9,432.1 1491.2,426.3 1491.5,424.8 1491.8,429.3 1492.1,430.2 1492.4,431.9 1492.7,431.2 1493.0,430.9 1493.3,430.7 1493.6,432.3 1493.9,426.1 1494.2,432.7 1494.5,431.9 1494.8,428.2 1495.1,431.1 1495.4,426.1 1495.7,430.6 1496.0,433.1 1496.3,433.0 1496.6,427.1 1496.9,432.1 1497.2,428.7 1497.5,428.3 1497.8,427.2 1498.1,428.4 1498.4,431.3 1498.7,428.9 1499.0,425.2 1499.3,426.0 1499.6,434.5 1499.9,426.9 1500.2,428.3 1500.5,431.6 1500.8,430.9 1501.1,429.9 1501.4,429.4 1501.7,432.1 1502.0,428.3 1502.3,426.9 1502.6,427.7 1502.9,429.5 1503.2,432.2 1503.5,431.1 1503.8,429.6 1504.1,431.0 1504.4,432.9 1504.7,428.6 1505.0,434.5 1505.3,428.0 1505.6,433.2 1505.9,434.0 1506.2,428.3 1506.5,433.3 1506.8,430.3 1507.1,431.0 1507.4,437.1 1507.7,428.5 1508.0,437.2 1508.3,431.3 1508.6,434.4 1508.9,437.2 1509.2,435.7 1509.5,433.0 1509.8,432.8 1510.1,430.3 1510.4,432.3 1510.7,428.2 1511.0,434.6 1511.3,435.2 1511.6,433.5 1511.9,431.1 1512.2,432.7 1512.5,434.8 1512.8,433.1 1513.1,430.1 1513.4,435.8 1513.7,436.1 1514.0,437.0 1514.3,433.8 1514.6,429.9 1514.9,432.6 1515.2,429.6 1515.5,431.2 1515.8,431.9 1516.1,432.5 1516.4,434.6 1516.7,435.0 1517.0,436.2 1517.3,434.6 1517.6,428.8 1517.9,433.9 1518.2,434.0 1518.5,436.4 1518.8,434.7 1519.1,436.1 1519.4,434.0 1519.7,436.8 1520.0,433.4 1520.3,439.8 1520.6,434.5 1520.9,439.1 1521.2,432.2 1521.5,431.7 1521.8,437.1 1522.1,439.3 1522.4,438.7 1522.7,433.8 1523.0,434.4 1523.3,433.8 1523.6,433.1 1523.9,437.6 1524.2,435.9 1524.5,431.4 1524.8,434.2 1525.1,436.6 1525.4,437.4 1525.7,432.4 1526.0,437.8 1526.3,435.4 1526.6,436.1 1526.9,435.0 1527.2,434.2 1527.5,432.3 1527.8,439.0 1528.1,436.3 1528.4,433.5 1528.7,432.7 1529.0,434.6 1529.3,433.9 1529.6,433.4 1529.9,434.9 1530.2,428.9 1530.5,435.3 1530.8,431.1 1531.1,430.4 1531.4,430.6 1531.7,431.2 1532.0,431.1 1532.3,432.7 1532.6,431.6 1532.9,427.8 1533.2,431.0 1533.5,434.7 1533.8,434.2 1534.1,430.5 1534.4,438.0 1534.7,431.7 1535.0,429.5 1535.3,428.7 1535.6,428.5 1535.9,434.4 1536.2,425.9 1536.5,431.7 1536.8,431.9 1537.1,428.4 1537.4,428.7 1537.7,435.7 1538.0,429.6 1538.3,427.6 1538.6,429.7 1538.9,431.0 1539.2,433.3 1539.5,425.6 1539.8,433.2 1540.1,428.4 1540.4,433.8 1540.7,430.0 1541.0,433.5 1541.3,429.8 1541.6,425.1 1541.9,427.3 1542.2,426.6 1542.5,432.2 1542.8,427.0 1543.1,431.5 1543.4,424.9 1543.7,425.7 1544.0,423.1 1544.3,427.1 1544.6,433.3 1544.9,427.9 1545.2,433.6 1545.5,433.0 1545.8,426.4 1546.1,423.2 1546.4,425.5 1546.7,429.2 1547.0,427.9 1547.3,427.5 1547.6,425.7 1547.9,428.9 1548.2,422.8 1548.5,425.2 1548.8,427.0 1549.1,427.9 1549.4,429.9 1549.7,427.0 1550.0,423.8 1550.3,426.0 1550.6,425.3 1550.9,426.5 1551.2,427.5 1551.5,427.6 1551.8,427.5 1552.1,425.7 1552.4,423.2 1552.7,423.8 1553.0,427.6 1553.3,424.9 1553.6,428.5 1553.9,427.9 1554.2,422.0 1554.5,421.6 1554.8,425.9 1555.1,427.0 1555.4,419.9 1555.7,423.2 1556.0,421.3 1556.3,425.7 1556.6,423.7 1556.9,425.1 1557.2,421.1 1557.5,421.6 1557.8,417.2 1558.1,422.9 1558.4,417.7 1558.7,422.3 1559.0,421.5 1559.3,424.2 1559.6,419.9 1559.9,417.0 1560.2,419.3 1560.5,415.2 1560.8,418.9 1561.1,421.6 1561.4,417.0 1561.7,418.6 1562.0,421.8 1562.3,418.2 1562.6,414.7 1562.9,415.8 1563.2,416.1 1563.5,418.2 1563.8,420.2 1564.1,414.9 1564.4,422.2 1564.7,415.3 1565.0,420.5 1565.3,413.0 1565.6,417.1 1565.9,415.1 1566.2,416.5 1566.5,413.0 1566.8,421.1 1567.1,418.4 1567.4,418.3 1567.7,414.8 1568.0,414.5 1568.3,412.6 1568.6,412.0 1568.9,416.8 1569.2,416.6 1569.5,417.9 1569.8,416.6 1570.1,416.4 1570.4,415.1 1570.7,414.8 1571.0,415.0 1571.3,413.0 1571.6,413.3 1571.9,413.0 1572.2,411.2 1572.5,411.9 1572.8,411.9 1573.1,411.8 1573.4,413.0 1573.7,409.1 1574.0,412.6 1574.3,412.0 1574.6,405.7 1574.9,409.9 1575.2,407.6 1575.5,409.1 1575.8,408.3 1576.1,411.2 1576.4,407.0 1576.7,408.3 1577.0,407.9 1577.3,410.4 1577.6,403.6 1577.9,409.4 1578.2,407.9 1578.5,409.8 1578.8,410.7 1579.1,412.1 1579.4,407.9 1579.7,414.2 1580.0,417.3 1580.3,417.6 1580.6,413.5 1580.9,413.5 1581.2,415.8 1581.5,420.7 1581.8,415.2 1582.1,414.8 1582.4,415.9 1582.7,418.3 1583.0,418.1 1583.3,414.1 1583.6,420.0 1583.9,418.2 1584.2,422.0 1584.5,419.5 1584.8,416.6 1585.1,422.7 1585.4,418.0 1585.7,424.1 1586.0,425.6 1586.3,423.8 1586.6,424.0 1586.9,421.5 1587.2,422.0 1587.5,421.0 1587.8,423.9 1588.1,422.3 1588.4,420.1 1588.7,428.9 1589.0,426.6 1589.3,427.4 1589.6,427.9 1589.9,422.5 1590.2,427.7 1590.5,426.1 1590.8,429.5 1591.1,424.6 1591.4,426.1 1591.7,425.6 1592.0,427.7 1592.3,428.8 1592.6,427.9 1592.9,428.6 1593.2,429.4 1593.5,423.8 1593.8,427.4 1594.1,429.5 1594.4,432.9 1594.7,425.7 1595.0,428.1 1595.3,425.3 1595.6,426.3 1595.9,425.9 1596.2,429.7 1596.5,425.1 1596.8,431.2 1597.1,431.3 1597.4,425.9 1597.7,428.7 1598.0,430.3 1598.3,427.4 1598.6,424.7 1598.9,430.8 1599.2,425.3 1599.5,424.7 1599.8,426.8 1600.1,427.0 1600.4,426.3 1600.7,425.9 1601.0,429.1 1601.3,429.8 1601.6,425.3 1601.9,429.8 1602.2,425.9 1602.5,430.7 1602.8,432.8 1603.1,429.3 1603.4,429.1 1603.7,430.8 1604.0,427.8 1604.3,428.3 1604.6,430.8 1604.9,430.2 1605.2,432.7 1605.5,426.2 1605.8,427.8 1606.1,433.8 1606.4,426.2 1606.7,430.6 1607.0,432.2 1607.3,431.0 1607.6,427.5 1607.9,433.4 1608.2,429.8 1608.5,431.9 1608.8,431.3 1609.1,425.1 1609.4,428.2 1609.7,428.0 1610.0,427.1 1610.3,433.4 1610.6,425.9 1610.9,425.6 1611.2,427.3 1611.5,430.3 1611.8,429.9 1612.1,427.9 1612.4,429.9 1612.7,430.3 1613.0,427.9 1613.3,432.3 1613.6,427.7 1613.9,425.6 1614.2,425.1 1614.5,428.8 1614.8,427.2 1615.1,425.8 1615.4,425.5 1615.7,428.2 1616.0,425.6 1616.3,429.7 1616.6,428.9 1616.9,426.4 1617.2,428.7 1617.5,435.1 1617.8,427.7 1618.1,428.6 1618.4,428.8 1618.7,428.6 1619.0,431.1 1619.3,433.5 1619.6,433.5 1619.9,434.1 1620.2,434.0 1620.5,432.9 1620.8,428.1 1621.1,428.8 1621.4,428.9 1621.7,435.3 1622.0,428.1 1622.3,433.6 1622.6,428.5 1622.9,431.9 1623.2,432.3 1623.5,435.0 1623.8,433.3 1624.1,429.4 1624.4,432.2 1624.7,430.3 1625.0,434.0 1625.3,434.3 1625.6,431.9 1625.9,429.4 1626.2,434.5 1626.5,435.9 1626.8,434.4 1627.1,436.8 1627.4,436.1 1627.7,432.9 1628.0,438.1 1628.3,433.0 1628.6,433.6 1628.9,435.4 1629.2,433.8 1629.5,434.6 1629.8,435.7 1630.1,427.6 1630.4,430.6 1630.7,433.4 1631.0,431.1 1631.3,435.3 1631.6,429.9 1631.9,430.7 1632.2,432.9 1632.5,431.1 1632.8,434.0 1633.1,429.0 1633.4,428.9 1633.7,434.0 1634.0,432.2 1634.3,436.1 1634.6,434.6 1634.9,430.7 1635.2,433.2 1635.5,434.6 1635.8,435.2 1636.1,435.9 1636.4,431.2 1636.7,430.8 1637.0,429.9 1637.3,431.9 1637.6,432.3 1637.9,432.3 1638.2,437.7 1638.5,438.2 1638.8,434.0 1639.1,434.7 1639.4,433.7 1639.7,437.0 1640.0,432.0 1640.3,436.7 1640.6,431.6 1640.9,430.5 1641.2,433.0 1641.5,435.1 1641.8,435.4 1642.1,433.9 1642.4,433.3 1642.7,432.2 1643.0,436.0 1643.3,432.7 1643.6,433.5 1643.9,431.9 1644.2,438.1 1644.5,431.8 1644.8,434.8 1645.1,436.7 1645.4,434.9 1645.7,434.7 1646.0,429.2 1646.3,426.5 1646.6,429.5 1646.9,433.3 1647.2,433.6 1647.5,429.8 1647.8,432.5 1648.1,434.2 1648.4,428.3 1648.7,427.0 1649.0,431.9 1649.3,436.1 1649.6,434.0 1649.9,428.7 1650.2,429.0 1650.5,430.5 1650.8,437.7 1651.1,435.0 1651.4,434.3 1651.7,436.3 1652.0,428.7 1652.3,432.3 1652.6,428.2 1652.9,430.9 1653.2,428.0 1653.5,433.5 1653.8,429.9 1654.1,429.6 1654.4,432.6 1654.7,431.9 1655.0,431.5 1655.3,429.7 1655.6,429.0 1655.9,433.2 1656.2,434.0 1656.5,429.3 1656.8,430.7 1657.1,430.8 1657.4,430.0 1657.7,436.8 1658.0,434.2 1658.3,435.1 1658.6,434.5 1658.9,438.4 1659.2,433.8 1659.5,436.7 1659.8,431.2 1660.1,435.6 1660.4,441.1 1660.7,434.8 1661.0,433.1 1661.3,432.6 1661.6,434.6 1661.9,430.3 1662.2,432.9 1662.5,432.6 1662.8,434.9 1663.1,434.2 1663.4,438.9 1663.7,436.5 1664.0,430.8 1664.3,429.2 1664.6,434.5 1664.9,437.1 1665.2,432.9 1665.5,430.4 1665.8,432.7 1666.1,435.5 1666.4,436.0 1666.7,433.8 1667.0,436.9 1667.3,434.3 1667.6,436.9 1667.9,435.0 1668.2,431.7 1668.5,437.7 1668.8,436.4 1669.1,437.4 1669.4,439.9 1669.7,440.7 1670.0,433.2 1670.3,439.1 1670.6,437.5 1670.9,433.4 1671.2,440.4 1671.5,439.8 1671.8,435.8 1672.1,436.1 1672.4,436.3 1672.7,434.0 1673.0,438.2 1673.3,441.7 1673.6,438.8 1673.9,442.2 1674.2,439.4 1674.5,442.8 1674.8,437.3 1675.1,437.9 1675.4,438.9 1675.7,439.7 1676.0,437.6 1676.3,438.2 1676.6,436.8 1676.9,438.1 1677.2,434.5 1677.5,440.2 1677.8,434.9 1678.1,441.6 1678.4,438.2 1678.7,440.9 1679.0,436.6 1679.3,440.7 1679.6,436.8 1679.9,434.7 1680.2,440.5 1680.5,435.1 1680.8,435.4 1681.1,436.6 1681.4,443.2 1681.7,438.0 1682.0,435.6 1682.3,441.0 1682.6,435.6 1682.9,439.8 1683.2,438.5 1683.5,439.0 1683.8,439.6 1684.1,434.6 1684.4,435.7 1684.7,438.2 1685.0,441.2 1685.3,443.3 1685.6,436.4 1685.9,441.1 1686.2,439.2 1686.5,438.6 1686.8,440.8 1687.1,442.4 1687.4,438.2 1687.7,441.9 1688.0,438.6 1688.3,433.9 1688.6,440.7 1688.9,438.1 1689.2,441.4 1689.5,438.5 1689.8,432.9 1690.1,436.0 1690.4,436.9 1690.7,433.4 1691.0,435.6 1691.3,439.9 1691.6,437.1 1691.9,435.1 1692.2,434.3 1692.5,438.6" fill="none" stroke="#00ff00" stroke-width="2.6" stroke-linejoin="round"/>
<path d="M959.7,605.1 960.0,605.1 960.3,605.1 960.6,605.1 960.9,605.1 961.2,605.1 961.5,604.5 961.8,605.1 962.1,605.1 962.4,605.1 962.7,604.9 963.0,605.1 963.3,605.1 963.6,605.1 963.9,605.1 964.2,605.1 964.5,605.1 964.8,605.1 965.1,605.1 965.4,605.1 965.7,605.1 966.0,605.1 966.3,604.8 966.6,605.1 966.9,604.4 967.2,605.1 967.5,605.1 967.8,605.1 968.1,605.1 968.4,605.1 968.7,605.1 969.0,605.1 969.3,604.4 969.6,605.1 969.9,603.3 970.2,604.1 970.5,602.2 970.8,605.1 971.1,604.9 971.4,605.1 971.7,605.0 972.0,605.1 972.3,604.3 972.6,602.4 972.9,605.1 973.2,605.1 973.5,603.7 973.8,605.1 974.1,604.9 974.4,603.9 974.7,601.5 975.0,603.7 975.3,600.4 975.6,600.9 975.9,603.1 976.2,603.2 976.5,602.9 976.8,600.7 977.1,603.3 977.4,603.8 977.7,600.0 978.0,600.6 978.3,602.6 978.6,600.9 978.9,602.5 979.2,600.5 979.5,600.9 979.8,604.1 980.1,599.7 980.4,600.4 980.7,603.2 981.0,603.2 981.3,602.8 981.6,602.0 981.9,601.9 982.2,600.5 982.5,604.2 982.8,599.5 983.1,599.9 983.4,599.6 983.7,602.2 984.0,600.7 984.3,600.5 984.6,602.2 984.9,601.7 985.2,597.7 985.5,601.0 985.8,598.7 986.1,600.2 986.4,597.9 986.7,601.8 987.0,598.3 987.3,600.9 987.6,599.4 987.9,599.7 988.2,599.9 988.5,597.8 988.8,598.9 989.1,599.7 989.4,601.4 989.7,599.5 990.0,601.6 990.3,599.7 990.6,599.2 990.9,599.3 991.2,601.9 991.5,600.0 991.8,600.4 992.1,599.9 992.4,598.4 992.7,598.8 993.0,598.5 993.3,599.7 993.6,597.2 993.9,599.0 994.2,599.3 994.5,594.9 994.8,599.8 995.1,600.4 995.4,596.6 995.7,595.3 996.0,598.1 996.3,597.6 996.6,598.9 996.9,599.7 997.2,597.2 997.5,599.0 997.8,599.1 998.1,597.1 998.4,599.0 998.7,596.1 999.0,598.3 999.3,594.5 999.6,596.6 999.9,598.7 1000.2,598.1 1000.5,596.5 1000.8,598.2 1001.1,594.6 1001.4,596.2 1001.7,596.3 1002.0,595.7 1002.3,595.8 1002.6,594.9 1002.9,595.2 1003.2,595.0 1003.5,595.4 1003.8,597.6 1004.1,599.1 1004.4,596.0 1004.7,598.7 1005.0,595.6 1005.3,595.8 1005.6,594.2 1005.9,599.0 1006.2,596.4 1006.5,596.0 1006.8,595.2 1007.1,596.8 1007.4,594.6 1007.7,595.9 1008.0,595.7 1008.3,595.7 1008.6,596.4 1008.9,596.5 1009.2,597.2 1009.5,596.2 1009.8,593.6 1010.1,595.1 1010.4,595.1 1010.7,594.0 1011.0,595.8 1011.3,595.2 1011.6,595.9 1011.9,592.8 1012.2,594.6 1012.5,591.7 1012.8,592.7 1013.1,592.5 1013.4,594.9 1013.7,592.4 1014.0,593.2 1014.3,592.4 1014.6,591.9 1014.9,594.2 1015.2,591.9 1015.5,594.6 1015.8,593.5 1016.1,593.5 1016.4,593.5 1016.7,594.2 1017.0,595.8 1017.3,595.1 1017.6,593.2 1017.9,592.1 1018.2,593.1 1018.5,593.5 1018.8,595.2 1019.1,593.8 1019.4,593.8 1019.7,595.9 1020.0,594.5 1020.3,594.2 1020.6,593.2 1020.9,590.5 1021.2,594.4 1021.5,592.5 1021.8,593.2 1022.1,590.4 1022.4,590.9 1022.7,593.7 1023.0,589.6 1023.3,590.6 1023.6,593.3 1023.9,592.7 1024.2,593.6 1024.5,593.2 1024.8,591.7 1025.1,591.8 1025.4,592.9 1025.7,588.3 1026.0,591.2 1026.3,592.5 1026.6,589.9 1026.9,591.7 1027.2,587.8 1027.5,591.8 1027.8,589.3 1028.1,589.2 1028.4,589.7 1028.7,586.7 1029.0,588.3 1029.3,590.9 1029.6,590.6 1029.9,590.3 1030.2,587.4 1030.5,587.4 1030.8,586.8 1031.1,586.7 1031.4,588.8 1031.7,586.5 1032.0,587.6 1032.3,587.4 1032.6,587.6 1032.9,587.1 1033.2,586.7 1033.5,590.7 1033.8,591.4 1034.1,587.6 1034.4,588.5 1034.7,586.0 1035.0,587.6 1035.3,588.6 1035.6,583.8 1035.9,587.4 1036.2,584.7 1036.5,584.3 1036.8,585.3 1037.1,584.1 1037.4,587.1 1037.7,582.5 1038.0,581.6 1038.3,581.5 1038.6,584.3 1038.9,581.9 1039.2,580.5 1039.5,580.0 1039.8,583.4 1040.1,581.7 1040.4,578.5 1040.7,577.3 1041.0,580.0 1041.3,577.6 1041.6,576.6 1041.9,578.2 1042.2,574.9 1042.5,575.7 1042.8,570.7 1043.1,570.8 1043.4,569.3 1043.7,566.8 1044.0,561.9 1044.3,556.7 1044.6,555.3 1044.9,553.4 1045.2,546.2 1045.5,541.6 1045.8,539.8 1046.1,533.0 1046.4,527.6 1046.7,517.1 1047.0,513.1 1047.3,506.5 1047.6,498.4 1047.9,496.0 1048.2,485.2 1048.5,479.7 1048.8,476.6 1049.1,467.9 1049.4,460.5 1049.7,453.8 1050.0,447.4 1050.3,435.5 1050.6,425.3 1050.9,411.4 1051.2,400.2 1051.5,395.4 1051.8,396.8 1052.1,398.7 1052.4,412.5 1052.7,420.9 1053.0,435.6 1053.3,447.5 1053.6,455.5 1053.9,462.9 1054.2,474.6 1054.5,480.8 1054.8,490.4 1055.1,499.1 1055.4,505.9 1055.7,511.6 1056.0,517.5 1056.3,524.2 1056.6,528.6 1056.9,533.7 1057.2,541.9 1057.5,544.5 1057.8,548.1 1058.1,552.9 1058.4,556.8 1058.7,555.2 1059.0,556.4 1059.3,559.6 1059.6,565.2 1059.9,563.8 1060.2,566.6 1060.5,568.4 1060.8,565.9 1061.1,567.6 1061.4,569.9 1061.7,570.9 1062.0,568.6 1062.3,571.2 1062.6,571.6 1062.9,571.7 1063.2,574.9 1063.5,574.5 1063.8,575.0 1064.1,575.7 1064.4,574.8 1064.7,576.8 1065.0,574.7 1065.3,576.0 1065.6,579.0 1065.9,580.3 1066.2,578.8 1066.5,577.5 1066.8,578.2 1067.1,577.0 1067.4,580.5 1067.7,577.4 1068.0,578.7 1068.3,577.6 1068.6,578.3 1068.9,577.2 1069.2,579.7 1069.5,580.4 1069.8,578.7 1070.1,577.8 1070.4,578.8 1070.7,582.0 1071.0,580.7 1071.3,578.8 1071.6,580.6 1071.9,579.3 1072.2,579.7 1072.5,578.7 1072.8,578.5 1073.1,580.1 1073.4,580.9 1073.7,579.6 1074.0,580.1 1074.3,579.0 1074.6,582.4 1074.9,581.4 1075.2,581.3 1075.5,580.1 1075.8,581.3 1076.1,581.7 1076.4,580.7 1076.7,579.2 1077.0,582.1 1077.3,580.5 1077.6,579.2 1077.9,582.0 1078.2,580.7 1078.5,579.6 1078.8,580.2 1079.1,582.5 1079.4,583.1 1079.7,581.0 1080.0,580.9 1080.3,583.4 1080.6,580.4 1080.9,581.9 1081.2,580.2 1081.5,580.3 1081.8,580.6 1082.1,578.2 1082.4,577.6 1082.7,579.2 1083.0,577.4 1083.3,578.5 1083.6,581.8 1083.9,580.0 1084.2,578.1 1084.5,576.3 1084.8,579.5 1085.1,581.0 1085.4,578.1 1085.7,578.9 1086.0,578.8 1086.3,574.5 1086.6,577.3 1086.9,575.3 1087.2,574.5 1087.5,574.3 1087.8,572.0 1088.1,572.1 1088.4,568.3 1088.7,565.2 1089.0,561.0 1089.3,559.6 1089.6,556.5 1089.9,549.8 1090.2,548.5 1090.5,544.6 1090.8,540.0 1091.1,536.4 1091.4,532.5 1091.7,528.4 1092.0,523.3 1092.3,521.3 1092.6,517.7 1092.9,517.7 1093.2,516.5 1093.5,517.3 1093.8,521.1 1094.1,526.6 1094.4,528.6 1094.7,537.7 1095.0,545.0 1095.3,549.2 1095.6,550.3 1095.9,552.3 1096.2,559.1 1096.5,562.9 1096.8,566.9 1097.1,566.4 1097.4,568.6 1097.7,570.7 1098.0,569.1 1098.3,572.6 1098.6,572.0 1098.9,575.0 1099.2,571.5 1099.5,574.6 1099.8,576.8 1100.1,574.2 1100.4,574.0 1100.7,573.5 1101.0,576.5 1101.3,574.5 1101.6,574.3 1101.9,574.1 1102.2,576.5 1102.5,574.4 1102.8,578.4 1103.1,578.5 1103.4,578.8 1103.7,578.4 1104.0,575.7 1104.3,574.6 1104.6,575.9 1104.9,576.7 1105.2,578.4 1105.5,577.5 1105.8,575.9 1106.1,578.9 1106.4,579.1 1106.7,579.2 1107.0,576.7 1107.3,578.4 1107.6,577.8 1107.9,577.0 1108.2,576.0 1108.5,579.3 1108.8,580.2 1109.1,579.5 1109.4,576.7 1109.7,577.4 1110.0,579.7 1110.3,580.4 1110.6,578.1 1110.9,581.2 1111.2,582.3 1111.5,579.1 1111.8,580.7 1112.1,577.7 1112.4,580.6 1112.7,578.9 1113.0,579.6 1113.3,579.1 1113.6,579.1 1113.9,578.1 1114.2,577.9 1114.5,579.0 1114.8,581.1 1115.1,577.4 1115.4,579.8 1115.7,577.7 1116.0,578.7 1116.3,582.3 1116.6,578.5 1116.9,581.9 1117.2,582.6 1117.5,582.6 1117.8,582.3 1118.1,582.2 1118.4,581.7 1118.7,581.9 1119.0,582.8 1119.3,582.2 1119.6,583.2 1119.9,579.4 1120.2,582.2 1120.5,580.2 1120.8,582.8 1121.1,583.1 1121.4,583.5 1121.7,581.2 1122.0,580.7 1122.3,581.8 1122.6,582.8 1122.9,580.7 1123.2,584.9 1123.5,582.1 1123.8,584.4 1124.1,583.8 1124.4,581.7 1124.7,582.2 1125.0,583.3 1125.3,583.5 1125.6,585.0 1125.9,584.9 1126.2,586.1 1126.5,584.2 1126.8,584.9 1127.1,582.0 1127.4,584.6 1127.7,583.9 1128.0,583.0 1128.3,584.5 1128.6,584.6 1128.9,582.1 1129.2,585.2 1129.5,582.3 1129.8,584.4 1130.1,583.7 1130.4,586.0 1130.7,582.4 1131.0,586.4 1131.3,583.5 1131.6,585.0 1131.9,584.6 1132.2,586.2 1132.5,584.5 1132.8,586.9 1133.1,583.4 1133.4,585.1 1133.7,583.0 1134.0,582.4 1134.3,583.9 1134.6,584.3 1134.9,585.5 1135.2,583.4 1135.5,582.7 1135.8,585.8 1136.1,582.1 1136.4,584.9 1136.7,582.8 1137.0,583.5 1137.3,585.5 1137.6,583.1 1137.9,584.1 1138.2,581.3 1138.5,583.9 1138.8,580.6 1139.1,583.9 1139.4,584.1 1139.7,582.7 1140.0,581.9 1140.3,581.7 1140.6,580.6 1140.9,580.7 1141.2,581.3 1141.5,581.8 1141.8,582.4 1142.1,578.8 1142.4,580.1 1142.7,580.0 1143.0,580.5 1143.3,579.0 1143.6,580.2 1143.9,577.6 1144.2,578.9 1144.5,577.7 1144.8,577.3 1145.1,578.9 1145.4,574.4 1145.7,574.2 1146.0,576.4 1146.3,576.2 1146.6,575.7 1146.9,573.9 1147.2,573.2 1147.5,576.2 1147.8,572.2 1148.1,574.4 1148.4,572.4 1148.7,576.2 1149.0,573.7 1149.3,576.9 1149.6,576.7 1149.9,577.3 1150.2,575.0 1150.5,576.2 1150.8,576.4 1151.1,573.9 1151.4,575.8 1151.7,576.7 1152.0,576.1 1152.3,576.1 1152.6,577.5 1152.9,576.1 1153.2,577.9 1153.5,576.2 1153.8,578.5 1154.1,576.8 1154.4,578.7 1154.7,578.7 1155.0,578.4 1155.3,582.4 1155.6,579.4 1155.9,582.1 1156.2,579.1 1156.5,579.4 1156.8,579.8 1157.1,580.9 1157.4,584.0 1157.7,581.4 1158.0,582.0 1158.3,580.0 1158.6,578.7 1158.9,580.3 1159.2,578.0 1159.5,579.1 1159.8,581.4 1160.1,579.1 1160.4,581.2 1160.7,582.2 1161.0,581.6 1161.3,577.8 1161.6,580.4 1161.9,578.3 1162.2,580.6 1162.5,582.8 1162.8,583.1 1163.1,582.9 1163.4,581.6 1163.7,580.9 1164.0,580.8 1164.3,580.8 1164.6,581.8 1164.9,579.4 1165.2,582.7 1165.5,582.9 1165.8,582.7 1166.1,579.6 1166.4,582.6 1166.7,581.9 1167.0,582.6 1167.3,585.3 1167.6,585.5 1167.9,584.6 1168.2,582.4 1168.5,583.6 1168.8,586.1 1169.1,585.1 1169.4,584.3 1169.7,584.8 1170.0,585.4 1170.3,586.5 1170.6,590.0 1170.9,586.1 1171.2,587.4 1171.5,589.3 1171.8,589.9 1172.1,587.9 1172.4,585.7 1172.7,587.2 1173.0,586.7 1173.3,586.3 1173.6,588.3 1173.9,586.8 1174.2,587.6 1174.5,585.2 1174.8,588.6 1175.1,586.3 1175.4,586.1 1175.7,586.6 1176.0,586.6 1176.3,590.1 1176.6,585.0 1176.9,587.4 1177.2,589.7 1177.5,587.5 1177.8,590.3 1178.1,589.2 1178.4,587.5 1178.7,588.3 1179.0,588.7 1179.3,590.0 1179.6,586.9 1179.9,586.0 1180.2,589.3 1180.5,586.8 1180.8,585.9 1181.1,588.3 1181.4,584.8 1181.7,585.2 1182.0,585.6 1182.3,587.0 1182.6,586.7 1182.9,586.6 1183.2,585.6 1183.5,585.8 1183.8,585.2 1184.1,587.7 1184.4,587.5 1184.7,586.4 1185.0,587.8 1185.3,584.8 1185.6,585.6 1185.9,587.8 1186.2,588.5 1186.5,586.3 1186.8,586.1 1187.1,583.7 1187.4,582.9 1187.7,582.9 1188.0,583.4 1188.3,585.4 1188.6,586.0 1188.9,586.5 1189.2,586.7 1189.5,585.4 1189.8,582.8 1190.1,584.5 1190.4,586.1 1190.7,587.3 1191.0,585.2 1191.3,583.7 1191.6,585.8 1191.9,585.2 1192.2,584.7 1192.5,586.5 1192.8,583.6 1193.1,586.9 1193.4,585.3 1193.7,585.6 1194.0,584.5 1194.3,584.5 1194.6,583.3 1194.9,585.7 1195.2,582.8 1195.5,581.8 1195.8,583.0 1196.1,581.8 1196.4,586.4 1196.7,584.0 1197.0,585.0 1197.3,583.5 1197.6,584.4 1197.9,585.4 1198.2,581.4 1198.5,581.4 1198.8,583.0 1199.1,581.8 1199.4,580.2 1199.7,583.8 1200.0,583.3 1200.3,580.6 1200.6,581.6 1200.9,580.5 1201.2,580.8 1201.5,578.5 1201.8,578.4 1202.1,579.1 1202.4,579.8 1202.7,581.4 1203.0,581.0 1203.3,577.1 1203.6,579.0 1203.9,579.1 1204.2,576.2 1204.5,576.6 1204.8,579.4 1205.1,576.5 1205.4,577.4 1205.7,577.6 1206.0,576.9 1206.3,577.1 1206.6,576.2 1206.9,577.9 1207.2,574.6 1207.5,574.8 1207.8,575.6 1208.1,574.7 1208.4,573.3 1208.7,570.1 1209.0,572.6 1209.3,572.1 1209.6,572.3 1209.9,570.9 1210.2,569.0 1210.5,567.8 1210.8,567.3 1211.1,565.4 1211.4,567.3 1211.7,564.4 1212.0,565.4 1212.3,559.6 1212.6,559.6 1212.9,559.9 1213.2,558.0 1213.5,553.5 1213.8,550.3 1214.1,549.0 1214.4,547.0 1214.7,540.8 1215.0,537.0 1215.3,534.5 1215.6,526.9 1215.9,518.3 1216.2,511.6 1216.5,506.6 1216.8,496.2 1217.1,493.1 1217.4,485.8 1217.7,480.1 1218.0,473.8 1218.3,471.4 1218.6,464.3 1218.9,460.5 1219.2,458.4 1219.5,452.3 1219.8,452.3 1220.1,450.0 1220.4,452.5 1220.7,454.2 1221.0,454.5 1221.3,458.4 1221.6,461.8 1221.9,469.6 1222.2,475.8 1222.5,478.6 1222.8,481.9 1223.1,488.1 1223.4,494.3 1223.7,504.1 1224.0,507.4 1224.3,515.1 1224.6,516.1 1224.9,524.1 1225.2,522.0 1225.5,525.3 1225.8,529.6 1226.1,528.9 1226.4,533.6 1226.7,531.0 1227.0,532.5 1227.3,536.5 1227.6,538.2 1227.9,535.3 1228.2,539.4 1228.5,537.8 1228.8,541.1 1229.1,537.0 1229.4,541.1 1229.7,541.0 1230.0,539.1 1230.3,540.9 1230.6,539.7 1230.9,540.6 1231.2,542.1 1231.5,542.8 1231.8,540.8 1232.1,543.7 1232.4,541.0 1232.7,540.8 1233.0,542.6 1233.3,541.9 1233.6,542.9 1233.9,540.9 1234.2,542.8 1234.5,544.3 1234.8,541.0 1235.1,541.0 1235.4,541.7 1235.7,544.0 1236.0,540.9 1236.3,542.1 1236.6,541.8 1236.9,542.9 1237.2,541.6 1237.5,546.1 1237.8,542.8 1238.1,543.7 1238.4,547.2 1238.7,548.2 1239.0,544.0 1239.3,546.9 1239.6,548.8 1239.9,547.8 1240.2,547.9 1240.5,548.7 1240.8,546.9 1241.1,551.1 1241.4,547.6 1241.7,547.8 1242.0,549.9 1242.3,550.9 1242.6,546.9 1242.9,548.8 1243.2,549.5 1243.5,551.1 1243.8,550.3 1244.1,551.4 1244.4,550.5 1244.7,551.1 1245.0,552.5 1245.3,554.2 1245.6,552.4 1245.9,553.1 1246.2,553.6 1246.5,553.5 1246.8,550.6 1247.1,551.5 1247.4,552.8 1247.7,555.0 1248.0,551.9 1248.3,555.4 1248.6,551.8 1248.9,554.1 1249.2,553.8 1249.5,552.7 1249.8,552.5 1250.1,552.9 1250.4,553.1 1250.7,556.0 1251.0,555.7 1251.3,556.3 1251.6,552.5 1251.9,556.0 1252.2,551.8 1252.5,555.3 1252.8,554.2 1253.1,554.1 1253.4,554.6 1253.7,553.7 1254.0,553.2 1254.3,553.2 1254.6,555.3 1254.9,556.7 1255.2,556.6 1255.5,554.9 1255.8,555.0 1256.1,554.7 1256.4,557.8 1256.7,556.1 1257.0,555.6 1257.3,554.7 1257.6,558.2 1257.9,553.3 1258.2,556.5 1258.5,555.7 1258.8,554.2 1259.1,556.1 1259.4,553.4 1259.7,551.9 1260.0,555.4 1260.3,555.1 1260.6,551.2 1260.9,553.8 1261.2,552.0 1261.5,552.9 1261.8,553.6 1262.1,551.0 1262.4,550.9 1262.7,553.3 1263.0,549.2 1263.3,549.7 1263.6,549.8 1263.9,551.6 1264.2,548.6 1264.5,547.9 1264.8,546.9 1265.1,546.8 1265.4,545.0 1265.7,545.2 1266.0,544.8 1266.3,544.9 1266.6,543.5 1266.9,542.4 1267.2,544.6 1267.5,543.5 1267.8,542.0 1268.1,541.1 1268.4,541.1 1268.7,538.4 1269.0,539.2 1269.3,539.2 1269.6,537.1 1269.9,536.1 1270.2,537.8 1270.5,536.9 1270.8,541.9 1271.1,541.4 1271.4,540.1 1271.7,541.0 1272.0,541.6 1272.3,546.3 1272.6,548.5 1272.9,547.5 1273.2,549.0 1273.5,550.0 1273.8,550.0 1274.1,553.7 1274.4,551.7 1274.7,554.4 1275.0,553.2 1275.3,553.3 1275.6,554.6 1275.9,557.1 1276.2,553.5 1276.5,557.7 1276.8,559.0 1277.1,556.0 1277.4,559.3 1277.7,555.7 1278.0,559.1 1278.3,557.9 1278.6,555.9 1278.9,556.4 1279.2,560.8 1279.5,561.3 1279.8,560.4 1280.1,559.6 1280.4,559.1 1280.7,560.8 1281.0,562.7 1281.3,563.8 1281.6,558.7 1281.9,561.1 1282.2,563.8 1282.5,560.9 1282.8,562.4 1283.1,563.8 1283.4,563.4 1283.7,563.6 1284.0,561.9 1284.3,562.5 1284.6,562.0 1284.9,563.4 1285.2,564.8 1285.5,563.2 1285.8,565.1 1286.1,562.5 1286.4,563.0 1286.7,566.0 1287.0,563.4 1287.3,563.8 1287.6,564.8 1287.9,562.0 1288.2,564.9 1288.5,566.1 1288.8,562.4 1289.1,563.9 1289.4,563.0 1289.7,564.0 1290.0,564.4 1290.3,565.3 1290.6,563.5 1290.9,561.2 1291.2,561.1 1291.5,563.0 1291.8,564.3 1292.1,560.7 1292.4,560.8 1292.7,562.7 1293.0,561.5 1293.3,563.1 1293.6,559.2 1293.9,557.3 1294.2,561.2 1294.5,560.3 1294.8,557.4 1295.1,556.9 1295.4,556.2 1295.7,556.3 1296.0,553.8 1296.3,557.8 1296.6,554.4 1296.9,552.9 1297.2,553.3 1297.5,551.0 1297.8,554.2 1298.1,552.0 1298.4,550.0 1298.7,549.5 1299.0,551.3 1299.3,547.8 1299.6,549.9 1299.9,547.4 1300.2,547.2 1300.5,548.0 1300.8,548.2 1301.1,548.5 1301.4,545.1 1301.7,545.7 1302.0,545.8 1302.3,545.8 1302.6,547.0 1302.9,547.2 1303.2,548.3 1303.5,546.3 1303.8,546.9 1304.1,545.5 1304.4,549.4 1304.7,547.0 1305.0,547.5 1305.3,551.7 1305.6,552.3 1305.9,553.2 1306.2,552.9 1306.5,551.9 1306.8,554.6 1307.1,555.1 1307.4,555.1 1307.7,556.9 1308.0,555.9 1308.3,558.5 1308.6,555.8 1308.9,559.0 1309.2,558.6 1309.5,558.0 1309.8,562.5 1310.1,563.3 1310.4,561.5 1310.7,564.6 1311.0,565.1 1311.3,566.7 1311.6,562.8 1311.9,565.9 1312.2,564.9 1312.5,565.1 1312.8,569.0 1313.1,567.1 1313.4,569.0 1313.7,570.6 1314.0,570.3 1314.3,570.2 1314.6,570.0 1314.9,571.3 1315.2,572.6 1315.5,574.6 1315.8,571.5 1316.1,574.4 1316.4,575.7 1316.7,572.7 1317.0,576.4 1317.3,572.7 1317.6,576.2 1317.9,573.3 1318.2,574.2 1318.5,572.9 1318.8,576.1 1319.1,574.1 1319.4,575.6 1319.7,575.1 1320.0,576.2 1320.3,575.6 1320.6,576.2 1320.9,576.9 1321.2,576.9 1321.5,577.0 1321.8,579.2 1322.1,578.0 1322.4,577.2 1322.7,578.1 1323.0,575.0 1323.3,576.1 1323.6,576.7 1323.9,578.8 1324.2,575.8 1324.5,579.0 1324.8,579.5 1325.1,575.2 1325.4,577.0 1325.7,575.2 1326.0,578.4 1326.3,574.4 1326.6,579.0 1326.9,574.7 1327.2,575.2 1327.5,576.6 1327.8,577.1 1328.1,577.1 1328.4,574.6 1328.7,576.6 1329.0,579.2 1329.3,576.5 1329.6,577.9 1329.9,576.3 1330.2,576.2 1330.5,577.6 1330.8,575.3 1331.1,574.3 1331.4,577.8 1331.7,578.1 1332.0,575.9 1332.3,575.4 1332.6,577.7 1332.9,574.0 1333.2,575.2 1333.5,576.6 1333.8,577.0 1334.1,578.6 1334.4,573.9 1334.7,577.4 1335.0,575.7 1335.3,575.4 1335.6,578.4 1335.9,575.1 1336.2,576.7 1336.5,575.5 1336.8,574.2 1337.1,575.2 1337.4,576.2 1337.7,575.8 1338.0,577.6 1338.3,573.1 1338.6,573.6 1338.9,576.3 1339.2,573.5 1339.5,576.3 1339.8,573.9 1340.1,573.6 1340.4,575.4 1340.7,574.2 1341.0,576.8 1341.3,576.7 1341.6,575.0 1341.9,576.9 1342.2,575.5 1342.5,575.9 1342.8,577.9 1343.1,579.4 1343.4,578.7 1343.7,577.8 1344.0,579.5 1344.3,575.9 1344.6,578.0 1344.9,576.4 1345.2,574.2 1345.5,579.5 1345.8,577.4 1346.1,574.3 1346.4,577.8 1346.7,575.9 1347.0,575.4 1347.3,576.5 1347.6,576.6 1347.9,577.4 1348.2,574.2 1348.5,579.0 1348.8,578.9 1349.1,576.0 1349.4,575.1 1349.7,577.2 1350.0,577.1 1350.3,578.6 1350.6,576.2 1350.9,580.9 1351.2,578.2 1351.5,579.7 1351.8,577.6 1352.1,579.5 1352.4,577.9 1352.7,580.3 1353.0,579.0 1353.3,580.0 1353.6,579.6 1353.9,578.8 1354.2,579.1 1354.5,579.2 1354.8,578.4 1355.1,580.5 1355.4,578.0 1355.7,579.9 1356.0,579.0 1356.3,577.4 1356.6,582.0 1356.9,582.3 1357.2,581.3 1357.5,581.3 1357.8,577.9 1358.1,578.4 1358.4,579.2 1358.7,581.0 1359.0,577.3 1359.3,579.3 1359.6,581.7 1359.9,579.5 1360.2,581.3 1360.5,582.1 1360.8,580.5 1361.1,578.9 1361.4,579.2 1361.7,579.8 1362.0,581.3 1362.3,581.4 1362.6,581.8 1362.9,582.0 1363.2,579.0 1363.5,580.2 1363.8,579.9 1364.1,579.4 1364.4,582.5 1364.7,579.8 1365.0,582.9 1365.3,580.3 1365.6,580.6 1365.9,582.3 1366.2,582.3 1366.5,582.4 1366.8,579.6 1367.1,582.4 1367.4,578.8 1367.7,581.0 1368.0,578.2 1368.3,578.9 1368.6,579.4 1368.9,580.2 1369.2,582.4 1369.5,580.7 1369.8,582.8 1370.1,580.3 1370.4,579.7 1370.7,582.8 1371.0,582.9 1371.3,579.9 1371.6,580.4 1371.9,582.6 1372.2,581.4 1372.5,582.5 1372.8,579.7 1373.1,580.5 1373.4,581.8 1373.7,582.5 1374.0,582.2 1374.3,582.7 1374.6,582.7 1374.9,582.4 1375.2,583.5 1375.5,580.5 1375.8,580.9 1376.1,581.7 1376.4,583.1 1376.7,583.2 1377.0,581.5 1377.3,581.9 1377.6,582.0 1377.9,583.0 1378.2,579.8 1378.5,583.0 1378.8,579.4 1379.1,582.6 1379.4,582.1 1379.7,582.9 1380.0,581.0 1380.3,583.8 1380.6,582.7 1380.9,581.4 1381.2,582.5 1381.5,581.7 1381.8,583.2 1382.1,580.2 1382.4,584.0 1382.7,582.9 1383.0,581.0 1383.3,582.4 1383.6,583.4 1383.9,582.8 1384.2,583.7 1384.5,583.3 1384.8,583.3 1385.1,582.0 1385.4,583.8 1385.7,583.7 1386.0,584.9 1386.3,582.1 1386.6,582.3 1386.9,583.7 1387.2,580.5 1387.5,583.0 1387.8,584.0 1388.1,583.4 1388.4,582.7 1388.7,584.3 1389.0,582.0 1389.3,585.5 1389.6,584.5 1389.9,584.8 1390.2,581.8 1390.5,583.4 1390.8,581.0 1391.1,581.8 1391.4,583.9 1391.7,582.7 1392.0,583.9 1392.3,583.7 1392.6,584.7 1392.9,583.9 1393.2,584.5 1393.5,582.1 1393.8,583.6 1394.1,586.3 1394.4,583.5 1394.7,582.9 1395.0,582.4 1395.3,586.4 1395.6,582.9 1395.9,584.1 1396.2,585.6 1396.5,586.1 1396.8,584.7 1397.1,585.5 1397.4,582.7 1397.7,586.7 1398.0,586.2 1398.3,586.2 1398.6,585.9 1398.9,584.0 1399.2,586.5 1399.5,584.4 1399.8,585.7 1400.1,583.8 1400.4,582.9 1400.7,583.0 1401.0,583.2 1401.3,585.3 1401.6,586.1 1401.9,586.4 1402.2,586.9 1402.5,584.9 1402.8,583.3 1403.1,582.6 1403.4,583.5 1403.7,586.0 1404.0,586.0 1404.3,583.3 1404.6,585.5 1404.9,584.9 1405.2,586.6 1405.5,584.8 1405.8,583.4 1406.1,586.2 1406.4,584.1 1406.7,583.9 1407.0,582.5 1407.3,586.7 1407.6,584.5 1407.9,584.6 1408.2,586.4 1408.5,583.3 1408.8,584.4 1409.1,585.0 1409.4,584.6 1409.7,582.7 1410.0,586.1 1410.3,584.5 1410.6,583.6 1410.9,584.4 1411.2,586.9 1411.5,583.6 1411.8,583.1 1412.1,583.0 1412.4,586.4 1412.7,584.5 1413.0,584.8 1413.3,584.9 1413.6,583.9 1413.9,585.6 1414.2,584.1 1414.5,585.6 1414.8,587.1 1415.1,587.5 1415.4,586.8 1415.7,583.6 1416.0,582.6 1416.3,585.3 1416.6,584.9 1416.9,583.8 1417.2,583.1 1417.5,584.6 1417.8,584.5 1418.1,587.1 1418.4,586.8 1418.7,583.8 1419.0,585.7 1419.3,584.0 1419.6,584.3 1419.9,584.8 1420.2,586.4 1420.5,584.7 1420.8,587.0 1421.1,584.4 1421.4,587.0 1421.7,585.2 1422.0,587.6 1422.3,585.5 1422.6,586.8 1422.9,587.5 1423.2,585.7 1423.5,586.0 1423.8,588.3 1424.1,586.3 1424.4,587.6 1424.7,586.9 1425.0,588.9 1425.3,584.1 1425.6,584.8 1425.9,585.2 1426.2,587.3 1426.5,584.1 1426.8,584.9 1427.1,584.1 1427.4,588.1 1427.7,588.7 1428.0,584.1 1428.3,587.8 1428.6,586.1 1428.9,585.3 1429.2,585.3 1429.5,588.5 1429.8,587.1 1430.1,590.0 1430.4,589.1 1430.7,587.0 1431.0,586.0 1431.3,587.7 1431.6,585.3 1431.9,584.0 1432.2,585.7 1432.5,586.7 1432.8,586.5 1433.1,588.6 1433.4,587.6 1433.7,589.7 1434.0,588.1 1434.3,587.1 1434.6,587.4 1434.9,587.7 1435.2,588.4 1435.5,586.0 1435.8,588.9 1436.1,589.0 1436.4,586.7 1436.7,586.7 1437.0,584.5 1437.3,589.5 1437.6,586.4 1437.9,586.8 1438.2,586.2 1438.5,587.5 1438.8,589.3 1439.1,587.7 1439.4,585.7 1439.7,588.2 1440.0,586.2 1440.3,589.3 1440.6,588.3 1440.9,585.8 1441.2,587.7 1441.5,587.4 1441.8,586.8 1442.1,586.5 1442.4,587.6 1442.7,586.5 1443.0,588.0 1443.3,588.4 1443.6,584.1 1443.9,584.7 1444.2,584.8 1444.5,587.7 1444.8,584.6 1445.1,585.6 1445.4,587.5 1445.7,585.6 1446.0,583.6 1446.3,586.4 1446.6,585.2 1446.9,585.7 1447.2,584.6 1447.5,587.3 1447.8,588.7 1448.1,587.6 1448.4,588.9 1448.7,585.4 1449.0,586.4 1449.3,588.0 1449.6,586.9 1449.9,588.7 1450.2,587.9 1450.5,588.6 1450.8,585.6 1451.1,588.2 1451.4,587.2 1451.7,587.3 1452.0,586.0 1452.3,586.8 1452.6,584.7 1452.9,584.9 1453.2,584.9 1453.5,585.7 1453.8,585.5 1454.1,584.7 1454.4,587.8 1454.7,587.8 1455.0,587.9 1455.3,584.8 1455.6,589.6 1455.9,588.2 1456.2,583.9 1456.5,586.1 1456.8,584.5 1457.1,585.0 1457.4,585.2 1457.7,583.7 1458.0,586.4 1458.3,587.9 1458.6,587.0 1458.9,585.2 1459.2,586.5 1459.5,586.2 1459.8,585.9 1460.1,585.6 1460.4,586.0 1460.7,586.7 1461.0,588.8 1461.3,584.5 1461.6,588.2 1461.9,585.4 1462.2,587.0 1462.5,585.7 1462.8,585.9 1463.1,589.0 1463.4,586.4 1463.7,587.8 1464.0,587.6 1464.3,590.9 1464.6,588.4 1464.9,590.0 1465.2,587.3 1465.5,589.9 1465.8,588.5 1466.1,591.5 1466.4,591.5 1466.7,589.2 1467.0,591.6 1467.3,590.4 1467.6,592.3 1467.9,592.7 1468.2,594.2 1468.5,589.1 1468.8,591.4 1469.1,590.0 1469.4,589.5 1469.7,592.2 1470.0,591.9 1470.3,588.9 1470.6,591.7 1470.9,593.5 1471.2,592.1 1471.5,590.3 1471.8,591.3 1472.1,592.9 1472.4,592.4 1472.7,592.6 1473.0,593.7 1473.3,589.3 1473.6,590.8 1473.9,589.7 1474.2,592.1 1474.5,590.2 1474.8,591.0 1475.1,590.9 1475.4,592.8 1475.7,591.1 1476.0,592.6 1476.3,592.6 1476.6,591.4 1476.9,594.9 1477.2,590.7 1477.5,593.7 1477.8,592.3 1478.1,592.8 1478.4,592.7 1478.7,593.1 1479.0,592.9 1479.3,593.3 1479.6,593.7 1479.9,590.4 1480.2,592.0 1480.5,590.6 1480.8,591.2 1481.1,591.7 1481.4,591.2 1481.7,591.2 1482.0,589.5 1482.3,591.5 1482.6,593.2 1482.9,593.3 1483.2,589.2 1483.5,590.0 1483.8,590.7 1484.1,590.3 1484.4,590.6 1484.7,591.7 1485.0,593.8 1485.3,589.6 1485.6,590.6 1485.9,592.2 1486.2,592.0 1486.5,593.6 1486.8,592.3 1487.1,590.1 1487.4,592.6 1487.7,592.6 1488.0,588.9 1488.3,589.7 1488.6,591.2 1488.9,590.8 1489.2,593.3 1489.5,589.7 1489.8,593.9 1490.1,592.3 1490.4,591.1 1490.7,594.1 1491.0,593.3 1491.3,594.1 1491.6,594.2 1491.9,594.4 1492.2,594.1 1492.5,593.8 1492.8,594.6 1493.1,591.7 1493.4,595.3 1493.7,595.1 1494.0,594.2 1494.3,592.9 1494.6,593.5 1494.9,594.0 1495.2,592.5 1495.5,593.5 1495.8,592.7 1496.1,595.1 1496.4,596.3 1496.7,592.1 1497.0,595.7 1497.3,593.3 1497.6,592.3 1497.9,593.8 1498.2,595.4 1498.5,592.1 1498.8,594.8 1499.1,597.3 1499.4,596.6 1499.7,593.3 1500.0,594.6 1500.3,594.2 1500.6,595.6 1500.9,593.9 1501.2,596.9 1501.5,594.9 1501.8,592.3 1502.1,593.6 1502.4,592.8 1502.7,592.0 1503.0,593.5 1503.3,596.1 1503.6,595.5 1503.9,595.9 1504.2,593.0 1504.5,595.8 1504.8,596.1 1505.1,596.1 1505.4,593.5 1505.7,597.3 1506.0,596.7 1506.3,596.4 1506.6,597.1 1506.9,593.8 1507.2,593.9 1507.5,594.5 1507.8,592.6 1508.1,596.4 1508.4,594.3 1508.7,596.4 1509.0,595.4 1509.3,594.3 1509.6,596.3 1509.9,593.6 1510.2,593.8 1510.5,592.2 1510.8,593.0 1511.1,596.9 1511.4,593.1 1511.7,595.5 1512.0,592.8 1512.3,595.2 1512.6,592.9 1512.9,594.2 1513.2,594.5 1513.5,593.5 1513.8,591.6 1514.1,595.2 1514.4,595.0 1514.7,596.9 1515.0,594.2 1515.3,595.8 1515.6,594.2 1515.9,595.5 1516.2,596.3 1516.5,594.2 1516.8,596.7 1517.1,595.5 1517.4,593.0 1517.7,593.0 1518.0,593.2 1518.3,594.4 1518.6,596.0 1518.9,596.9 1519.2,594.0 1519.5,594.0 1519.8,594.7 1520.1,595.6 1520.4,595.9 1520.7,593.0 1521.0,595.0 1521.3,594.5 1521.6,594.4 1521.9,592.7 1522.2,595.8 1522.5,594.5 1522.8,592.6 1523.1,594.8 1523.4,594.5 1523.7,595.3 1524.0,594.4 1524.3,594.9 1524.6,595.0 1524.9,596.8 1525.2,596.1 1525.5,594.8 1525.8,596.3 1526.1,594.7 1526.4,593.9 1526.7,594.7 1527.0,596.5 1527.3,592.3 1527.6,594.1 1527.9,593.4 1528.2,592.9 1528.5,593.2 1528.8,595.3 1529.1,592.3 1529.4,595.5 1529.7,592.5 1530.0,594.3 1530.3,592.8 1530.6,594.3 1530.9,594.4 1531.2,595.4 1531.5,595.1 1531.8,594.0 1532.1,597.2 1532.4,594.9 1532.7,594.9 1533.0,597.2 1533.3,595.1 1533.6,596.5 1533.9,594.5 1534.2,596.1 1534.5,594.0 1534.8,595.1 1535.1,594.8 1535.4,594.6 1535.7,596.7 1536.0,592.9 1536.3,592.5 1536.6,595.0 1536.9,593.7 1537.2,595.0 1537.5,593.9 1537.8,592.7 1538.1,596.4 1538.4,592.1 1538.7,592.8 1539.0,592.9 1539.3,597.2 1539.6,597.5 1539.9,593.4 1540.2,596.8 1540.5,594.5 1540.8,595.0 1541.1,596.2 1541.4,592.5 1541.7,596.8 1542.0,596.7 1542.3,596.4 1542.6,593.2 1542.9,596.7 1543.2,596.8 1543.5,596.6 1543.8,595.4 1544.1,592.4 1544.4,596.0 1544.7,593.5 1545.0,596.2 1545.3,593.7 1545.6,593.1 1545.9,593.2 1546.2,592.7 1546.5,593.1 1546.8,597.4 1547.1,595.7 1547.4,595.4 1547.7,593.7 1548.0,596.1 1548.3,595.4 1548.6,598.8 1548.9,597.0 1549.2,597.4 1549.5,597.0 1549.8,598.7 1550.1,594.8 1550.4,597.2 1550.7,595.6 1551.0,597.5 1551.3,596.7 1551.6,595.3 1551.9,595.4 1552.2,595.1 1552.5,594.1 1552.8,593.2 1553.1,592.9 1553.4,595.5 1553.7,593.8 1554.0,593.4 1554.3,592.8 1554.6,596.4 1554.9,593.0 1555.2,596.0 1555.5,597.1 1555.8,594.1 1556.1,595.3 1556.4,592.6 1556.7,597.7 1557.0,593.6 1557.3,595.7 1557.6,595.9 1557.9,597.1 1558.2,594.6 1558.5,595.4 1558.8,597.2 1559.1,596.6 1559.4,593.7 1559.7,595.8 1560.0,596.8 1560.3,593.5 1560.6,596.3 1560.9,596.2 1561.2,596.5 1561.5,595.4 1561.8,594.5 1562.1,595.4 1562.4,594.9 1562.7,596.3 1563.0,596.2 1563.3,597.8 1563.6,594.5 1563.9,594.6 1564.2,594.5 1564.5,594.9 1564.8,593.9 1565.1,594.3 1565.4,594.3 1565.7,596.4 1566.0,595.4 1566.3,594.9 1566.6,596.7 1566.9,596.1 1567.2,595.6 1567.5,594.5 1567.8,596.5 1568.1,598.1 1568.4,595.2 1568.7,594.7 1569.0,597.5 1569.3,597.6 1569.6,597.9 1569.9,596.8 1570.2,594.8 1570.5,593.7 1570.8,597.4 1571.1,596.9 1571.4,595.3 1571.7,595.2 1572.0,597.8 1572.3,597.2 1572.6,596.9 1572.9,594.6 1573.2,596.7 1573.5,596.8 1573.8,594.7 1574.1,596.9 1574.4,594.0 1574.7,598.0 1575.0,598.3 1575.3,593.7 1575.6,594.1 1575.9,595.4 1576.2,594.1 1576.5,595.8 1576.8,595.0 1577.1,595.4 1577.4,594.5 1577.7,596.7 1578.0,596.8 1578.3,594.1 1578.6,598.2 1578.9,594.3 1579.2,595.0 1579.5,596.9 1579.8,594.0 1580.1,595.1 1580.4,593.8 1580.7,594.7 1581.0,595.6 1581.3,594.8 1581.6,598.3 1581.9,594.6 1582.2,595.2 1582.5,594.8 1582.8,595.0 1583.1,593.7 1583.4,593.4 1583.7,595.2 1584.0,592.2 1584.3,592.1 1584.6,595.5 1584.9,593.1 1585.2,595.4 1585.5,596.8 1585.8,596.9 1586.1,597.2 1586.4,596.9 1586.7,598.0 1587.0,597.1 1587.3,597.4 1587.6,597.4 1587.9,598.2 1588.2,594.3 1588.5,594.1 1588.8,595.9 1589.1,593.9 1589.4,593.4 1589.7,593.9 1590.0,597.3 1590.3,597.1 1590.6,595.4 1590.9,593.3 1591.2,596.2 1591.5,595.1 1591.8,595.1 1592.1,597.3 1592.4,596.7 1592.7,596.4 1593.0,596.2 1593.3,598.1 1593.6,596.3 1593.9,596.5 1594.2,595.2 1594.5,596.3 1594.8,597.7 1595.1,597.3 1595.4,598.5 1595.7,596.9 1596.0,597.3 1596.3,595.2 1596.6,594.1 1596.9,597.9 1597.2,596.2 1597.5,596.0 1597.8,596.8 1598.1,597.6 1598.4,596.6 1598.7,597.2 1599.0,595.2 1599.3,593.6 1599.6,597.0 1599.9,594.9 1600.2,596.0 1600.5,594.9 1600.8,593.3 1601.1,596.3 1601.4,597.7 1601.7,598.1 1602.0,596.0 1602.3,595.2 1602.6,596.8 1602.9,593.9 1603.2,595.0 1603.5,597.9 1603.8,594.3 1604.1,596.6 1604.4,594.3 1604.7,594.5 1605.0,593.4 1605.3,596.7 1605.6,594.2 1605.9,594.2 1606.2,594.4 1606.5,596.0 1606.8,596.8 1607.1,597.7 1607.4,596.0 1607.7,598.0 1608.0,596.2 1608.3,597.4 1608.6,594.4 1608.9,596.8 1609.2,595.3 1609.5,597.1 1609.8,596.3 1610.1,599.0 1610.4,595.1 1610.7,596.4 1611.0,596.7 1611.3,596.0 1611.6,597.2 1611.9,596.8 1612.2,597.7 1612.5,595.7 1612.8,596.2 1613.1,596.8 1613.4,596.6 1613.7,595.7 1614.0,597.6 1614.3,594.8 1614.6,594.6 1614.9,594.9 1615.2,594.4 1615.5,595.3 1615.8,597.5 1616.1,594.0 1616.4,596.0 1616.7,594.2 1617.0,595.5 1617.3,594.6 1617.6,595.0 1617.9,597.1 1618.2,598.1 1618.5,596.8 1618.8,594.0 1619.1,598.5 1619.4,597.0 1619.7,594.4 1620.0,594.5 1620.3,595.2 1620.6,594.6 1620.9,597.3 1621.2,597.3 1621.5,598.4 1621.8,598.3 1622.1,595.4 1622.4,596.5 1622.7,595.2 1623.0,596.8 1623.3,597.8 1623.6,596.2 1623.9,594.5 1624.2,595.1 1624.5,597.9 1624.8,596.1 1625.1,597.2 1625.4,597.9 1625.7,595.7 1626.0,595.1 1626.3,597.3 1626.6,595.6 1626.9,597.3 1627.2,595.1 1627.5,595.4 1627.8,594.4 1628.1,596.5 1628.4,596.7 1628.7,594.1 1629.0,596.8 1629.3,596.0 1629.6,598.8 1629.9,595.4 1630.2,597.2 1630.5,596.0 1630.8,595.1 1631.1,596.6 1631.4,597.0 1631.7,594.8 1632.0,594.4 1632.3,598.0 1632.6,595.8 1632.9,597.2 1633.2,596.0 1633.5,597.7 1633.8,598.2 1634.1,596.7 1634.4,598.4 1634.7,596.3 1635.0,597.9 1635.3,597.9 1635.6,596.1 1635.9,594.9 1636.2,598.4 1636.5,593.9 1636.8,596.6 1637.1,594.9 1637.4,596.8 1637.7,595.8 1638.0,595.5 1638.3,595.7 1638.6,593.6 1638.9,595.1 1639.2,597.8 1639.5,594.3 1639.8,595.8 1640.1,595.7 1640.4,598.8 1640.7,593.8 1641.0,595.5 1641.3,599.1 1641.6,595.9 1641.9,598.0 1642.2,598.9 1642.5,599.1 1642.8,599.4 1643.1,598.4 1643.4,597.1 1643.7,600.1 1644.0,596.9 1644.3,596.0 1644.6,597.6 1644.9,594.7 1645.2,596.1 1645.5,595.4 1645.8,597.5 1646.1,596.2 1646.4,598.6 1646.7,595.6 1647.0,595.3 1647.3,598.0 1647.6,597.9 1647.9,598.6 1648.2,598.4 1648.5,597.9 1648.8,596.9 1649.1,595.5 1649.4,597.6 1649.7,597.4 1650.0,596.5 1650.3,595.4 1650.6,595.2 1650.9,598.5 1651.2,596.1 1651.5,596.9 1651.8,597.8 1652.1,596.6 1652.4,599.4 1652.7,597.7 1653.0,596.2 1653.3,595.6 1653.6,595.4 1653.9,597.4 1654.2,598.4 1654.5,597.7 1654.8,596.8 1655.1,596.8 1655.4,596.0 1655.7,596.8 1656.0,598.4 1656.3,598.5 1656.6,597.8 1656.9,597.6 1657.2,595.7 1657.5,594.7 1657.8,596.9 1658.1,595.4 1658.4,596.7 1658.7,597.6 1659.0,598.0 1659.3,599.0 1659.6,599.2 1659.9,599.8 1660.2,596.5 1660.5,597.3 1660.8,599.7 1661.1,598.7 1661.4,596.2 1661.7,598.0 1662.0,597.3 1662.3,598.0 1662.6,598.2 1662.9,598.2 1663.2,598.2 1663.5,596.7 1663.8,597.2 1664.1,596.3 1664.4,596.9 1664.7,595.6 1665.0,596.1 1665.3,597.0 1665.6,596.3 1665.9,597.4 1666.2,594.5 1666.5,596.4 1666.8,595.8 1667.1,599.8 1667.4,595.1 1667.7,599.6 1668.0,595.4 1668.3,598.6 1668.6,598.6 1668.9,595.1 1669.2,599.1 1669.5,597.0 1669.8,598.0 1670.1,598.3 1670.4,594.6 1670.7,597.4 1671.0,598.9 1671.3,596.0 1671.6,598.6 1671.9,599.2 1672.2,598.9 1672.5,599.0 1672.8,595.9 1673.1,597.8 1673.4,599.7 1673.7,595.5 1674.0,596.7 1674.3,597.8 1674.6,599.3 1674.9,596.9 1675.2,596.7 1675.5,597.1 1675.8,598.7 1676.1,597.9 1676.4,596.2 1676.7,600.0 1677.0,599.8 1677.3,600.2 1677.6,599.2 1677.9,598.0 1678.2,598.8 1678.5,597.1 1678.8,597.5 1679.1,599.4 1679.4,601.3 1679.7,600.4 1680.0,599.1 1680.3,598.5 1680.6,599.3 1680.9,600.4 1681.2,601.1 1681.5,599.0 1681.8,600.9 1682.1,595.7 1682.4,596.6 1682.7,599.1 1683.0,598.9 1683.3,596.9 1683.6,599.5 1683.9,598.9 1684.2,599.8 1684.5,595.8 1684.8,597.0 1685.1,598.8 1685.4,597.8 1685.7,597.1 1686.0,597.2 1686.3,599.9 1686.6,595.8 1686.9,597.5 1687.2,598.3 1687.5,595.5 1687.8,596.3 1688.1,599.8 1688.4,598.3 1688.7,599.9 1689.0,596.6 1689.3,597.8 1689.6,597.5 1689.9,599.7 1690.2,598.8 1690.5,596.6 1690.8,598.9 1691.1,598.2 1691.4,597.2 1691.7,598.0 1692.0,599.6 1692.3,599.8" fill="none" stroke="#800000" stroke-width="2.5" stroke-linejoin="round"/>
<path d="M65.9,33.8 V597.0 H820.7" fill="none" stroke="#000" stroke-width="2.2"/>
<line x1="86.1" y1="597.0" x2="86.1" y2="608.3" stroke="#000" stroke-width="2.1"/>
<line x1="138.5" y1="597.0" x2="138.5" y2="602.0" stroke="#000" stroke-width="2.1"/>
<line x1="190.9" y1="597.0" x2="190.9" y2="608.3" stroke="#000" stroke-width="2.1"/>
<line x1="243.3" y1="597.0" x2="243.3" y2="602.0" stroke="#000" stroke-width="2.1"/>
<line x1="295.7" y1="597.0" x2="295.7" y2="608.3" stroke="#000" stroke-width="2.1"/>
<line x1="348.1" y1="597.0" x2="348.1" y2="602.0" stroke="#000" stroke-width="2.1"/>
<line x1="400.5" y1="597.0" x2="400.5" y2="608.3" stroke="#000" stroke-width="2.1"/>
<line x1="452.9" y1="597.0" x2="452.9" y2="602.0" stroke="#000" stroke-width="2.1"/>
<line x1="505.3" y1="597.0" x2="505.3" y2="608.3" stroke="#000" stroke-width="2.1"/>
<line x1="557.7" y1="597.0" x2="557.7" y2="602.0" stroke="#000" stroke-width="2.1"/>
<line x1="610.1" y1="597.0" x2="610.1" y2="608.3" stroke="#000" stroke-width="2.1"/>
<line x1="662.5" y1="597.0" x2="662.5" y2="602.0" stroke="#000" stroke-width="2.1"/>
<line x1="714.9" y1="597.0" x2="714.9" y2="608.3" stroke="#000" stroke-width="2.1"/>
<line x1="767.3" y1="597.0" x2="767.3" y2="602.0" stroke="#000" stroke-width="2.1"/>
<line x1="819.7" y1="597.0" x2="819.7" y2="608.3" stroke="#000" stroke-width="2.1"/>
<text x="86.1" y="632.2" text-anchor="middle" class="tk">5</text>
<text x="190.9" y="632.2" text-anchor="middle" class="tk">10</text>
<text x="295.7" y="632.2" text-anchor="middle" class="tk">15</text>
<text x="400.5" y="632.2" text-anchor="middle" class="tk">20</text>
<text x="505.3" y="632.2" text-anchor="middle" class="tk">25</text>
<text x="610.1" y="632.2" text-anchor="middle" class="tk">30</text>
<text x="714.9" y="632.2" text-anchor="middle" class="tk">35</text>
<text x="819.7" y="632.2" text-anchor="middle" class="tk">40</text>
<path d="M938.4,42.6 V605.3 H1693.2" fill="none" stroke="#000" stroke-width="2.2"/>
<line x1="958.6" y1="605.3" x2="958.6" y2="616.6" stroke="#000" stroke-width="2.1"/>
<line x1="1011.0" y1="605.3" x2="1011.0" y2="610.3" stroke="#000" stroke-width="2.1"/>
<line x1="1063.4" y1="605.3" x2="1063.4" y2="616.6" stroke="#000" stroke-width="2.1"/>
<line x1="1115.8" y1="605.3" x2="1115.8" y2="610.3" stroke="#000" stroke-width="2.1"/>
<line x1="1168.2" y1="605.3" x2="1168.2" y2="616.6" stroke="#000" stroke-width="2.1"/>
<line x1="1220.6" y1="605.3" x2="1220.6" y2="610.3" stroke="#000" stroke-width="2.1"/>
<line x1="1273.0" y1="605.3" x2="1273.0" y2="616.6" stroke="#000" stroke-width="2.1"/>
<line x1="1325.4" y1="605.3" x2="1325.4" y2="610.3" stroke="#000" stroke-width="2.1"/>
<line x1="1377.8" y1="605.3" x2="1377.8" y2="616.6" stroke="#000" stroke-width="2.1"/>
<line x1="1430.2" y1="605.3" x2="1430.2" y2="610.3" stroke="#000" stroke-width="2.1"/>
<line x1="1482.6" y1="605.3" x2="1482.6" y2="616.6" stroke="#000" stroke-width="2.1"/>
<line x1="1535.0" y1="605.3" x2="1535.0" y2="610.3" stroke="#000" stroke-width="2.1"/>
<line x1="1587.4" y1="605.3" x2="1587.4" y2="616.6" stroke="#000" stroke-width="2.1"/>
<line x1="1639.8" y1="605.3" x2="1639.8" y2="610.3" stroke="#000" stroke-width="2.1"/>
<line x1="1692.2" y1="605.3" x2="1692.2" y2="616.6" stroke="#000" stroke-width="2.1"/>
<text x="958.6" y="640.9" text-anchor="middle" class="tk">5</text>
<text x="1063.4" y="640.9" text-anchor="middle" class="tk">10</text>
<text x="1168.2" y="640.9" text-anchor="middle" class="tk">15</text>
<text x="1273.0" y="640.9" text-anchor="middle" class="tk">20</text>
<text x="1377.8" y="640.9" text-anchor="middle" class="tk">25</text>
<text x="1482.6" y="640.9" text-anchor="middle" class="tk">30</text>
<text x="1587.4" y="640.9" text-anchor="middle" class="tk">35</text>
<text x="1692.2" y="640.9" text-anchor="middle" class="tk">40</text>
<text x="373.6" y="658.7" class="al" textLength="152.4" lengthAdjust="spacingAndGlyphs">2<tspan class="sym">θ</tspan> (degrees)</text>
<text x="1251.8" y="667.2" class="al" textLength="152.4" lengthAdjust="spacingAndGlyphs">2<tspan class="sym">θ</tspan> (degrees)</text>
<text transform="translate(52.7,379.2) rotate(-90)" class="al" textLength="181.5" lengthAdjust="spacingAndGlyphs">Intensity (a.u.)</text>
<text transform="translate(921.5,396.8) rotate(-90)" class="al" textLength="181.5" lengthAdjust="spacingAndGlyphs">Intensity (a.u.)</text>
<text x="571.6" y="182.8" class="cl" fill="#008080" textLength="253.2" lengthAdjust="spacingAndGlyphs">RSP/RM-<tspan class="sym">β</tspan>-CD + STR</text>
<text x="693.6" y="419.2" class="cl" fill="#00ff00" textLength="52.2" lengthAdjust="spacingAndGlyphs">STR</text>
<text x="624.4" y="562.0" class="cl" fill="#800000" textLength="171" lengthAdjust="spacingAndGlyphs">RSP/RM-<tspan class="sym">β</tspan>-CD</text>
<text x="1433.3" y="203.5" class="cl" fill="#008080" textLength="253.4" lengthAdjust="spacingAndGlyphs">RSP/RM-<tspan class="sym">β</tspan>-CD + CEL</text>
<text x="1609.8" y="407.2" class="cl" fill="#00ff00" textLength="52.4" lengthAdjust="spacingAndGlyphs">CEL</text>
<text x="1503.4" y="572.9" class="cl" fill="#800000" textLength="170.6" lengthAdjust="spacingAndGlyphs">RSP/RM-<tspan class="sym">β</tspan>-CD</text>
<text y="724.4" class="cap"><tspan x="410.4">(</tspan><tspan x="421.4" font-weight="bold">a</tspan><tspan x="438">)</tspan></text>
<text y="724.4" class="cap"><tspan x="1280.7">(</tspan><tspan x="1292.4" font-weight="bold">b</tspan><tspan x="1312.2">)</tspan></text>
</svg>
</body></html>
